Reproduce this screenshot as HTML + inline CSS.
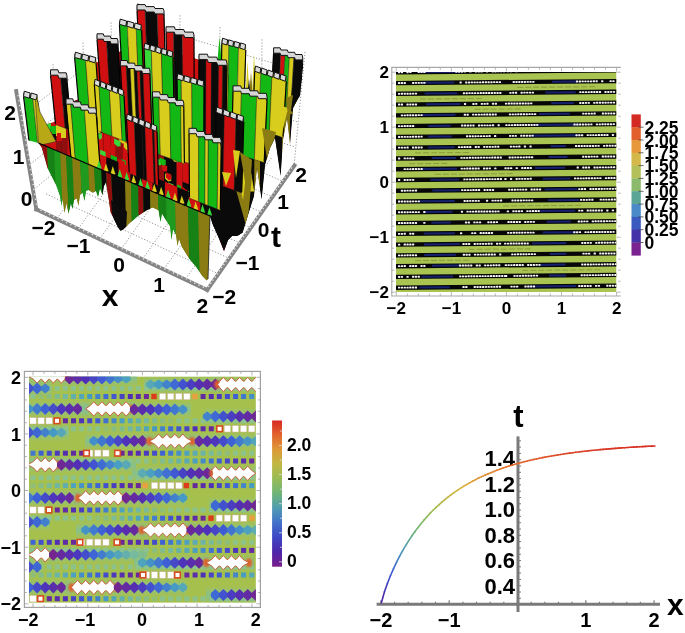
<!DOCTYPE html><html><head><meta charset="utf-8"><style>
html,body{margin:0;padding:0;background:#fff;width:685px;height:633px;overflow:hidden}
svg{display:block;filter:blur(0.6px)}
text{font-family:"Liberation Sans",sans-serif;font-weight:bold}
</style></head><body>
<svg width="685" height="633" viewBox="0 0 685 633">
<line x1="376.6" y1="604.2" x2="660" y2="604.2" stroke="#7a7a7a" stroke-width="3"/>
<line x1="518" y1="436.4" x2="518" y2="612" stroke="#7a7a7a" stroke-width="3"/>
<line x1="380.9" y1="600.2" x2="380.9" y2="604.2" stroke="#7a7a7a" stroke-width="1.2"/>
<line x1="394.6" y1="601.7" x2="394.6" y2="604.2" stroke="#7a7a7a" stroke-width="1.2"/>
<line x1="408.2" y1="601.7" x2="408.2" y2="604.2" stroke="#7a7a7a" stroke-width="1.2"/>
<line x1="421.9" y1="601.7" x2="421.9" y2="604.2" stroke="#7a7a7a" stroke-width="1.2"/>
<line x1="435.5" y1="601.7" x2="435.5" y2="604.2" stroke="#7a7a7a" stroke-width="1.2"/>
<line x1="449.2" y1="600.2" x2="449.2" y2="604.2" stroke="#7a7a7a" stroke-width="1.2"/>
<line x1="462.9" y1="601.7" x2="462.9" y2="604.2" stroke="#7a7a7a" stroke-width="1.2"/>
<line x1="476.5" y1="601.7" x2="476.5" y2="604.2" stroke="#7a7a7a" stroke-width="1.2"/>
<line x1="490.2" y1="601.7" x2="490.2" y2="604.2" stroke="#7a7a7a" stroke-width="1.2"/>
<line x1="503.8" y1="601.7" x2="503.8" y2="604.2" stroke="#7a7a7a" stroke-width="1.2"/>
<line x1="517.5" y1="600.2" x2="517.5" y2="604.2" stroke="#7a7a7a" stroke-width="1.2"/>
<line x1="531.2" y1="601.7" x2="531.2" y2="604.2" stroke="#7a7a7a" stroke-width="1.2"/>
<line x1="544.8" y1="601.7" x2="544.8" y2="604.2" stroke="#7a7a7a" stroke-width="1.2"/>
<line x1="558.5" y1="601.7" x2="558.5" y2="604.2" stroke="#7a7a7a" stroke-width="1.2"/>
<line x1="572.1" y1="601.7" x2="572.1" y2="604.2" stroke="#7a7a7a" stroke-width="1.2"/>
<line x1="585.8" y1="600.2" x2="585.8" y2="604.2" stroke="#7a7a7a" stroke-width="1.2"/>
<line x1="599.5" y1="601.7" x2="599.5" y2="604.2" stroke="#7a7a7a" stroke-width="1.2"/>
<line x1="613.1" y1="601.7" x2="613.1" y2="604.2" stroke="#7a7a7a" stroke-width="1.2"/>
<line x1="626.8" y1="601.7" x2="626.8" y2="604.2" stroke="#7a7a7a" stroke-width="1.2"/>
<line x1="640.4" y1="601.7" x2="640.4" y2="604.2" stroke="#7a7a7a" stroke-width="1.2"/>
<line x1="654.1" y1="600.2" x2="654.1" y2="604.2" stroke="#7a7a7a" stroke-width="1.2"/>
<line x1="518" y1="598.3" x2="521" y2="598.3" stroke="#7a7a7a" stroke-width="1"/>
<line x1="518" y1="592.0" x2="521" y2="592.0" stroke="#7a7a7a" stroke-width="1"/>
<line x1="518" y1="585.7" x2="521" y2="585.7" stroke="#7a7a7a" stroke-width="1"/>
<line x1="518" y1="579.4" x2="521" y2="579.4" stroke="#7a7a7a" stroke-width="1"/>
<line x1="518" y1="573.1" x2="521" y2="573.1" stroke="#7a7a7a" stroke-width="1"/>
<line x1="518" y1="566.8" x2="521" y2="566.8" stroke="#7a7a7a" stroke-width="1"/>
<line x1="518" y1="560.5" x2="521" y2="560.5" stroke="#7a7a7a" stroke-width="1"/>
<line x1="518" y1="554.2" x2="521" y2="554.2" stroke="#7a7a7a" stroke-width="1"/>
<line x1="518" y1="547.9" x2="521" y2="547.9" stroke="#7a7a7a" stroke-width="1"/>
<line x1="518" y1="541.6" x2="521" y2="541.6" stroke="#7a7a7a" stroke-width="1"/>
<line x1="518" y1="535.3" x2="521" y2="535.3" stroke="#7a7a7a" stroke-width="1"/>
<line x1="518" y1="529.0" x2="521" y2="529.0" stroke="#7a7a7a" stroke-width="1"/>
<line x1="518" y1="522.7" x2="521" y2="522.7" stroke="#7a7a7a" stroke-width="1"/>
<line x1="518" y1="516.4" x2="521" y2="516.4" stroke="#7a7a7a" stroke-width="1"/>
<line x1="518" y1="510.1" x2="521" y2="510.1" stroke="#7a7a7a" stroke-width="1"/>
<line x1="518" y1="503.8" x2="521" y2="503.8" stroke="#7a7a7a" stroke-width="1"/>
<line x1="518" y1="497.5" x2="521" y2="497.5" stroke="#7a7a7a" stroke-width="1"/>
<line x1="518" y1="491.2" x2="521" y2="491.2" stroke="#7a7a7a" stroke-width="1"/>
<line x1="518" y1="484.9" x2="521" y2="484.9" stroke="#7a7a7a" stroke-width="1"/>
<line x1="518" y1="478.6" x2="521" y2="478.6" stroke="#7a7a7a" stroke-width="1"/>
<line x1="518" y1="472.3" x2="521" y2="472.3" stroke="#7a7a7a" stroke-width="1"/>
<line x1="518" y1="466.0" x2="521" y2="466.0" stroke="#7a7a7a" stroke-width="1"/>
<line x1="518" y1="459.7" x2="521" y2="459.7" stroke="#7a7a7a" stroke-width="1"/>
<line x1="518" y1="453.4" x2="521" y2="453.4" stroke="#7a7a7a" stroke-width="1"/>
<line x1="518" y1="447.1" x2="521" y2="447.1" stroke="#7a7a7a" stroke-width="1"/>
<line x1="518" y1="440.8" x2="521" y2="440.8" stroke="#7a7a7a" stroke-width="1"/>
<text x="515" y="466.2" font-family="Liberation Sans" font-weight="bold" font-size="22" text-anchor="end">1.4</text>
<text x="515" y="491.7" font-family="Liberation Sans" font-weight="bold" font-size="22" text-anchor="end">1.2</text>
<text x="515" y="517.1" font-family="Liberation Sans" font-weight="bold" font-size="22" text-anchor="end">1.0</text>
<text x="515" y="542.6" font-family="Liberation Sans" font-weight="bold" font-size="22" text-anchor="end">0.8</text>
<text x="515" y="568.0" font-family="Liberation Sans" font-weight="bold" font-size="22" text-anchor="end">0.6</text>
<text x="515" y="593.5" font-family="Liberation Sans" font-weight="bold" font-size="22" text-anchor="end">0.4</text>
<text x="380.9" y="626.5" font-family="Liberation Sans" font-weight="bold" font-size="20" text-anchor="middle">−2</text>
<text x="449.2" y="626.5" font-family="Liberation Sans" font-weight="bold" font-size="20" text-anchor="middle">−1</text>
<text x="585.8" y="626.5" font-family="Liberation Sans" font-weight="bold" font-size="20" text-anchor="middle">1</text>
<text x="654.1" y="626.5" font-family="Liberation Sans" font-weight="bold" font-size="20" text-anchor="middle">2</text>
<text x="667" y="615" font-family="Liberation Sans" font-weight="bold" font-size="30">x</text>
<text x="518.3" y="426.8" font-family="Liberation Sans" font-weight="bold" font-size="31" text-anchor="middle">t</text>
<line x1="381.40" y1="602.80" x2="384.44" y2="591.84" stroke="#4d26aa" stroke-width="1.6" stroke-linecap="round"/>
<line x1="384.44" y1="591.84" x2="387.48" y2="583.20" stroke="#4239bb" stroke-width="1.6" stroke-linecap="round"/>
<line x1="387.48" y1="583.20" x2="390.52" y2="575.53" stroke="#3e4cc8" stroke-width="1.6" stroke-linecap="round"/>
<line x1="390.52" y1="575.53" x2="393.56" y2="568.57" stroke="#3c5dd0" stroke-width="1.6" stroke-linecap="round"/>
<line x1="393.56" y1="568.57" x2="396.59" y2="562.15" stroke="#416fca" stroke-width="1.6" stroke-linecap="round"/>
<line x1="396.59" y1="562.15" x2="399.63" y2="556.21" stroke="#4580c5" stroke-width="1.6" stroke-linecap="round"/>
<line x1="399.63" y1="556.21" x2="402.67" y2="550.66" stroke="#4990bf" stroke-width="1.6" stroke-linecap="round"/>
<line x1="402.67" y1="550.66" x2="405.71" y2="545.47" stroke="#509ab3" stroke-width="1.6" stroke-linecap="round"/>
<line x1="405.71" y1="545.47" x2="408.75" y2="540.61" stroke="#59a2a1" stroke-width="1.6" stroke-linecap="round"/>
<line x1="408.75" y1="540.61" x2="411.79" y2="536.03" stroke="#61a891" stroke-width="1.6" stroke-linecap="round"/>
<line x1="411.79" y1="536.03" x2="414.83" y2="531.71" stroke="#68af82" stroke-width="1.6" stroke-linecap="round"/>
<line x1="414.83" y1="531.71" x2="417.87" y2="527.63" stroke="#70b475" stroke-width="1.6" stroke-linecap="round"/>
<line x1="417.87" y1="527.63" x2="420.91" y2="523.78" stroke="#7ab66e" stroke-width="1.6" stroke-linecap="round"/>
<line x1="420.91" y1="523.78" x2="423.94" y2="520.14" stroke="#83b866" stroke-width="1.6" stroke-linecap="round"/>
<line x1="423.94" y1="520.14" x2="426.98" y2="516.68" stroke="#8bb960" stroke-width="1.6" stroke-linecap="round"/>
<line x1="426.98" y1="516.68" x2="430.02" y2="513.41" stroke="#94bb59" stroke-width="1.6" stroke-linecap="round"/>
<line x1="430.02" y1="513.41" x2="433.06" y2="510.30" stroke="#9bbd53" stroke-width="1.6" stroke-linecap="round"/>
<line x1="433.06" y1="510.30" x2="436.10" y2="507.34" stroke="#a3bd4e" stroke-width="1.6" stroke-linecap="round"/>
<line x1="436.10" y1="507.34" x2="439.14" y2="504.54" stroke="#aabc4c" stroke-width="1.6" stroke-linecap="round"/>
<line x1="439.14" y1="504.54" x2="442.18" y2="501.87" stroke="#b0ba49" stroke-width="1.6" stroke-linecap="round"/>
<line x1="442.18" y1="501.87" x2="445.22" y2="499.33" stroke="#b7b947" stroke-width="1.6" stroke-linecap="round"/>
<line x1="445.22" y1="499.33" x2="448.26" y2="496.91" stroke="#bdb845" stroke-width="1.6" stroke-linecap="round"/>
<line x1="448.26" y1="496.91" x2="451.29" y2="494.60" stroke="#c3b743" stroke-width="1.6" stroke-linecap="round"/>
<line x1="451.29" y1="494.60" x2="454.33" y2="492.40" stroke="#c8b641" stroke-width="1.6" stroke-linecap="round"/>
<line x1="454.33" y1="492.40" x2="457.37" y2="490.31" stroke="#ceb53f" stroke-width="1.6" stroke-linecap="round"/>
<line x1="457.37" y1="490.31" x2="460.41" y2="488.31" stroke="#d3b43d" stroke-width="1.6" stroke-linecap="round"/>
<line x1="460.41" y1="488.31" x2="463.45" y2="486.40" stroke="#d7b23b" stroke-width="1.6" stroke-linecap="round"/>
<line x1="463.45" y1="486.40" x2="466.49" y2="484.58" stroke="#d8ad3a" stroke-width="1.6" stroke-linecap="round"/>
<line x1="466.49" y1="484.58" x2="469.53" y2="482.84" stroke="#d9a83a" stroke-width="1.6" stroke-linecap="round"/>
<line x1="469.53" y1="482.84" x2="472.57" y2="481.18" stroke="#dba339" stroke-width="1.6" stroke-linecap="round"/>
<line x1="472.57" y1="481.18" x2="475.61" y2="479.60" stroke="#dc9e38" stroke-width="1.6" stroke-linecap="round"/>
<line x1="475.61" y1="479.60" x2="478.64" y2="478.08" stroke="#dd9a37" stroke-width="1.6" stroke-linecap="round"/>
<line x1="478.64" y1="478.08" x2="481.68" y2="476.63" stroke="#de9536" stroke-width="1.6" stroke-linecap="round"/>
<line x1="481.68" y1="476.63" x2="484.72" y2="475.24" stroke="#df9136" stroke-width="1.6" stroke-linecap="round"/>
<line x1="484.72" y1="475.24" x2="487.76" y2="473.92" stroke="#e08d35" stroke-width="1.6" stroke-linecap="round"/>
<line x1="487.76" y1="473.92" x2="490.80" y2="472.65" stroke="#e18a35" stroke-width="1.6" stroke-linecap="round"/>
<line x1="490.80" y1="472.65" x2="493.84" y2="471.43" stroke="#e28634" stroke-width="1.6" stroke-linecap="round"/>
<line x1="493.84" y1="471.43" x2="496.88" y2="470.27" stroke="#e38333" stroke-width="1.6" stroke-linecap="round"/>
<line x1="496.88" y1="470.27" x2="499.92" y2="469.16" stroke="#e47f33" stroke-width="1.6" stroke-linecap="round"/>
<line x1="499.92" y1="469.16" x2="502.96" y2="468.09" stroke="#e47c32" stroke-width="1.6" stroke-linecap="round"/>
<line x1="502.96" y1="468.09" x2="505.99" y2="467.07" stroke="#e57932" stroke-width="1.6" stroke-linecap="round"/>
<line x1="505.99" y1="467.07" x2="509.03" y2="466.09" stroke="#e57631" stroke-width="1.6" stroke-linecap="round"/>
<line x1="509.03" y1="466.09" x2="512.07" y2="465.15" stroke="#e57331" stroke-width="1.6" stroke-linecap="round"/>
<line x1="512.07" y1="465.15" x2="515.11" y2="464.25" stroke="#e46f30" stroke-width="1.6" stroke-linecap="round"/>
<line x1="515.11" y1="464.25" x2="518.15" y2="463.39" stroke="#e36c2f" stroke-width="1.6" stroke-linecap="round"/>
<line x1="518.15" y1="463.39" x2="521.19" y2="462.57" stroke="#e3692f" stroke-width="1.6" stroke-linecap="round"/>
<line x1="521.19" y1="462.57" x2="524.23" y2="461.77" stroke="#e2662e" stroke-width="1.6" stroke-linecap="round"/>
<line x1="524.23" y1="461.77" x2="527.27" y2="461.02" stroke="#e2632e" stroke-width="1.6" stroke-linecap="round"/>
<line x1="527.27" y1="461.02" x2="530.31" y2="460.29" stroke="#e1612d" stroke-width="1.6" stroke-linecap="round"/>
<line x1="530.31" y1="460.29" x2="533.34" y2="459.59" stroke="#e15e2d" stroke-width="1.6" stroke-linecap="round"/>
<line x1="533.34" y1="459.59" x2="536.38" y2="458.92" stroke="#e05c2c" stroke-width="1.6" stroke-linecap="round"/>
<line x1="536.38" y1="458.92" x2="539.42" y2="458.28" stroke="#e05a2c" stroke-width="1.6" stroke-linecap="round"/>
<line x1="539.42" y1="458.28" x2="542.46" y2="457.66" stroke="#df572b" stroke-width="1.6" stroke-linecap="round"/>
<line x1="542.46" y1="457.66" x2="545.50" y2="457.07" stroke="#df552b" stroke-width="1.6" stroke-linecap="round"/>
<line x1="545.50" y1="457.07" x2="548.54" y2="456.50" stroke="#df532b" stroke-width="1.6" stroke-linecap="round"/>
<line x1="548.54" y1="456.50" x2="551.58" y2="455.95" stroke="#de512a" stroke-width="1.6" stroke-linecap="round"/>
<line x1="551.58" y1="455.95" x2="554.62" y2="455.43" stroke="#de4f2a" stroke-width="1.6" stroke-linecap="round"/>
<line x1="554.62" y1="455.43" x2="557.66" y2="454.93" stroke="#de4d2a" stroke-width="1.6" stroke-linecap="round"/>
<line x1="557.66" y1="454.93" x2="560.69" y2="454.44" stroke="#dd4c29" stroke-width="1.6" stroke-linecap="round"/>
<line x1="560.69" y1="454.44" x2="563.73" y2="453.98" stroke="#dd4a29" stroke-width="1.6" stroke-linecap="round"/>
<line x1="563.73" y1="453.98" x2="566.77" y2="453.53" stroke="#dd4829" stroke-width="1.6" stroke-linecap="round"/>
<line x1="566.77" y1="453.53" x2="569.81" y2="453.10" stroke="#dc4728" stroke-width="1.6" stroke-linecap="round"/>
<line x1="569.81" y1="453.10" x2="572.85" y2="452.69" stroke="#dc4528" stroke-width="1.6" stroke-linecap="round"/>
<line x1="572.85" y1="452.69" x2="575.89" y2="452.30" stroke="#dc4428" stroke-width="1.6" stroke-linecap="round"/>
<line x1="575.89" y1="452.30" x2="578.93" y2="451.92" stroke="#dc4228" stroke-width="1.6" stroke-linecap="round"/>
<line x1="578.93" y1="451.92" x2="581.97" y2="451.55" stroke="#db4127" stroke-width="1.6" stroke-linecap="round"/>
<line x1="581.97" y1="451.55" x2="585.01" y2="451.20" stroke="#db4027" stroke-width="1.6" stroke-linecap="round"/>
<line x1="585.01" y1="451.20" x2="588.04" y2="450.86" stroke="#db3f27" stroke-width="1.6" stroke-linecap="round"/>
<line x1="588.04" y1="450.86" x2="591.08" y2="450.54" stroke="#db3d27" stroke-width="1.6" stroke-linecap="round"/>
<line x1="591.08" y1="450.54" x2="594.12" y2="450.23" stroke="#da3c26" stroke-width="1.6" stroke-linecap="round"/>
<line x1="594.12" y1="450.23" x2="597.16" y2="449.93" stroke="#da3b26" stroke-width="1.6" stroke-linecap="round"/>
<line x1="597.16" y1="449.93" x2="600.20" y2="449.64" stroke="#da3a26" stroke-width="1.6" stroke-linecap="round"/>
<line x1="600.20" y1="449.64" x2="603.24" y2="449.36" stroke="#da3926" stroke-width="1.6" stroke-linecap="round"/>
<line x1="603.24" y1="449.36" x2="606.28" y2="449.09" stroke="#da3826" stroke-width="1.6" stroke-linecap="round"/>
<line x1="606.28" y1="449.09" x2="609.32" y2="448.84" stroke="#d93725" stroke-width="1.6" stroke-linecap="round"/>
<line x1="609.32" y1="448.84" x2="612.36" y2="448.59" stroke="#d93625" stroke-width="1.6" stroke-linecap="round"/>
<line x1="612.36" y1="448.59" x2="615.39" y2="448.35" stroke="#d93525" stroke-width="1.6" stroke-linecap="round"/>
<line x1="615.39" y1="448.35" x2="618.43" y2="448.12" stroke="#d93525" stroke-width="1.6" stroke-linecap="round"/>
<line x1="618.43" y1="448.12" x2="621.47" y2="447.90" stroke="#d93425" stroke-width="1.6" stroke-linecap="round"/>
<line x1="621.47" y1="447.90" x2="624.51" y2="447.69" stroke="#d93325" stroke-width="1.6" stroke-linecap="round"/>
<line x1="624.51" y1="447.69" x2="627.55" y2="447.49" stroke="#d93225" stroke-width="1.6" stroke-linecap="round"/>
<line x1="627.55" y1="447.49" x2="630.59" y2="447.29" stroke="#d83224" stroke-width="1.6" stroke-linecap="round"/>
<line x1="630.59" y1="447.29" x2="633.63" y2="447.10" stroke="#d83124" stroke-width="1.6" stroke-linecap="round"/>
<line x1="633.63" y1="447.10" x2="636.67" y2="446.92" stroke="#d83024" stroke-width="1.6" stroke-linecap="round"/>
<line x1="636.67" y1="446.92" x2="639.71" y2="446.75" stroke="#d83024" stroke-width="1.6" stroke-linecap="round"/>
<line x1="639.71" y1="446.75" x2="642.74" y2="446.58" stroke="#d82f24" stroke-width="1.6" stroke-linecap="round"/>
<line x1="642.74" y1="446.58" x2="645.78" y2="446.42" stroke="#d82e24" stroke-width="1.6" stroke-linecap="round"/>
<line x1="645.78" y1="446.42" x2="648.82" y2="446.26" stroke="#d82e24" stroke-width="1.6" stroke-linecap="round"/>
<line x1="648.82" y1="446.26" x2="651.86" y2="446.11" stroke="#d82d24" stroke-width="1.6" stroke-linecap="round"/>
<line x1="651.86" y1="446.11" x2="654.90" y2="445.97" stroke="#d82d24" stroke-width="1.6" stroke-linecap="round"/>
<clipPath id="p2clip"><rect x="396.0" y="72.0" width="220.5" height="220.0"/></clipPath>
<g clip-path="url(#p2clip)">
<rect x="396.0" y="72.0" width="220.5" height="220.0" fill="#aac452"/>
<polygon points="396.0,59.3 616.5,57.3 616.5,61.7 396.0,63.7" fill="#060608"/>
<polygon points="427.0,60.2 457.9,60.0 457.9,62.0 427.0,62.2" fill="#16226e"/>
<polygon points="547.1,59.2 579.1,58.9 579.1,60.9 547.1,61.2" fill="#16226e"/>
<rect x="400.8" y="60.5" width="2.3" height="1.9" rx="0.6" fill="#f4f4f4"/>
<rect x="403.6" y="60.5" width="2.3" height="1.9" rx="0.6" fill="#f4f4f4"/>
<rect x="406.4" y="60.5" width="2.3" height="1.9" rx="0.6" fill="#f4f4f4"/>
<rect x="409.2" y="60.5" width="2.3" height="1.9" rx="0.6" fill="#f4f4f4"/>
<rect x="412.0" y="60.4" width="2.3" height="1.9" rx="0.6" fill="#f4f4f4"/>
<rect x="414.8" y="60.4" width="2.3" height="1.9" rx="0.6" fill="#f4f4f4"/>
<rect x="417.6" y="60.4" width="2.3" height="1.9" rx="0.6" fill="#f4f4f4"/>
<rect x="420.4" y="60.4" width="2.3" height="1.9" rx="0.6" fill="#f4f4f4"/>
<rect x="467.0" y="59.9" width="2.3" height="1.9" rx="0.6" fill="#f4f4f4"/>
<rect x="469.8" y="59.9" width="2.3" height="1.9" rx="0.6" fill="#f4f4f4"/>
<rect x="472.6" y="59.9" width="2.3" height="1.9" rx="0.6" fill="#f4f4f4"/>
<rect x="475.4" y="59.9" width="2.3" height="1.9" rx="0.6" fill="#f4f4f4"/>
<rect x="478.2" y="59.8" width="2.3" height="1.9" rx="0.6" fill="#f4f4f4"/>
<rect x="481.0" y="59.8" width="2.3" height="1.9" rx="0.6" fill="#f4f4f4"/>
<rect x="483.8" y="59.8" width="2.3" height="1.9" rx="0.6" fill="#f4f4f4"/>
<rect x="489.4" y="59.7" width="2.3" height="1.9" rx="0.6" fill="#f4f4f4"/>
<rect x="492.2" y="59.7" width="2.3" height="1.9" rx="0.6" fill="#f4f4f4"/>
<rect x="510.5" y="59.5" width="2.3" height="1.9" rx="0.6" fill="#f4f4f4"/>
<rect x="516.1" y="59.5" width="2.3" height="1.9" rx="0.6" fill="#f4f4f4"/>
<rect x="518.9" y="59.5" width="2.3" height="1.9" rx="0.6" fill="#f4f4f4"/>
<rect x="521.7" y="59.4" width="2.3" height="1.9" rx="0.6" fill="#f4f4f4"/>
<rect x="527.3" y="59.4" width="2.3" height="1.9" rx="0.6" fill="#f4f4f4"/>
<rect x="535.7" y="59.3" width="2.3" height="1.9" rx="0.6" fill="#f4f4f4"/>
<rect x="538.5" y="59.3" width="2.3" height="1.9" rx="0.6" fill="#f4f4f4"/>
<rect x="579.5" y="58.9" width="2.3" height="1.9" rx="0.6" fill="#f4f4f4"/>
<rect x="582.3" y="58.9" width="2.3" height="1.9" rx="0.6" fill="#f4f4f4"/>
<rect x="585.1" y="58.9" width="2.3" height="1.9" rx="0.6" fill="#f4f4f4"/>
<rect x="587.9" y="58.8" width="2.3" height="1.9" rx="0.6" fill="#f4f4f4"/>
<rect x="590.7" y="58.8" width="2.3" height="1.9" rx="0.6" fill="#f4f4f4"/>
<rect x="593.5" y="58.8" width="2.3" height="1.9" rx="0.6" fill="#f4f4f4"/>
<rect x="596.3" y="58.8" width="2.3" height="1.9" rx="0.6" fill="#f4f4f4"/>
<rect x="599.1" y="58.7" width="2.3" height="1.9" rx="0.6" fill="#f4f4f4"/>
<rect x="601.9" y="58.7" width="2.3" height="1.9" rx="0.6" fill="#f4f4f4"/>
<rect x="604.7" y="58.7" width="2.3" height="1.9" rx="0.6" fill="#f4f4f4"/>
<rect x="607.5" y="58.7" width="2.3" height="1.9" rx="0.6" fill="#f4f4f4"/>
<rect x="610.3" y="58.6" width="2.3" height="1.9" rx="0.6" fill="#f4f4f4"/>
<rect x="613.1" y="58.6" width="2.3" height="1.9" rx="0.6" fill="#f4f4f4"/>
<polygon points="396.0,70.1 616.5,68.1 616.5,72.5 396.0,74.5" fill="#060608"/>
<polygon points="417.9,71.1 460.7,70.7 460.7,72.7 417.9,73.1" fill="#16226e"/>
<polygon points="528.5,70.1 576.0,69.7 576.0,71.7 528.5,72.1" fill="#16226e"/>
<rect x="398.0" y="71.3" width="2.3" height="1.9" rx="0.6" fill="#f4f4f4"/>
<rect x="400.8" y="71.3" width="2.3" height="1.9" rx="0.6" fill="#f4f4f4"/>
<rect x="406.4" y="71.3" width="2.3" height="1.9" rx="0.6" fill="#f4f4f4"/>
<rect x="409.2" y="71.2" width="2.3" height="1.9" rx="0.6" fill="#f4f4f4"/>
<rect x="417.6" y="71.2" width="2.3" height="1.9" rx="0.6" fill="#f4f4f4"/>
<rect x="420.4" y="71.1" width="2.3" height="1.9" rx="0.6" fill="#f4f4f4"/>
<rect x="423.2" y="71.1" width="2.3" height="1.9" rx="0.6" fill="#f4f4f4"/>
<rect x="455.2" y="70.8" width="2.3" height="1.9" rx="0.6" fill="#f4f4f4"/>
<rect x="458.0" y="70.8" width="2.3" height="1.9" rx="0.6" fill="#f4f4f4"/>
<rect x="460.8" y="70.8" width="2.3" height="1.9" rx="0.6" fill="#f4f4f4"/>
<rect x="463.6" y="70.7" width="2.3" height="1.9" rx="0.6" fill="#f4f4f4"/>
<rect x="469.2" y="70.7" width="2.3" height="1.9" rx="0.6" fill="#f4f4f4"/>
<rect x="474.8" y="70.6" width="2.3" height="1.9" rx="0.6" fill="#f4f4f4"/>
<rect x="477.6" y="70.6" width="2.3" height="1.9" rx="0.6" fill="#f4f4f4"/>
<rect x="480.4" y="70.6" width="2.3" height="1.9" rx="0.6" fill="#f4f4f4"/>
<rect x="486.0" y="70.5" width="2.3" height="1.9" rx="0.6" fill="#f4f4f4"/>
<rect x="491.6" y="70.5" width="2.3" height="1.9" rx="0.6" fill="#f4f4f4"/>
<rect x="494.4" y="70.5" width="2.3" height="1.9" rx="0.6" fill="#f4f4f4"/>
<rect x="497.2" y="70.4" width="2.3" height="1.9" rx="0.6" fill="#f4f4f4"/>
<rect x="500.0" y="70.4" width="2.3" height="1.9" rx="0.6" fill="#f4f4f4"/>
<rect x="502.8" y="70.4" width="2.3" height="1.9" rx="0.6" fill="#f4f4f4"/>
<rect x="506.9" y="70.3" width="2.3" height="1.9" rx="0.6" fill="#f4f4f4"/>
<rect x="509.7" y="70.3" width="2.3" height="1.9" rx="0.6" fill="#f4f4f4"/>
<rect x="515.3" y="70.3" width="2.3" height="1.9" rx="0.6" fill="#f4f4f4"/>
<rect x="518.1" y="70.2" width="2.3" height="1.9" rx="0.6" fill="#f4f4f4"/>
<rect x="523.7" y="70.2" width="2.3" height="1.9" rx="0.6" fill="#f4f4f4"/>
<rect x="526.5" y="70.2" width="2.3" height="1.9" rx="0.6" fill="#f4f4f4"/>
<rect x="529.3" y="70.1" width="2.3" height="1.9" rx="0.6" fill="#f4f4f4"/>
<rect x="532.1" y="70.1" width="2.3" height="1.9" rx="0.6" fill="#f4f4f4"/>
<rect x="534.9" y="70.1" width="2.3" height="1.9" rx="0.6" fill="#f4f4f4"/>
<rect x="573.1" y="69.7" width="2.3" height="1.9" rx="0.6" fill="#f4f4f4"/>
<rect x="575.9" y="69.7" width="2.3" height="1.9" rx="0.6" fill="#f4f4f4"/>
<rect x="578.7" y="69.7" width="2.3" height="1.9" rx="0.6" fill="#f4f4f4"/>
<rect x="584.3" y="69.6" width="2.3" height="1.9" rx="0.6" fill="#f4f4f4"/>
<rect x="587.1" y="69.6" width="2.3" height="1.9" rx="0.6" fill="#f4f4f4"/>
<rect x="589.9" y="69.6" width="2.3" height="1.9" rx="0.6" fill="#f4f4f4"/>
<rect x="592.7" y="69.6" width="2.3" height="1.9" rx="0.6" fill="#f4f4f4"/>
<rect x="595.5" y="69.5" width="2.3" height="1.9" rx="0.6" fill="#f4f4f4"/>
<rect x="601.1" y="69.5" width="2.3" height="1.9" rx="0.6" fill="#f4f4f4"/>
<rect x="603.9" y="69.5" width="2.3" height="1.9" rx="0.6" fill="#f4f4f4"/>
<rect x="606.7" y="69.4" width="2.3" height="1.9" rx="0.6" fill="#f4f4f4"/>
<rect x="609.5" y="69.4" width="2.3" height="1.9" rx="0.6" fill="#f4f4f4"/>
<rect x="612.3" y="69.4" width="2.3" height="1.9" rx="0.6" fill="#f4f4f4"/>
<polygon points="396.0,80.9 616.5,78.9 616.5,83.3 396.0,85.3" fill="#060608"/>
<polygon points="421.7,81.8 454.4,81.5 454.4,83.5 421.7,83.8" fill="#16226e"/>
<polygon points="552.0,80.7 577.6,80.4 577.6,82.4 552.0,82.7" fill="#16226e"/>
<rect x="398.0" y="82.1" width="2.3" height="1.9" rx="0.6" fill="#f4f4f4"/>
<rect x="400.8" y="82.1" width="2.3" height="1.9" rx="0.6" fill="#f4f4f4"/>
<rect x="403.6" y="82.1" width="2.3" height="1.9" rx="0.6" fill="#f4f4f4"/>
<rect x="412.0" y="82.0" width="2.3" height="1.9" rx="0.6" fill="#f4f4f4"/>
<rect x="414.8" y="81.9" width="2.3" height="1.9" rx="0.6" fill="#f4f4f4"/>
<rect x="417.6" y="81.9" width="2.3" height="1.9" rx="0.6" fill="#f4f4f4"/>
<rect x="420.4" y="81.9" width="2.3" height="1.9" rx="0.6" fill="#f4f4f4"/>
<rect x="423.2" y="81.9" width="2.3" height="1.9" rx="0.6" fill="#f4f4f4"/>
<rect x="459.5" y="81.5" width="2.3" height="1.9" rx="0.6" fill="#f4f4f4"/>
<rect x="465.1" y="81.5" width="2.3" height="1.9" rx="0.6" fill="#f4f4f4"/>
<rect x="467.9" y="81.5" width="2.3" height="1.9" rx="0.6" fill="#f4f4f4"/>
<rect x="470.7" y="81.4" width="2.3" height="1.9" rx="0.6" fill="#f4f4f4"/>
<rect x="473.5" y="81.4" width="2.3" height="1.9" rx="0.6" fill="#f4f4f4"/>
<rect x="476.3" y="81.4" width="2.3" height="1.9" rx="0.6" fill="#f4f4f4"/>
<rect x="479.1" y="81.4" width="2.3" height="1.9" rx="0.6" fill="#f4f4f4"/>
<rect x="481.9" y="81.3" width="2.3" height="1.9" rx="0.6" fill="#f4f4f4"/>
<rect x="484.7" y="81.3" width="2.3" height="1.9" rx="0.6" fill="#f4f4f4"/>
<rect x="487.5" y="81.3" width="2.3" height="1.9" rx="0.6" fill="#f4f4f4"/>
<rect x="490.3" y="81.3" width="2.3" height="1.9" rx="0.6" fill="#f4f4f4"/>
<rect x="493.1" y="81.2" width="2.3" height="1.9" rx="0.6" fill="#f4f4f4"/>
<rect x="495.9" y="81.2" width="2.3" height="1.9" rx="0.6" fill="#f4f4f4"/>
<rect x="498.7" y="81.2" width="2.3" height="1.9" rx="0.6" fill="#f4f4f4"/>
<rect x="512.6" y="81.1" width="2.3" height="1.9" rx="0.6" fill="#f4f4f4"/>
<rect x="515.4" y="81.0" width="2.3" height="1.9" rx="0.6" fill="#f4f4f4"/>
<rect x="518.2" y="81.0" width="2.3" height="1.9" rx="0.6" fill="#f4f4f4"/>
<rect x="521.0" y="81.0" width="2.3" height="1.9" rx="0.6" fill="#f4f4f4"/>
<rect x="523.8" y="81.0" width="2.3" height="1.9" rx="0.6" fill="#f4f4f4"/>
<rect x="526.6" y="80.9" width="2.3" height="1.9" rx="0.6" fill="#f4f4f4"/>
<rect x="529.4" y="80.9" width="2.3" height="1.9" rx="0.6" fill="#f4f4f4"/>
<rect x="532.2" y="80.9" width="2.3" height="1.9" rx="0.6" fill="#f4f4f4"/>
<rect x="575.9" y="80.5" width="2.3" height="1.9" rx="0.6" fill="#f4f4f4"/>
<rect x="578.7" y="80.5" width="2.3" height="1.9" rx="0.6" fill="#f4f4f4"/>
<rect x="581.5" y="80.4" width="2.3" height="1.9" rx="0.6" fill="#f4f4f4"/>
<rect x="584.3" y="80.4" width="2.3" height="1.9" rx="0.6" fill="#f4f4f4"/>
<rect x="587.1" y="80.4" width="2.3" height="1.9" rx="0.6" fill="#f4f4f4"/>
<rect x="589.9" y="80.4" width="2.3" height="1.9" rx="0.6" fill="#f4f4f4"/>
<rect x="592.7" y="80.3" width="2.3" height="1.9" rx="0.6" fill="#f4f4f4"/>
<rect x="595.5" y="80.3" width="2.3" height="1.9" rx="0.6" fill="#f4f4f4"/>
<rect x="601.1" y="80.3" width="2.3" height="1.9" rx="0.6" fill="#f4f4f4"/>
<rect x="609.5" y="80.2" width="2.3" height="1.9" rx="0.6" fill="#f4f4f4"/>
<rect x="612.3" y="80.2" width="2.3" height="1.9" rx="0.6" fill="#f4f4f4"/>
<rect x="517.1" y="86.9" width="6.0" height="1" fill="#8c9a3a"/>
<rect x="525.1" y="86.8" width="6.0" height="1" fill="#8c9a3a"/>
<rect x="533.1" y="86.7" width="6.0" height="1" fill="#8c9a3a"/>
<rect x="541.1" y="86.7" width="6.0" height="1" fill="#8c9a3a"/>
<rect x="549.1" y="86.6" width="6.0" height="1" fill="#8c9a3a"/>
<rect x="557.1" y="86.5" width="6.0" height="1" fill="#8c9a3a"/>
<rect x="565.1" y="86.4" width="6.0" height="1" fill="#8c9a3a"/>
<rect x="573.1" y="86.4" width="6.0" height="1" fill="#8c9a3a"/>
<rect x="581.1" y="86.3" width="6.0" height="1" fill="#8c9a3a"/>
<rect x="589.1" y="86.2" width="6.0" height="1" fill="#8c9a3a"/>
<polygon points="396.0,91.6 616.5,89.6 616.5,94.0 396.0,96.0" fill="#060608"/>
<polygon points="424.6,92.6 457.3,92.3 457.3,94.3 424.6,94.6" fill="#16226e"/>
<polygon points="545.3,91.5 575.7,91.2 575.7,93.2 545.3,93.5" fill="#16226e"/>
<rect x="398.0" y="92.9" width="2.3" height="1.9" rx="0.6" fill="#f4f4f4"/>
<rect x="400.8" y="92.8" width="2.3" height="1.9" rx="0.6" fill="#f4f4f4"/>
<rect x="403.6" y="92.8" width="2.3" height="1.9" rx="0.6" fill="#f4f4f4"/>
<rect x="406.4" y="92.8" width="2.3" height="1.9" rx="0.6" fill="#f4f4f4"/>
<rect x="409.2" y="92.8" width="2.3" height="1.9" rx="0.6" fill="#f4f4f4"/>
<rect x="412.0" y="92.7" width="2.3" height="1.9" rx="0.6" fill="#f4f4f4"/>
<rect x="414.8" y="92.7" width="2.3" height="1.9" rx="0.6" fill="#f4f4f4"/>
<rect x="462.8" y="92.3" width="2.3" height="1.9" rx="0.6" fill="#f4f4f4"/>
<rect x="465.6" y="92.3" width="2.3" height="1.9" rx="0.6" fill="#f4f4f4"/>
<rect x="468.4" y="92.2" width="2.3" height="1.9" rx="0.6" fill="#f4f4f4"/>
<rect x="471.2" y="92.2" width="2.3" height="1.9" rx="0.6" fill="#f4f4f4"/>
<rect x="474.0" y="92.2" width="2.3" height="1.9" rx="0.6" fill="#f4f4f4"/>
<rect x="476.8" y="92.2" width="2.3" height="1.9" rx="0.6" fill="#f4f4f4"/>
<rect x="479.6" y="92.1" width="2.3" height="1.9" rx="0.6" fill="#f4f4f4"/>
<rect x="482.4" y="92.1" width="2.3" height="1.9" rx="0.6" fill="#f4f4f4"/>
<rect x="485.2" y="92.1" width="2.3" height="1.9" rx="0.6" fill="#f4f4f4"/>
<rect x="488.0" y="92.1" width="2.3" height="1.9" rx="0.6" fill="#f4f4f4"/>
<rect x="490.8" y="92.0" width="2.3" height="1.9" rx="0.6" fill="#f4f4f4"/>
<rect x="493.6" y="92.0" width="2.3" height="1.9" rx="0.6" fill="#f4f4f4"/>
<rect x="496.4" y="92.0" width="2.3" height="1.9" rx="0.6" fill="#f4f4f4"/>
<rect x="499.2" y="92.0" width="2.3" height="1.9" rx="0.6" fill="#f4f4f4"/>
<rect x="509.3" y="91.9" width="2.3" height="1.9" rx="0.6" fill="#f4f4f4"/>
<rect x="512.1" y="91.8" width="2.3" height="1.9" rx="0.6" fill="#f4f4f4"/>
<rect x="514.9" y="91.8" width="2.3" height="1.9" rx="0.6" fill="#f4f4f4"/>
<rect x="520.5" y="91.8" width="2.3" height="1.9" rx="0.6" fill="#f4f4f4"/>
<rect x="523.3" y="91.7" width="2.3" height="1.9" rx="0.6" fill="#f4f4f4"/>
<rect x="526.1" y="91.7" width="2.3" height="1.9" rx="0.6" fill="#f4f4f4"/>
<rect x="528.9" y="91.7" width="2.3" height="1.9" rx="0.6" fill="#f4f4f4"/>
<rect x="531.7" y="91.7" width="2.3" height="1.9" rx="0.6" fill="#f4f4f4"/>
<rect x="579.2" y="91.2" width="2.3" height="1.9" rx="0.6" fill="#f4f4f4"/>
<rect x="582.0" y="91.2" width="2.3" height="1.9" rx="0.6" fill="#f4f4f4"/>
<rect x="584.8" y="91.2" width="2.3" height="1.9" rx="0.6" fill="#f4f4f4"/>
<rect x="587.6" y="91.2" width="2.3" height="1.9" rx="0.6" fill="#f4f4f4"/>
<rect x="590.4" y="91.1" width="2.3" height="1.9" rx="0.6" fill="#f4f4f4"/>
<rect x="593.2" y="91.1" width="2.3" height="1.9" rx="0.6" fill="#f4f4f4"/>
<rect x="596.0" y="91.1" width="2.3" height="1.9" rx="0.6" fill="#f4f4f4"/>
<rect x="598.8" y="91.1" width="2.3" height="1.9" rx="0.6" fill="#f4f4f4"/>
<rect x="604.4" y="91.0" width="2.3" height="1.9" rx="0.6" fill="#f4f4f4"/>
<rect x="607.2" y="91.0" width="2.3" height="1.9" rx="0.6" fill="#f4f4f4"/>
<rect x="610.0" y="90.9" width="2.3" height="1.9" rx="0.6" fill="#f4f4f4"/>
<rect x="612.8" y="90.9" width="2.3" height="1.9" rx="0.6" fill="#f4f4f4"/>
<rect x="419.9" y="98.5" width="6.0" height="1" fill="#8c9a3a"/>
<rect x="427.9" y="98.5" width="6.0" height="1" fill="#8c9a3a"/>
<rect x="435.9" y="98.4" width="6.0" height="1" fill="#8c9a3a"/>
<rect x="443.9" y="98.3" width="6.0" height="1" fill="#8c9a3a"/>
<rect x="451.9" y="98.2" width="6.0" height="1" fill="#8c9a3a"/>
<rect x="459.9" y="98.2" width="6.0" height="1" fill="#8c9a3a"/>
<rect x="467.9" y="98.1" width="6.0" height="1" fill="#8c9a3a"/>
<rect x="475.9" y="98.0" width="6.0" height="1" fill="#8c9a3a"/>
<polygon points="396.0,102.4 616.5,100.4 616.5,104.8 396.0,106.8" fill="#060608"/>
<polygon points="426.0,103.3 460.5,103.0 460.5,105.0 426.0,105.3" fill="#16226e"/>
<polygon points="551.2,102.2 573.7,102.0 573.7,104.0 551.2,104.2" fill="#16226e"/>
<rect x="398.0" y="103.6" width="2.3" height="1.9" rx="0.6" fill="#f4f4f4"/>
<rect x="400.8" y="103.6" width="2.3" height="1.9" rx="0.6" fill="#f4f4f4"/>
<rect x="406.4" y="103.6" width="2.3" height="1.9" rx="0.6" fill="#f4f4f4"/>
<rect x="409.2" y="103.5" width="2.3" height="1.9" rx="0.6" fill="#f4f4f4"/>
<rect x="412.0" y="103.5" width="2.3" height="1.9" rx="0.6" fill="#f4f4f4"/>
<rect x="414.8" y="103.5" width="2.3" height="1.9" rx="0.6" fill="#f4f4f4"/>
<rect x="463.9" y="103.0" width="2.3" height="1.9" rx="0.6" fill="#f4f4f4"/>
<rect x="472.3" y="103.0" width="2.3" height="1.9" rx="0.6" fill="#f4f4f4"/>
<rect x="475.1" y="102.9" width="2.3" height="1.9" rx="0.6" fill="#f4f4f4"/>
<rect x="480.7" y="102.9" width="2.3" height="1.9" rx="0.6" fill="#f4f4f4"/>
<rect x="483.5" y="102.9" width="2.3" height="1.9" rx="0.6" fill="#f4f4f4"/>
<rect x="486.3" y="102.8" width="2.3" height="1.9" rx="0.6" fill="#f4f4f4"/>
<rect x="491.9" y="102.8" width="2.3" height="1.9" rx="0.6" fill="#f4f4f4"/>
<rect x="494.7" y="102.8" width="2.3" height="1.9" rx="0.6" fill="#f4f4f4"/>
<rect x="504.9" y="102.7" width="2.3" height="1.9" rx="0.6" fill="#f4f4f4"/>
<rect x="507.7" y="102.6" width="2.3" height="1.9" rx="0.6" fill="#f4f4f4"/>
<rect x="510.5" y="102.6" width="2.3" height="1.9" rx="0.6" fill="#f4f4f4"/>
<rect x="513.3" y="102.6" width="2.3" height="1.9" rx="0.6" fill="#f4f4f4"/>
<rect x="516.1" y="102.6" width="2.3" height="1.9" rx="0.6" fill="#f4f4f4"/>
<rect x="518.9" y="102.5" width="2.3" height="1.9" rx="0.6" fill="#f4f4f4"/>
<rect x="521.7" y="102.5" width="2.3" height="1.9" rx="0.6" fill="#f4f4f4"/>
<rect x="524.5" y="102.5" width="2.3" height="1.9" rx="0.6" fill="#f4f4f4"/>
<rect x="527.3" y="102.5" width="2.3" height="1.9" rx="0.6" fill="#f4f4f4"/>
<rect x="530.1" y="102.4" width="2.3" height="1.9" rx="0.6" fill="#f4f4f4"/>
<rect x="579.2" y="102.0" width="2.3" height="1.9" rx="0.6" fill="#f4f4f4"/>
<rect x="582.0" y="102.0" width="2.3" height="1.9" rx="0.6" fill="#f4f4f4"/>
<rect x="584.8" y="101.9" width="2.3" height="1.9" rx="0.6" fill="#f4f4f4"/>
<rect x="587.6" y="101.9" width="2.3" height="1.9" rx="0.6" fill="#f4f4f4"/>
<rect x="593.2" y="101.9" width="2.3" height="1.9" rx="0.6" fill="#f4f4f4"/>
<rect x="596.0" y="101.8" width="2.3" height="1.9" rx="0.6" fill="#f4f4f4"/>
<rect x="598.8" y="101.8" width="2.3" height="1.9" rx="0.6" fill="#f4f4f4"/>
<rect x="601.6" y="101.8" width="2.3" height="1.9" rx="0.6" fill="#f4f4f4"/>
<rect x="604.4" y="101.8" width="2.3" height="1.9" rx="0.6" fill="#f4f4f4"/>
<rect x="607.2" y="101.7" width="2.3" height="1.9" rx="0.6" fill="#f4f4f4"/>
<rect x="610.0" y="101.7" width="2.3" height="1.9" rx="0.6" fill="#f4f4f4"/>
<rect x="612.8" y="101.7" width="2.3" height="1.9" rx="0.6" fill="#f4f4f4"/>
<rect x="474.7" y="108.8" width="6.0" height="1" fill="#8c9a3a"/>
<rect x="482.7" y="108.7" width="6.0" height="1" fill="#8c9a3a"/>
<rect x="490.7" y="108.7" width="6.0" height="1" fill="#8c9a3a"/>
<rect x="498.7" y="108.6" width="6.0" height="1" fill="#8c9a3a"/>
<rect x="506.7" y="108.5" width="6.0" height="1" fill="#8c9a3a"/>
<rect x="514.7" y="108.4" width="6.0" height="1" fill="#8c9a3a"/>
<polygon points="396.0,113.2 616.5,111.2 616.5,115.6 396.0,117.6" fill="#060608"/>
<polygon points="421.7,114.1 455.4,113.8 455.4,115.8 421.7,116.1" fill="#16226e"/>
<polygon points="539.1,113.1 569.8,112.8 569.8,114.8 539.1,115.1" fill="#16226e"/>
<rect x="400.8" y="114.4" width="2.3" height="1.9" rx="0.6" fill="#f4f4f4"/>
<rect x="403.6" y="114.4" width="2.3" height="1.9" rx="0.6" fill="#f4f4f4"/>
<rect x="406.4" y="114.3" width="2.3" height="1.9" rx="0.6" fill="#f4f4f4"/>
<rect x="409.2" y="114.3" width="2.3" height="1.9" rx="0.6" fill="#f4f4f4"/>
<rect x="412.0" y="114.3" width="2.3" height="1.9" rx="0.6" fill="#f4f4f4"/>
<rect x="414.8" y="114.3" width="2.3" height="1.9" rx="0.6" fill="#f4f4f4"/>
<rect x="417.6" y="114.2" width="2.3" height="1.9" rx="0.6" fill="#f4f4f4"/>
<rect x="420.4" y="114.2" width="2.3" height="1.9" rx="0.6" fill="#f4f4f4"/>
<rect x="463.7" y="113.8" width="2.3" height="1.9" rx="0.6" fill="#f4f4f4"/>
<rect x="466.5" y="113.8" width="2.3" height="1.9" rx="0.6" fill="#f4f4f4"/>
<rect x="472.1" y="113.7" width="2.3" height="1.9" rx="0.6" fill="#f4f4f4"/>
<rect x="474.9" y="113.7" width="2.3" height="1.9" rx="0.6" fill="#f4f4f4"/>
<rect x="477.7" y="113.7" width="2.3" height="1.9" rx="0.6" fill="#f4f4f4"/>
<rect x="480.5" y="113.7" width="2.3" height="1.9" rx="0.6" fill="#f4f4f4"/>
<rect x="483.3" y="113.6" width="2.3" height="1.9" rx="0.6" fill="#f4f4f4"/>
<rect x="486.1" y="113.6" width="2.3" height="1.9" rx="0.6" fill="#f4f4f4"/>
<rect x="488.9" y="113.6" width="2.3" height="1.9" rx="0.6" fill="#f4f4f4"/>
<rect x="491.7" y="113.6" width="2.3" height="1.9" rx="0.6" fill="#f4f4f4"/>
<rect x="494.5" y="113.5" width="2.3" height="1.9" rx="0.6" fill="#f4f4f4"/>
<rect x="508.8" y="113.4" width="2.3" height="1.9" rx="0.6" fill="#f4f4f4"/>
<rect x="511.6" y="113.4" width="2.3" height="1.9" rx="0.6" fill="#f4f4f4"/>
<rect x="514.4" y="113.4" width="2.3" height="1.9" rx="0.6" fill="#f4f4f4"/>
<rect x="517.2" y="113.3" width="2.3" height="1.9" rx="0.6" fill="#f4f4f4"/>
<rect x="520.0" y="113.3" width="2.3" height="1.9" rx="0.6" fill="#f4f4f4"/>
<rect x="522.8" y="113.3" width="2.3" height="1.9" rx="0.6" fill="#f4f4f4"/>
<rect x="525.6" y="113.3" width="2.3" height="1.9" rx="0.6" fill="#f4f4f4"/>
<rect x="528.4" y="113.2" width="2.3" height="1.9" rx="0.6" fill="#f4f4f4"/>
<rect x="531.2" y="113.2" width="2.3" height="1.9" rx="0.6" fill="#f4f4f4"/>
<rect x="534.0" y="113.2" width="2.3" height="1.9" rx="0.6" fill="#f4f4f4"/>
<rect x="582.2" y="112.7" width="2.3" height="1.9" rx="0.6" fill="#f4f4f4"/>
<rect x="585.0" y="112.7" width="2.3" height="1.9" rx="0.6" fill="#f4f4f4"/>
<rect x="587.8" y="112.7" width="2.3" height="1.9" rx="0.6" fill="#f4f4f4"/>
<rect x="590.6" y="112.7" width="2.3" height="1.9" rx="0.6" fill="#f4f4f4"/>
<rect x="593.4" y="112.6" width="2.3" height="1.9" rx="0.6" fill="#f4f4f4"/>
<rect x="601.8" y="112.6" width="2.3" height="1.9" rx="0.6" fill="#f4f4f4"/>
<rect x="604.6" y="112.5" width="2.3" height="1.9" rx="0.6" fill="#f4f4f4"/>
<rect x="607.4" y="112.5" width="2.3" height="1.9" rx="0.6" fill="#f4f4f4"/>
<rect x="610.2" y="112.5" width="2.3" height="1.9" rx="0.6" fill="#f4f4f4"/>
<rect x="613.0" y="112.5" width="2.3" height="1.9" rx="0.6" fill="#f4f4f4"/>
<polygon points="396.0,123.9 616.5,121.9 616.5,126.3 396.0,128.3" fill="#060608"/>
<polygon points="428.4,124.9 450.6,124.7 450.6,126.7 428.4,126.9" fill="#16226e"/>
<polygon points="535.0,123.9 578.7,123.5 578.7,125.5 535.0,125.9" fill="#16226e"/>
<rect x="398.0" y="125.2" width="2.3" height="1.9" rx="0.6" fill="#f4f4f4"/>
<rect x="400.8" y="125.2" width="2.3" height="1.9" rx="0.6" fill="#f4f4f4"/>
<rect x="403.6" y="125.1" width="2.3" height="1.9" rx="0.6" fill="#f4f4f4"/>
<rect x="406.4" y="125.1" width="2.3" height="1.9" rx="0.6" fill="#f4f4f4"/>
<rect x="409.2" y="125.1" width="2.3" height="1.9" rx="0.6" fill="#f4f4f4"/>
<rect x="412.0" y="125.1" width="2.3" height="1.9" rx="0.6" fill="#f4f4f4"/>
<rect x="461.1" y="124.6" width="2.3" height="1.9" rx="0.6" fill="#f4f4f4"/>
<rect x="463.9" y="124.6" width="2.3" height="1.9" rx="0.6" fill="#f4f4f4"/>
<rect x="466.7" y="124.6" width="2.3" height="1.9" rx="0.6" fill="#f4f4f4"/>
<rect x="469.5" y="124.5" width="2.3" height="1.9" rx="0.6" fill="#f4f4f4"/>
<rect x="472.3" y="124.5" width="2.3" height="1.9" rx="0.6" fill="#f4f4f4"/>
<rect x="477.9" y="124.5" width="2.3" height="1.9" rx="0.6" fill="#f4f4f4"/>
<rect x="480.7" y="124.4" width="2.3" height="1.9" rx="0.6" fill="#f4f4f4"/>
<rect x="483.5" y="124.4" width="2.3" height="1.9" rx="0.6" fill="#f4f4f4"/>
<rect x="486.3" y="124.4" width="2.3" height="1.9" rx="0.6" fill="#f4f4f4"/>
<rect x="489.1" y="124.4" width="2.3" height="1.9" rx="0.6" fill="#f4f4f4"/>
<rect x="491.9" y="124.3" width="2.3" height="1.9" rx="0.6" fill="#f4f4f4"/>
<rect x="497.5" y="124.3" width="2.3" height="1.9" rx="0.6" fill="#f4f4f4"/>
<rect x="505.3" y="124.2" width="2.3" height="1.9" rx="0.6" fill="#f4f4f4"/>
<rect x="508.1" y="124.2" width="2.3" height="1.9" rx="0.6" fill="#f4f4f4"/>
<rect x="510.9" y="124.2" width="2.3" height="1.9" rx="0.6" fill="#f4f4f4"/>
<rect x="513.7" y="124.1" width="2.3" height="1.9" rx="0.6" fill="#f4f4f4"/>
<rect x="516.5" y="124.1" width="2.3" height="1.9" rx="0.6" fill="#f4f4f4"/>
<rect x="519.3" y="124.1" width="2.3" height="1.9" rx="0.6" fill="#f4f4f4"/>
<rect x="522.1" y="124.1" width="2.3" height="1.9" rx="0.6" fill="#f4f4f4"/>
<rect x="524.9" y="124.0" width="2.3" height="1.9" rx="0.6" fill="#f4f4f4"/>
<rect x="527.7" y="124.0" width="2.3" height="1.9" rx="0.6" fill="#f4f4f4"/>
<rect x="530.5" y="124.0" width="2.3" height="1.9" rx="0.6" fill="#f4f4f4"/>
<rect x="533.3" y="124.0" width="2.3" height="1.9" rx="0.6" fill="#f4f4f4"/>
<rect x="536.1" y="123.9" width="2.3" height="1.9" rx="0.6" fill="#f4f4f4"/>
<rect x="573.4" y="123.6" width="2.3" height="1.9" rx="0.6" fill="#f4f4f4"/>
<rect x="576.2" y="123.6" width="2.3" height="1.9" rx="0.6" fill="#f4f4f4"/>
<rect x="579.0" y="123.5" width="2.3" height="1.9" rx="0.6" fill="#f4f4f4"/>
<rect x="581.8" y="123.5" width="2.3" height="1.9" rx="0.6" fill="#f4f4f4"/>
<rect x="584.6" y="123.5" width="2.3" height="1.9" rx="0.6" fill="#f4f4f4"/>
<rect x="587.4" y="123.5" width="2.3" height="1.9" rx="0.6" fill="#f4f4f4"/>
<rect x="590.2" y="123.4" width="2.3" height="1.9" rx="0.6" fill="#f4f4f4"/>
<rect x="595.8" y="123.4" width="2.3" height="1.9" rx="0.6" fill="#f4f4f4"/>
<rect x="598.6" y="123.4" width="2.3" height="1.9" rx="0.6" fill="#f4f4f4"/>
<rect x="601.4" y="123.3" width="2.3" height="1.9" rx="0.6" fill="#f4f4f4"/>
<rect x="604.2" y="123.3" width="2.3" height="1.9" rx="0.6" fill="#f4f4f4"/>
<rect x="607.0" y="123.3" width="2.3" height="1.9" rx="0.6" fill="#f4f4f4"/>
<rect x="609.8" y="123.3" width="2.3" height="1.9" rx="0.6" fill="#f4f4f4"/>
<rect x="612.6" y="123.2" width="2.3" height="1.9" rx="0.6" fill="#f4f4f4"/>
<polygon points="396.0,134.7 616.5,132.7 616.5,137.1 396.0,139.1" fill="#060608"/>
<polygon points="427.9,135.6 451.7,135.4 451.7,137.4 427.9,137.6" fill="#16226e"/>
<polygon points="530.8,134.7 579.6,134.3 579.6,136.3 530.8,136.7" fill="#16226e"/>
<rect x="398.0" y="136.0" width="2.3" height="1.9" rx="0.6" fill="#f4f4f4"/>
<rect x="400.8" y="135.9" width="2.3" height="1.9" rx="0.6" fill="#f4f4f4"/>
<rect x="403.6" y="135.9" width="2.3" height="1.9" rx="0.6" fill="#f4f4f4"/>
<rect x="406.4" y="135.9" width="2.3" height="1.9" rx="0.6" fill="#f4f4f4"/>
<rect x="409.2" y="135.9" width="2.3" height="1.9" rx="0.6" fill="#f4f4f4"/>
<rect x="412.0" y="135.8" width="2.3" height="1.9" rx="0.6" fill="#f4f4f4"/>
<rect x="414.8" y="135.8" width="2.3" height="1.9" rx="0.6" fill="#f4f4f4"/>
<rect x="417.6" y="135.8" width="2.3" height="1.9" rx="0.6" fill="#f4f4f4"/>
<rect x="420.4" y="135.7" width="2.3" height="1.9" rx="0.6" fill="#f4f4f4"/>
<rect x="466.0" y="135.3" width="2.3" height="1.9" rx="0.6" fill="#f4f4f4"/>
<rect x="468.8" y="135.3" width="2.3" height="1.9" rx="0.6" fill="#f4f4f4"/>
<rect x="471.6" y="135.3" width="2.3" height="1.9" rx="0.6" fill="#f4f4f4"/>
<rect x="474.4" y="135.3" width="2.3" height="1.9" rx="0.6" fill="#f4f4f4"/>
<rect x="477.2" y="135.2" width="2.3" height="1.9" rx="0.6" fill="#f4f4f4"/>
<rect x="480.0" y="135.2" width="2.3" height="1.9" rx="0.6" fill="#f4f4f4"/>
<rect x="482.8" y="135.2" width="2.3" height="1.9" rx="0.6" fill="#f4f4f4"/>
<rect x="485.6" y="135.2" width="2.3" height="1.9" rx="0.6" fill="#f4f4f4"/>
<rect x="488.4" y="135.1" width="2.3" height="1.9" rx="0.6" fill="#f4f4f4"/>
<rect x="494.0" y="135.1" width="2.3" height="1.9" rx="0.6" fill="#f4f4f4"/>
<rect x="509.0" y="134.9" width="2.3" height="1.9" rx="0.6" fill="#f4f4f4"/>
<rect x="511.8" y="134.9" width="2.3" height="1.9" rx="0.6" fill="#f4f4f4"/>
<rect x="514.6" y="134.9" width="2.3" height="1.9" rx="0.6" fill="#f4f4f4"/>
<rect x="520.2" y="134.8" width="2.3" height="1.9" rx="0.6" fill="#f4f4f4"/>
<rect x="523.0" y="134.8" width="2.3" height="1.9" rx="0.6" fill="#f4f4f4"/>
<rect x="525.8" y="134.8" width="2.3" height="1.9" rx="0.6" fill="#f4f4f4"/>
<rect x="528.6" y="134.8" width="2.3" height="1.9" rx="0.6" fill="#f4f4f4"/>
<rect x="531.4" y="134.7" width="2.3" height="1.9" rx="0.6" fill="#f4f4f4"/>
<rect x="575.4" y="134.3" width="2.3" height="1.9" rx="0.6" fill="#f4f4f4"/>
<rect x="578.2" y="134.3" width="2.3" height="1.9" rx="0.6" fill="#f4f4f4"/>
<rect x="581.0" y="134.3" width="2.3" height="1.9" rx="0.6" fill="#f4f4f4"/>
<rect x="586.6" y="134.2" width="2.3" height="1.9" rx="0.6" fill="#f4f4f4"/>
<rect x="589.4" y="134.2" width="2.3" height="1.9" rx="0.6" fill="#f4f4f4"/>
<rect x="592.2" y="134.2" width="2.3" height="1.9" rx="0.6" fill="#f4f4f4"/>
<rect x="595.0" y="134.2" width="2.3" height="1.9" rx="0.6" fill="#f4f4f4"/>
<rect x="597.8" y="134.1" width="2.3" height="1.9" rx="0.6" fill="#f4f4f4"/>
<rect x="600.6" y="134.1" width="2.3" height="1.9" rx="0.6" fill="#f4f4f4"/>
<rect x="603.4" y="134.1" width="2.3" height="1.9" rx="0.6" fill="#f4f4f4"/>
<rect x="606.2" y="134.1" width="2.3" height="1.9" rx="0.6" fill="#f4f4f4"/>
<rect x="611.8" y="134.0" width="2.3" height="1.9" rx="0.6" fill="#f4f4f4"/>
<polygon points="396.0,145.5 616.5,143.5 616.5,147.9 396.0,149.9" fill="#060608"/>
<polygon points="427.8,146.4 454.7,146.2 454.7,148.2 427.8,148.4" fill="#16226e"/>
<polygon points="550.7,145.3 565.9,145.1 565.9,147.1 550.7,147.3" fill="#16226e"/>
<rect x="398.0" y="146.7" width="2.3" height="1.9" rx="0.6" fill="#f4f4f4"/>
<rect x="400.8" y="146.7" width="2.3" height="1.9" rx="0.6" fill="#f4f4f4"/>
<rect x="403.6" y="146.7" width="2.3" height="1.9" rx="0.6" fill="#f4f4f4"/>
<rect x="406.4" y="146.6" width="2.3" height="1.9" rx="0.6" fill="#f4f4f4"/>
<rect x="412.0" y="146.6" width="2.3" height="1.9" rx="0.6" fill="#f4f4f4"/>
<rect x="414.8" y="146.6" width="2.3" height="1.9" rx="0.6" fill="#f4f4f4"/>
<rect x="417.6" y="146.5" width="2.3" height="1.9" rx="0.6" fill="#f4f4f4"/>
<rect x="420.4" y="146.5" width="2.3" height="1.9" rx="0.6" fill="#f4f4f4"/>
<rect x="457.9" y="146.2" width="2.3" height="1.9" rx="0.6" fill="#f4f4f4"/>
<rect x="460.7" y="146.2" width="2.3" height="1.9" rx="0.6" fill="#f4f4f4"/>
<rect x="463.5" y="146.1" width="2.3" height="1.9" rx="0.6" fill="#f4f4f4"/>
<rect x="466.3" y="146.1" width="2.3" height="1.9" rx="0.6" fill="#f4f4f4"/>
<rect x="469.1" y="146.1" width="2.3" height="1.9" rx="0.6" fill="#f4f4f4"/>
<rect x="474.7" y="146.0" width="2.3" height="1.9" rx="0.6" fill="#f4f4f4"/>
<rect x="477.5" y="146.0" width="2.3" height="1.9" rx="0.6" fill="#f4f4f4"/>
<rect x="483.1" y="145.9" width="2.3" height="1.9" rx="0.6" fill="#f4f4f4"/>
<rect x="485.9" y="145.9" width="2.3" height="1.9" rx="0.6" fill="#f4f4f4"/>
<rect x="488.7" y="145.9" width="2.3" height="1.9" rx="0.6" fill="#f4f4f4"/>
<rect x="491.5" y="145.9" width="2.3" height="1.9" rx="0.6" fill="#f4f4f4"/>
<rect x="494.3" y="145.8" width="2.3" height="1.9" rx="0.6" fill="#f4f4f4"/>
<rect x="497.1" y="145.8" width="2.3" height="1.9" rx="0.6" fill="#f4f4f4"/>
<rect x="509.8" y="145.7" width="2.3" height="1.9" rx="0.6" fill="#f4f4f4"/>
<rect x="512.6" y="145.7" width="2.3" height="1.9" rx="0.6" fill="#f4f4f4"/>
<rect x="515.4" y="145.7" width="2.3" height="1.9" rx="0.6" fill="#f4f4f4"/>
<rect x="518.2" y="145.6" width="2.3" height="1.9" rx="0.6" fill="#f4f4f4"/>
<rect x="523.8" y="145.6" width="2.3" height="1.9" rx="0.6" fill="#f4f4f4"/>
<rect x="529.4" y="145.5" width="2.3" height="1.9" rx="0.6" fill="#f4f4f4"/>
<rect x="575.0" y="145.1" width="2.3" height="1.9" rx="0.6" fill="#f4f4f4"/>
<rect x="577.8" y="145.1" width="2.3" height="1.9" rx="0.6" fill="#f4f4f4"/>
<rect x="580.6" y="145.1" width="2.3" height="1.9" rx="0.6" fill="#f4f4f4"/>
<rect x="583.4" y="145.0" width="2.3" height="1.9" rx="0.6" fill="#f4f4f4"/>
<rect x="586.2" y="145.0" width="2.3" height="1.9" rx="0.6" fill="#f4f4f4"/>
<rect x="589.0" y="145.0" width="2.3" height="1.9" rx="0.6" fill="#f4f4f4"/>
<rect x="591.8" y="145.0" width="2.3" height="1.9" rx="0.6" fill="#f4f4f4"/>
<rect x="594.6" y="144.9" width="2.3" height="1.9" rx="0.6" fill="#f4f4f4"/>
<rect x="597.4" y="144.9" width="2.3" height="1.9" rx="0.6" fill="#f4f4f4"/>
<rect x="603.0" y="144.9" width="2.3" height="1.9" rx="0.6" fill="#f4f4f4"/>
<rect x="605.8" y="144.8" width="2.3" height="1.9" rx="0.6" fill="#f4f4f4"/>
<rect x="608.6" y="144.8" width="2.3" height="1.9" rx="0.6" fill="#f4f4f4"/>
<rect x="611.4" y="144.8" width="2.3" height="1.9" rx="0.6" fill="#f4f4f4"/>
<rect x="614.2" y="144.8" width="2.3" height="1.9" rx="0.6" fill="#f4f4f4"/>
<rect x="415.1" y="152.4" width="6.0" height="1" fill="#8c9a3a"/>
<rect x="423.1" y="152.3" width="6.0" height="1" fill="#8c9a3a"/>
<rect x="431.1" y="152.3" width="6.0" height="1" fill="#8c9a3a"/>
<rect x="439.1" y="152.2" width="6.0" height="1" fill="#8c9a3a"/>
<rect x="447.1" y="152.1" width="6.0" height="1" fill="#8c9a3a"/>
<rect x="455.1" y="152.1" width="6.0" height="1" fill="#8c9a3a"/>
<rect x="463.1" y="152.0" width="6.0" height="1" fill="#8c9a3a"/>
<polygon points="396.0,156.3 616.5,154.3 616.5,158.7 396.0,160.7" fill="#060608"/>
<polygon points="431.7,157.1 456.2,156.9 456.2,158.9 431.7,159.1" fill="#16226e"/>
<polygon points="548.6,156.1 567.4,155.9 567.4,157.9 548.6,158.1" fill="#16226e"/>
<rect x="398.0" y="157.5" width="2.3" height="1.9" rx="0.6" fill="#f4f4f4"/>
<rect x="403.6" y="157.4" width="2.3" height="1.9" rx="0.6" fill="#f4f4f4"/>
<rect x="406.4" y="157.4" width="2.3" height="1.9" rx="0.6" fill="#f4f4f4"/>
<rect x="409.2" y="157.4" width="2.3" height="1.9" rx="0.6" fill="#f4f4f4"/>
<rect x="412.0" y="157.4" width="2.3" height="1.9" rx="0.6" fill="#f4f4f4"/>
<rect x="460.4" y="156.9" width="2.3" height="1.9" rx="0.6" fill="#f4f4f4"/>
<rect x="463.2" y="156.9" width="2.3" height="1.9" rx="0.6" fill="#f4f4f4"/>
<rect x="466.0" y="156.9" width="2.3" height="1.9" rx="0.6" fill="#f4f4f4"/>
<rect x="468.8" y="156.8" width="2.3" height="1.9" rx="0.6" fill="#f4f4f4"/>
<rect x="471.6" y="156.8" width="2.3" height="1.9" rx="0.6" fill="#f4f4f4"/>
<rect x="474.4" y="156.8" width="2.3" height="1.9" rx="0.6" fill="#f4f4f4"/>
<rect x="477.2" y="156.8" width="2.3" height="1.9" rx="0.6" fill="#f4f4f4"/>
<rect x="480.0" y="156.7" width="2.3" height="1.9" rx="0.6" fill="#f4f4f4"/>
<rect x="482.8" y="156.7" width="2.3" height="1.9" rx="0.6" fill="#f4f4f4"/>
<rect x="485.6" y="156.7" width="2.3" height="1.9" rx="0.6" fill="#f4f4f4"/>
<rect x="488.4" y="156.7" width="2.3" height="1.9" rx="0.6" fill="#f4f4f4"/>
<rect x="491.2" y="156.6" width="2.3" height="1.9" rx="0.6" fill="#f4f4f4"/>
<rect x="494.0" y="156.6" width="2.3" height="1.9" rx="0.6" fill="#f4f4f4"/>
<rect x="496.8" y="156.6" width="2.3" height="1.9" rx="0.6" fill="#f4f4f4"/>
<rect x="499.6" y="156.6" width="2.3" height="1.9" rx="0.6" fill="#f4f4f4"/>
<rect x="508.6" y="156.5" width="2.3" height="1.9" rx="0.6" fill="#f4f4f4"/>
<rect x="511.4" y="156.5" width="2.3" height="1.9" rx="0.6" fill="#f4f4f4"/>
<rect x="514.2" y="156.4" width="2.3" height="1.9" rx="0.6" fill="#f4f4f4"/>
<rect x="517.0" y="156.4" width="2.3" height="1.9" rx="0.6" fill="#f4f4f4"/>
<rect x="519.8" y="156.4" width="2.3" height="1.9" rx="0.6" fill="#f4f4f4"/>
<rect x="522.6" y="156.4" width="2.3" height="1.9" rx="0.6" fill="#f4f4f4"/>
<rect x="525.4" y="156.3" width="2.3" height="1.9" rx="0.6" fill="#f4f4f4"/>
<rect x="528.2" y="156.3" width="2.3" height="1.9" rx="0.6" fill="#f4f4f4"/>
<rect x="531.0" y="156.3" width="2.3" height="1.9" rx="0.6" fill="#f4f4f4"/>
<rect x="582.1" y="155.8" width="2.3" height="1.9" rx="0.6" fill="#f4f4f4"/>
<rect x="584.9" y="155.8" width="2.3" height="1.9" rx="0.6" fill="#f4f4f4"/>
<rect x="587.7" y="155.8" width="2.3" height="1.9" rx="0.6" fill="#f4f4f4"/>
<rect x="590.5" y="155.7" width="2.3" height="1.9" rx="0.6" fill="#f4f4f4"/>
<rect x="593.3" y="155.7" width="2.3" height="1.9" rx="0.6" fill="#f4f4f4"/>
<rect x="596.1" y="155.7" width="2.3" height="1.9" rx="0.6" fill="#f4f4f4"/>
<rect x="601.7" y="155.6" width="2.3" height="1.9" rx="0.6" fill="#f4f4f4"/>
<rect x="604.5" y="155.6" width="2.3" height="1.9" rx="0.6" fill="#f4f4f4"/>
<rect x="607.3" y="155.6" width="2.3" height="1.9" rx="0.6" fill="#f4f4f4"/>
<rect x="610.1" y="155.6" width="2.3" height="1.9" rx="0.6" fill="#f4f4f4"/>
<rect x="612.9" y="155.5" width="2.3" height="1.9" rx="0.6" fill="#f4f4f4"/>
<rect x="409.2" y="163.2" width="6.0" height="1" fill="#8c9a3a"/>
<rect x="417.2" y="163.2" width="6.0" height="1" fill="#8c9a3a"/>
<rect x="425.2" y="163.1" width="6.0" height="1" fill="#8c9a3a"/>
<rect x="433.2" y="163.0" width="6.0" height="1" fill="#8c9a3a"/>
<rect x="441.2" y="162.9" width="6.0" height="1" fill="#8c9a3a"/>
<polygon points="396.0,167.0 616.5,165.0 616.5,169.4 396.0,171.4" fill="#060608"/>
<polygon points="421.2,168.0 457.1,167.7 457.1,169.7 421.2,170.0" fill="#16226e"/>
<polygon points="534.9,167.0 565.0,166.7 565.0,168.7 534.9,169.0" fill="#16226e"/>
<rect x="403.6" y="168.2" width="2.3" height="1.9" rx="0.6" fill="#f4f4f4"/>
<rect x="406.4" y="168.2" width="2.3" height="1.9" rx="0.6" fill="#f4f4f4"/>
<rect x="409.2" y="168.2" width="2.3" height="1.9" rx="0.6" fill="#f4f4f4"/>
<rect x="412.0" y="168.1" width="2.3" height="1.9" rx="0.6" fill="#f4f4f4"/>
<rect x="414.8" y="168.1" width="2.3" height="1.9" rx="0.6" fill="#f4f4f4"/>
<rect x="417.6" y="168.1" width="2.3" height="1.9" rx="0.6" fill="#f4f4f4"/>
<rect x="420.4" y="168.1" width="2.3" height="1.9" rx="0.6" fill="#f4f4f4"/>
<rect x="460.6" y="167.7" width="2.3" height="1.9" rx="0.6" fill="#f4f4f4"/>
<rect x="463.4" y="167.7" width="2.3" height="1.9" rx="0.6" fill="#f4f4f4"/>
<rect x="466.2" y="167.6" width="2.3" height="1.9" rx="0.6" fill="#f4f4f4"/>
<rect x="469.0" y="167.6" width="2.3" height="1.9" rx="0.6" fill="#f4f4f4"/>
<rect x="471.8" y="167.6" width="2.3" height="1.9" rx="0.6" fill="#f4f4f4"/>
<rect x="474.6" y="167.6" width="2.3" height="1.9" rx="0.6" fill="#f4f4f4"/>
<rect x="477.4" y="167.5" width="2.3" height="1.9" rx="0.6" fill="#f4f4f4"/>
<rect x="483.0" y="167.5" width="2.3" height="1.9" rx="0.6" fill="#f4f4f4"/>
<rect x="485.8" y="167.5" width="2.3" height="1.9" rx="0.6" fill="#f4f4f4"/>
<rect x="488.6" y="167.4" width="2.3" height="1.9" rx="0.6" fill="#f4f4f4"/>
<rect x="494.2" y="167.4" width="2.3" height="1.9" rx="0.6" fill="#f4f4f4"/>
<rect x="504.4" y="167.3" width="2.3" height="1.9" rx="0.6" fill="#f4f4f4"/>
<rect x="507.2" y="167.3" width="2.3" height="1.9" rx="0.6" fill="#f4f4f4"/>
<rect x="510.0" y="167.2" width="2.3" height="1.9" rx="0.6" fill="#f4f4f4"/>
<rect x="515.6" y="167.2" width="2.3" height="1.9" rx="0.6" fill="#f4f4f4"/>
<rect x="521.2" y="167.1" width="2.3" height="1.9" rx="0.6" fill="#f4f4f4"/>
<rect x="524.0" y="167.1" width="2.3" height="1.9" rx="0.6" fill="#f4f4f4"/>
<rect x="526.8" y="167.1" width="2.3" height="1.9" rx="0.6" fill="#f4f4f4"/>
<rect x="529.6" y="167.1" width="2.3" height="1.9" rx="0.6" fill="#f4f4f4"/>
<rect x="576.6" y="166.6" width="2.3" height="1.9" rx="0.6" fill="#f4f4f4"/>
<rect x="582.2" y="166.6" width="2.3" height="1.9" rx="0.6" fill="#f4f4f4"/>
<rect x="585.0" y="166.6" width="2.3" height="1.9" rx="0.6" fill="#f4f4f4"/>
<rect x="587.8" y="166.5" width="2.3" height="1.9" rx="0.6" fill="#f4f4f4"/>
<rect x="593.4" y="166.5" width="2.3" height="1.9" rx="0.6" fill="#f4f4f4"/>
<rect x="596.2" y="166.5" width="2.3" height="1.9" rx="0.6" fill="#f4f4f4"/>
<rect x="599.0" y="166.4" width="2.3" height="1.9" rx="0.6" fill="#f4f4f4"/>
<rect x="601.8" y="166.4" width="2.3" height="1.9" rx="0.6" fill="#f4f4f4"/>
<rect x="604.6" y="166.4" width="2.3" height="1.9" rx="0.6" fill="#f4f4f4"/>
<rect x="607.4" y="166.4" width="2.3" height="1.9" rx="0.6" fill="#f4f4f4"/>
<rect x="610.2" y="166.3" width="2.3" height="1.9" rx="0.6" fill="#f4f4f4"/>
<rect x="613.0" y="166.3" width="2.3" height="1.9" rx="0.6" fill="#f4f4f4"/>
<rect x="434.8" y="173.8" width="6.0" height="1" fill="#8c9a3a"/>
<rect x="442.8" y="173.7" width="6.0" height="1" fill="#8c9a3a"/>
<rect x="450.8" y="173.6" width="6.0" height="1" fill="#8c9a3a"/>
<rect x="458.8" y="173.6" width="6.0" height="1" fill="#8c9a3a"/>
<rect x="466.8" y="173.5" width="6.0" height="1" fill="#8c9a3a"/>
<rect x="474.8" y="173.4" width="6.0" height="1" fill="#8c9a3a"/>
<rect x="482.8" y="173.3" width="6.0" height="1" fill="#8c9a3a"/>
<rect x="490.8" y="173.3" width="6.0" height="1" fill="#8c9a3a"/>
<rect x="498.8" y="173.2" width="6.0" height="1" fill="#8c9a3a"/>
<rect x="506.8" y="173.1" width="6.0" height="1" fill="#8c9a3a"/>
<polygon points="396.0,177.8 616.5,175.8 616.5,180.2 396.0,182.2" fill="#060608"/>
<polygon points="430.4,178.7 459.2,178.4 459.2,180.4 430.4,180.7" fill="#16226e"/>
<polygon points="542.8,177.7 570.4,177.4 570.4,179.4 542.8,179.7" fill="#16226e"/>
<rect x="398.0" y="179.0" width="2.3" height="1.9" rx="0.6" fill="#f4f4f4"/>
<rect x="403.6" y="179.0" width="2.3" height="1.9" rx="0.6" fill="#f4f4f4"/>
<rect x="406.4" y="179.0" width="2.3" height="1.9" rx="0.6" fill="#f4f4f4"/>
<rect x="409.2" y="178.9" width="2.3" height="1.9" rx="0.6" fill="#f4f4f4"/>
<rect x="412.0" y="178.9" width="2.3" height="1.9" rx="0.6" fill="#f4f4f4"/>
<rect x="463.3" y="178.4" width="2.3" height="1.9" rx="0.6" fill="#f4f4f4"/>
<rect x="466.1" y="178.4" width="2.3" height="1.9" rx="0.6" fill="#f4f4f4"/>
<rect x="468.9" y="178.4" width="2.3" height="1.9" rx="0.6" fill="#f4f4f4"/>
<rect x="471.7" y="178.4" width="2.3" height="1.9" rx="0.6" fill="#f4f4f4"/>
<rect x="474.5" y="178.3" width="2.3" height="1.9" rx="0.6" fill="#f4f4f4"/>
<rect x="477.3" y="178.3" width="2.3" height="1.9" rx="0.6" fill="#f4f4f4"/>
<rect x="480.1" y="178.3" width="2.3" height="1.9" rx="0.6" fill="#f4f4f4"/>
<rect x="482.9" y="178.3" width="2.3" height="1.9" rx="0.6" fill="#f4f4f4"/>
<rect x="485.7" y="178.2" width="2.3" height="1.9" rx="0.6" fill="#f4f4f4"/>
<rect x="488.5" y="178.2" width="2.3" height="1.9" rx="0.6" fill="#f4f4f4"/>
<rect x="491.3" y="178.2" width="2.3" height="1.9" rx="0.6" fill="#f4f4f4"/>
<rect x="494.1" y="178.2" width="2.3" height="1.9" rx="0.6" fill="#f4f4f4"/>
<rect x="496.9" y="178.1" width="2.3" height="1.9" rx="0.6" fill="#f4f4f4"/>
<rect x="499.7" y="178.1" width="2.3" height="1.9" rx="0.6" fill="#f4f4f4"/>
<rect x="504.3" y="178.1" width="2.3" height="1.9" rx="0.6" fill="#f4f4f4"/>
<rect x="509.9" y="178.0" width="2.3" height="1.9" rx="0.6" fill="#f4f4f4"/>
<rect x="515.5" y="178.0" width="2.3" height="1.9" rx="0.6" fill="#f4f4f4"/>
<rect x="518.3" y="177.9" width="2.3" height="1.9" rx="0.6" fill="#f4f4f4"/>
<rect x="521.1" y="177.9" width="2.3" height="1.9" rx="0.6" fill="#f4f4f4"/>
<rect x="523.9" y="177.9" width="2.3" height="1.9" rx="0.6" fill="#f4f4f4"/>
<rect x="526.7" y="177.9" width="2.3" height="1.9" rx="0.6" fill="#f4f4f4"/>
<rect x="529.5" y="177.8" width="2.3" height="1.9" rx="0.6" fill="#f4f4f4"/>
<rect x="574.0" y="177.4" width="2.3" height="1.9" rx="0.6" fill="#f4f4f4"/>
<rect x="576.8" y="177.4" width="2.3" height="1.9" rx="0.6" fill="#f4f4f4"/>
<rect x="579.6" y="177.4" width="2.3" height="1.9" rx="0.6" fill="#f4f4f4"/>
<rect x="582.4" y="177.4" width="2.3" height="1.9" rx="0.6" fill="#f4f4f4"/>
<rect x="585.2" y="177.3" width="2.3" height="1.9" rx="0.6" fill="#f4f4f4"/>
<rect x="588.0" y="177.3" width="2.3" height="1.9" rx="0.6" fill="#f4f4f4"/>
<rect x="590.8" y="177.3" width="2.3" height="1.9" rx="0.6" fill="#f4f4f4"/>
<rect x="593.6" y="177.3" width="2.3" height="1.9" rx="0.6" fill="#f4f4f4"/>
<rect x="596.4" y="177.2" width="2.3" height="1.9" rx="0.6" fill="#f4f4f4"/>
<rect x="599.2" y="177.2" width="2.3" height="1.9" rx="0.6" fill="#f4f4f4"/>
<rect x="604.8" y="177.2" width="2.3" height="1.9" rx="0.6" fill="#f4f4f4"/>
<rect x="607.6" y="177.1" width="2.3" height="1.9" rx="0.6" fill="#f4f4f4"/>
<rect x="610.4" y="177.1" width="2.3" height="1.9" rx="0.6" fill="#f4f4f4"/>
<rect x="613.2" y="177.1" width="2.3" height="1.9" rx="0.6" fill="#f4f4f4"/>
<polygon points="396.0,188.6 616.5,186.6 616.5,191.0 396.0,193.0" fill="#060608"/>
<polygon points="432.3,189.4 459.8,189.2 459.8,191.2 432.3,191.4" fill="#16226e"/>
<polygon points="544.5,188.4 577.4,188.1 577.4,190.1 544.5,190.4" fill="#16226e"/>
<rect x="400.8" y="189.8" width="2.3" height="1.9" rx="0.6" fill="#f4f4f4"/>
<rect x="403.6" y="189.8" width="2.3" height="1.9" rx="0.6" fill="#f4f4f4"/>
<rect x="406.4" y="189.7" width="2.3" height="1.9" rx="0.6" fill="#f4f4f4"/>
<rect x="409.2" y="189.7" width="2.3" height="1.9" rx="0.6" fill="#f4f4f4"/>
<rect x="412.0" y="189.7" width="2.3" height="1.9" rx="0.6" fill="#f4f4f4"/>
<rect x="414.8" y="189.6" width="2.3" height="1.9" rx="0.6" fill="#f4f4f4"/>
<rect x="461.1" y="189.2" width="2.3" height="1.9" rx="0.6" fill="#f4f4f4"/>
<rect x="463.9" y="189.2" width="2.3" height="1.9" rx="0.6" fill="#f4f4f4"/>
<rect x="466.7" y="189.2" width="2.3" height="1.9" rx="0.6" fill="#f4f4f4"/>
<rect x="469.5" y="189.2" width="2.3" height="1.9" rx="0.6" fill="#f4f4f4"/>
<rect x="472.3" y="189.1" width="2.3" height="1.9" rx="0.6" fill="#f4f4f4"/>
<rect x="475.1" y="189.1" width="2.3" height="1.9" rx="0.6" fill="#f4f4f4"/>
<rect x="477.9" y="189.1" width="2.3" height="1.9" rx="0.6" fill="#f4f4f4"/>
<rect x="483.5" y="189.0" width="2.3" height="1.9" rx="0.6" fill="#f4f4f4"/>
<rect x="486.3" y="189.0" width="2.3" height="1.9" rx="0.6" fill="#f4f4f4"/>
<rect x="489.1" y="189.0" width="2.3" height="1.9" rx="0.6" fill="#f4f4f4"/>
<rect x="491.9" y="189.0" width="2.3" height="1.9" rx="0.6" fill="#f4f4f4"/>
<rect x="508.1" y="188.8" width="2.3" height="1.9" rx="0.6" fill="#f4f4f4"/>
<rect x="510.9" y="188.8" width="2.3" height="1.9" rx="0.6" fill="#f4f4f4"/>
<rect x="513.7" y="188.8" width="2.3" height="1.9" rx="0.6" fill="#f4f4f4"/>
<rect x="516.5" y="188.7" width="2.3" height="1.9" rx="0.6" fill="#f4f4f4"/>
<rect x="519.3" y="188.7" width="2.3" height="1.9" rx="0.6" fill="#f4f4f4"/>
<rect x="522.1" y="188.7" width="2.3" height="1.9" rx="0.6" fill="#f4f4f4"/>
<rect x="524.9" y="188.7" width="2.3" height="1.9" rx="0.6" fill="#f4f4f4"/>
<rect x="530.5" y="188.6" width="2.3" height="1.9" rx="0.6" fill="#f4f4f4"/>
<rect x="533.3" y="188.6" width="2.3" height="1.9" rx="0.6" fill="#f4f4f4"/>
<rect x="536.1" y="188.5" width="2.3" height="1.9" rx="0.6" fill="#f4f4f4"/>
<rect x="538.9" y="188.5" width="2.3" height="1.9" rx="0.6" fill="#f4f4f4"/>
<rect x="578.2" y="188.2" width="2.3" height="1.9" rx="0.6" fill="#f4f4f4"/>
<rect x="581.0" y="188.1" width="2.3" height="1.9" rx="0.6" fill="#f4f4f4"/>
<rect x="583.8" y="188.1" width="2.3" height="1.9" rx="0.6" fill="#f4f4f4"/>
<rect x="589.4" y="188.1" width="2.3" height="1.9" rx="0.6" fill="#f4f4f4"/>
<rect x="592.2" y="188.0" width="2.3" height="1.9" rx="0.6" fill="#f4f4f4"/>
<rect x="595.0" y="188.0" width="2.3" height="1.9" rx="0.6" fill="#f4f4f4"/>
<rect x="597.8" y="188.0" width="2.3" height="1.9" rx="0.6" fill="#f4f4f4"/>
<rect x="600.6" y="188.0" width="2.3" height="1.9" rx="0.6" fill="#f4f4f4"/>
<rect x="603.4" y="187.9" width="2.3" height="1.9" rx="0.6" fill="#f4f4f4"/>
<rect x="606.2" y="187.9" width="2.3" height="1.9" rx="0.6" fill="#f4f4f4"/>
<rect x="609.0" y="187.9" width="2.3" height="1.9" rx="0.6" fill="#f4f4f4"/>
<rect x="611.8" y="187.9" width="2.3" height="1.9" rx="0.6" fill="#f4f4f4"/>
<rect x="614.6" y="187.8" width="2.3" height="1.9" rx="0.6" fill="#f4f4f4"/>
<polygon points="396.0,199.3 616.5,197.3 616.5,201.7 396.0,203.7" fill="#060608"/>
<polygon points="418.0,200.3 454.8,200.0 454.8,202.0 418.0,202.3" fill="#16226e"/>
<polygon points="548.0,199.2 579.3,198.9 579.3,200.9 548.0,201.2" fill="#16226e"/>
<rect x="398.0" y="200.6" width="2.3" height="1.9" rx="0.6" fill="#f4f4f4"/>
<rect x="400.8" y="200.5" width="2.3" height="1.9" rx="0.6" fill="#f4f4f4"/>
<rect x="403.6" y="200.5" width="2.3" height="1.9" rx="0.6" fill="#f4f4f4"/>
<rect x="406.4" y="200.5" width="2.3" height="1.9" rx="0.6" fill="#f4f4f4"/>
<rect x="409.2" y="200.5" width="2.3" height="1.9" rx="0.6" fill="#f4f4f4"/>
<rect x="412.0" y="200.4" width="2.3" height="1.9" rx="0.6" fill="#f4f4f4"/>
<rect x="414.8" y="200.4" width="2.3" height="1.9" rx="0.6" fill="#f4f4f4"/>
<rect x="417.6" y="200.4" width="2.3" height="1.9" rx="0.6" fill="#f4f4f4"/>
<rect x="463.5" y="200.0" width="2.3" height="1.9" rx="0.6" fill="#f4f4f4"/>
<rect x="466.3" y="200.0" width="2.3" height="1.9" rx="0.6" fill="#f4f4f4"/>
<rect x="469.1" y="199.9" width="2.3" height="1.9" rx="0.6" fill="#f4f4f4"/>
<rect x="471.9" y="199.9" width="2.3" height="1.9" rx="0.6" fill="#f4f4f4"/>
<rect x="474.7" y="199.9" width="2.3" height="1.9" rx="0.6" fill="#f4f4f4"/>
<rect x="477.5" y="199.9" width="2.3" height="1.9" rx="0.6" fill="#f4f4f4"/>
<rect x="485.9" y="199.8" width="2.3" height="1.9" rx="0.6" fill="#f4f4f4"/>
<rect x="491.5" y="199.7" width="2.3" height="1.9" rx="0.6" fill="#f4f4f4"/>
<rect x="494.3" y="199.7" width="2.3" height="1.9" rx="0.6" fill="#f4f4f4"/>
<rect x="497.1" y="199.7" width="2.3" height="1.9" rx="0.6" fill="#f4f4f4"/>
<rect x="499.9" y="199.6" width="2.3" height="1.9" rx="0.6" fill="#f4f4f4"/>
<rect x="511.4" y="199.5" width="2.3" height="1.9" rx="0.6" fill="#f4f4f4"/>
<rect x="514.2" y="199.5" width="2.3" height="1.9" rx="0.6" fill="#f4f4f4"/>
<rect x="517.0" y="199.5" width="2.3" height="1.9" rx="0.6" fill="#f4f4f4"/>
<rect x="519.8" y="199.5" width="2.3" height="1.9" rx="0.6" fill="#f4f4f4"/>
<rect x="522.6" y="199.4" width="2.3" height="1.9" rx="0.6" fill="#f4f4f4"/>
<rect x="525.4" y="199.4" width="2.3" height="1.9" rx="0.6" fill="#f4f4f4"/>
<rect x="528.2" y="199.4" width="2.3" height="1.9" rx="0.6" fill="#f4f4f4"/>
<rect x="531.0" y="199.4" width="2.3" height="1.9" rx="0.6" fill="#f4f4f4"/>
<rect x="580.0" y="198.9" width="2.3" height="1.9" rx="0.6" fill="#f4f4f4"/>
<rect x="582.8" y="198.9" width="2.3" height="1.9" rx="0.6" fill="#f4f4f4"/>
<rect x="585.6" y="198.9" width="2.3" height="1.9" rx="0.6" fill="#f4f4f4"/>
<rect x="588.4" y="198.8" width="2.3" height="1.9" rx="0.6" fill="#f4f4f4"/>
<rect x="591.2" y="198.8" width="2.3" height="1.9" rx="0.6" fill="#f4f4f4"/>
<rect x="599.6" y="198.7" width="2.3" height="1.9" rx="0.6" fill="#f4f4f4"/>
<rect x="602.4" y="198.7" width="2.3" height="1.9" rx="0.6" fill="#f4f4f4"/>
<rect x="605.2" y="198.7" width="2.3" height="1.9" rx="0.6" fill="#f4f4f4"/>
<rect x="608.0" y="198.7" width="2.3" height="1.9" rx="0.6" fill="#f4f4f4"/>
<rect x="610.8" y="198.6" width="2.3" height="1.9" rx="0.6" fill="#f4f4f4"/>
<rect x="613.6" y="198.6" width="2.3" height="1.9" rx="0.6" fill="#f4f4f4"/>
<rect x="503.2" y="205.5" width="6.0" height="1" fill="#8c9a3a"/>
<rect x="511.2" y="205.4" width="6.0" height="1" fill="#8c9a3a"/>
<rect x="519.2" y="205.3" width="6.0" height="1" fill="#8c9a3a"/>
<rect x="527.2" y="205.2" width="6.0" height="1" fill="#8c9a3a"/>
<rect x="535.2" y="205.2" width="6.0" height="1" fill="#8c9a3a"/>
<rect x="543.2" y="205.1" width="6.0" height="1" fill="#8c9a3a"/>
<rect x="551.2" y="205.0" width="6.0" height="1" fill="#8c9a3a"/>
<rect x="559.2" y="205.0" width="6.0" height="1" fill="#8c9a3a"/>
<rect x="567.2" y="204.9" width="6.0" height="1" fill="#8c9a3a"/>
<rect x="575.2" y="204.8" width="6.0" height="1" fill="#8c9a3a"/>
<polygon points="396.0,210.1 616.5,208.1 616.5,212.5 396.0,214.5" fill="#060608"/>
<polygon points="423.1,211.1 452.5,210.8 452.5,212.8 423.1,213.1" fill="#16226e"/>
<polygon points="540.0,210.0 575.1,209.7 575.1,211.7 540.0,212.0" fill="#16226e"/>
<rect x="398.0" y="211.3" width="2.3" height="1.9" rx="0.6" fill="#f4f4f4"/>
<rect x="400.8" y="211.3" width="2.3" height="1.9" rx="0.6" fill="#f4f4f4"/>
<rect x="403.6" y="211.3" width="2.3" height="1.9" rx="0.6" fill="#f4f4f4"/>
<rect x="406.4" y="211.3" width="2.3" height="1.9" rx="0.6" fill="#f4f4f4"/>
<rect x="409.2" y="211.2" width="2.3" height="1.9" rx="0.6" fill="#f4f4f4"/>
<rect x="412.0" y="211.2" width="2.3" height="1.9" rx="0.6" fill="#f4f4f4"/>
<rect x="414.8" y="211.2" width="2.3" height="1.9" rx="0.6" fill="#f4f4f4"/>
<rect x="417.6" y="211.2" width="2.3" height="1.9" rx="0.6" fill="#f4f4f4"/>
<rect x="423.2" y="211.1" width="2.3" height="1.9" rx="0.6" fill="#f4f4f4"/>
<rect x="460.8" y="210.8" width="2.3" height="1.9" rx="0.6" fill="#f4f4f4"/>
<rect x="466.4" y="210.7" width="2.3" height="1.9" rx="0.6" fill="#f4f4f4"/>
<rect x="469.2" y="210.7" width="2.3" height="1.9" rx="0.6" fill="#f4f4f4"/>
<rect x="472.0" y="210.7" width="2.3" height="1.9" rx="0.6" fill="#f4f4f4"/>
<rect x="474.8" y="210.6" width="2.3" height="1.9" rx="0.6" fill="#f4f4f4"/>
<rect x="477.6" y="210.6" width="2.3" height="1.9" rx="0.6" fill="#f4f4f4"/>
<rect x="480.4" y="210.6" width="2.3" height="1.9" rx="0.6" fill="#f4f4f4"/>
<rect x="483.2" y="210.6" width="2.3" height="1.9" rx="0.6" fill="#f4f4f4"/>
<rect x="486.0" y="210.5" width="2.3" height="1.9" rx="0.6" fill="#f4f4f4"/>
<rect x="488.8" y="210.5" width="2.3" height="1.9" rx="0.6" fill="#f4f4f4"/>
<rect x="491.6" y="210.5" width="2.3" height="1.9" rx="0.6" fill="#f4f4f4"/>
<rect x="494.4" y="210.5" width="2.3" height="1.9" rx="0.6" fill="#f4f4f4"/>
<rect x="497.2" y="210.4" width="2.3" height="1.9" rx="0.6" fill="#f4f4f4"/>
<rect x="506.7" y="210.4" width="2.3" height="1.9" rx="0.6" fill="#f4f4f4"/>
<rect x="512.3" y="210.3" width="2.3" height="1.9" rx="0.6" fill="#f4f4f4"/>
<rect x="515.1" y="210.3" width="2.3" height="1.9" rx="0.6" fill="#f4f4f4"/>
<rect x="517.9" y="210.3" width="2.3" height="1.9" rx="0.6" fill="#f4f4f4"/>
<rect x="520.7" y="210.2" width="2.3" height="1.9" rx="0.6" fill="#f4f4f4"/>
<rect x="526.3" y="210.2" width="2.3" height="1.9" rx="0.6" fill="#f4f4f4"/>
<rect x="529.1" y="210.2" width="2.3" height="1.9" rx="0.6" fill="#f4f4f4"/>
<rect x="531.9" y="210.1" width="2.3" height="1.9" rx="0.6" fill="#f4f4f4"/>
<rect x="534.7" y="210.1" width="2.3" height="1.9" rx="0.6" fill="#f4f4f4"/>
<rect x="537.5" y="210.1" width="2.3" height="1.9" rx="0.6" fill="#f4f4f4"/>
<rect x="578.2" y="209.7" width="2.3" height="1.9" rx="0.6" fill="#f4f4f4"/>
<rect x="581.0" y="209.7" width="2.3" height="1.9" rx="0.6" fill="#f4f4f4"/>
<rect x="586.6" y="209.6" width="2.3" height="1.9" rx="0.6" fill="#f4f4f4"/>
<rect x="589.4" y="209.6" width="2.3" height="1.9" rx="0.6" fill="#f4f4f4"/>
<rect x="592.2" y="209.6" width="2.3" height="1.9" rx="0.6" fill="#f4f4f4"/>
<rect x="595.0" y="209.6" width="2.3" height="1.9" rx="0.6" fill="#f4f4f4"/>
<rect x="597.8" y="209.5" width="2.3" height="1.9" rx="0.6" fill="#f4f4f4"/>
<rect x="600.6" y="209.5" width="2.3" height="1.9" rx="0.6" fill="#f4f4f4"/>
<rect x="606.2" y="209.5" width="2.3" height="1.9" rx="0.6" fill="#f4f4f4"/>
<rect x="611.8" y="209.4" width="2.3" height="1.9" rx="0.6" fill="#f4f4f4"/>
<polygon points="396.0,220.9 616.5,218.9 616.5,223.3 396.0,225.3" fill="#060608"/>
<polygon points="431.3,221.8 450.8,221.6 450.8,223.6 431.3,223.8" fill="#16226e"/>
<polygon points="546.7,220.7 570.8,220.5 570.8,222.5 546.7,222.7" fill="#16226e"/>
<rect x="398.0" y="222.1" width="2.3" height="1.9" rx="0.6" fill="#f4f4f4"/>
<rect x="400.8" y="222.1" width="2.3" height="1.9" rx="0.6" fill="#f4f4f4"/>
<rect x="403.6" y="222.1" width="2.3" height="1.9" rx="0.6" fill="#f4f4f4"/>
<rect x="406.4" y="222.0" width="2.3" height="1.9" rx="0.6" fill="#f4f4f4"/>
<rect x="409.2" y="222.0" width="2.3" height="1.9" rx="0.6" fill="#f4f4f4"/>
<rect x="412.0" y="222.0" width="2.3" height="1.9" rx="0.6" fill="#f4f4f4"/>
<rect x="414.8" y="222.0" width="2.3" height="1.9" rx="0.6" fill="#f4f4f4"/>
<rect x="423.2" y="221.9" width="2.3" height="1.9" rx="0.6" fill="#f4f4f4"/>
<rect x="464.9" y="221.5" width="2.3" height="1.9" rx="0.6" fill="#f4f4f4"/>
<rect x="467.7" y="221.5" width="2.3" height="1.9" rx="0.6" fill="#f4f4f4"/>
<rect x="473.3" y="221.4" width="2.3" height="1.9" rx="0.6" fill="#f4f4f4"/>
<rect x="476.1" y="221.4" width="2.3" height="1.9" rx="0.6" fill="#f4f4f4"/>
<rect x="478.9" y="221.4" width="2.3" height="1.9" rx="0.6" fill="#f4f4f4"/>
<rect x="487.3" y="221.3" width="2.3" height="1.9" rx="0.6" fill="#f4f4f4"/>
<rect x="490.1" y="221.3" width="2.3" height="1.9" rx="0.6" fill="#f4f4f4"/>
<rect x="492.9" y="221.3" width="2.3" height="1.9" rx="0.6" fill="#f4f4f4"/>
<rect x="495.7" y="221.2" width="2.3" height="1.9" rx="0.6" fill="#f4f4f4"/>
<rect x="507.4" y="221.1" width="2.3" height="1.9" rx="0.6" fill="#f4f4f4"/>
<rect x="510.2" y="221.1" width="2.3" height="1.9" rx="0.6" fill="#f4f4f4"/>
<rect x="513.0" y="221.1" width="2.3" height="1.9" rx="0.6" fill="#f4f4f4"/>
<rect x="515.8" y="221.0" width="2.3" height="1.9" rx="0.6" fill="#f4f4f4"/>
<rect x="518.6" y="221.0" width="2.3" height="1.9" rx="0.6" fill="#f4f4f4"/>
<rect x="524.2" y="221.0" width="2.3" height="1.9" rx="0.6" fill="#f4f4f4"/>
<rect x="527.0" y="220.9" width="2.3" height="1.9" rx="0.6" fill="#f4f4f4"/>
<rect x="529.8" y="220.9" width="2.3" height="1.9" rx="0.6" fill="#f4f4f4"/>
<rect x="532.6" y="220.9" width="2.3" height="1.9" rx="0.6" fill="#f4f4f4"/>
<rect x="577.7" y="220.5" width="2.3" height="1.9" rx="0.6" fill="#f4f4f4"/>
<rect x="580.5" y="220.5" width="2.3" height="1.9" rx="0.6" fill="#f4f4f4"/>
<rect x="583.3" y="220.4" width="2.3" height="1.9" rx="0.6" fill="#f4f4f4"/>
<rect x="586.1" y="220.4" width="2.3" height="1.9" rx="0.6" fill="#f4f4f4"/>
<rect x="591.7" y="220.4" width="2.3" height="1.9" rx="0.6" fill="#f4f4f4"/>
<rect x="594.5" y="220.3" width="2.3" height="1.9" rx="0.6" fill="#f4f4f4"/>
<rect x="597.3" y="220.3" width="2.3" height="1.9" rx="0.6" fill="#f4f4f4"/>
<rect x="600.1" y="220.3" width="2.3" height="1.9" rx="0.6" fill="#f4f4f4"/>
<rect x="602.9" y="220.3" width="2.3" height="1.9" rx="0.6" fill="#f4f4f4"/>
<rect x="605.7" y="220.2" width="2.3" height="1.9" rx="0.6" fill="#f4f4f4"/>
<rect x="608.5" y="220.2" width="2.3" height="1.9" rx="0.6" fill="#f4f4f4"/>
<rect x="611.3" y="220.2" width="2.3" height="1.9" rx="0.6" fill="#f4f4f4"/>
<rect x="614.1" y="220.2" width="2.3" height="1.9" rx="0.6" fill="#f4f4f4"/>
<polygon points="396.0,231.6 616.5,229.6 616.5,234.0 396.0,236.0" fill="#060608"/>
<polygon points="423.7,232.6 455.0,232.3 455.0,234.3 423.7,234.6" fill="#16226e"/>
<polygon points="542.7,231.5 576.7,231.2 576.7,233.2 542.7,233.5" fill="#16226e"/>
<rect x="398.0" y="232.9" width="2.3" height="1.9" rx="0.6" fill="#f4f4f4"/>
<rect x="400.8" y="232.9" width="2.3" height="1.9" rx="0.6" fill="#f4f4f4"/>
<rect x="403.6" y="232.8" width="2.3" height="1.9" rx="0.6" fill="#f4f4f4"/>
<rect x="409.2" y="232.8" width="2.3" height="1.9" rx="0.6" fill="#f4f4f4"/>
<rect x="412.0" y="232.8" width="2.3" height="1.9" rx="0.6" fill="#f4f4f4"/>
<rect x="460.0" y="232.3" width="2.3" height="1.9" rx="0.6" fill="#f4f4f4"/>
<rect x="471.2" y="232.2" width="2.3" height="1.9" rx="0.6" fill="#f4f4f4"/>
<rect x="474.0" y="232.2" width="2.3" height="1.9" rx="0.6" fill="#f4f4f4"/>
<rect x="479.6" y="232.1" width="2.3" height="1.9" rx="0.6" fill="#f4f4f4"/>
<rect x="482.4" y="232.1" width="2.3" height="1.9" rx="0.6" fill="#f4f4f4"/>
<rect x="485.2" y="232.1" width="2.3" height="1.9" rx="0.6" fill="#f4f4f4"/>
<rect x="488.0" y="232.1" width="2.3" height="1.9" rx="0.6" fill="#f4f4f4"/>
<rect x="490.8" y="232.0" width="2.3" height="1.9" rx="0.6" fill="#f4f4f4"/>
<rect x="507.1" y="231.9" width="2.3" height="1.9" rx="0.6" fill="#f4f4f4"/>
<rect x="509.9" y="231.9" width="2.3" height="1.9" rx="0.6" fill="#f4f4f4"/>
<rect x="512.7" y="231.8" width="2.3" height="1.9" rx="0.6" fill="#f4f4f4"/>
<rect x="515.5" y="231.8" width="2.3" height="1.9" rx="0.6" fill="#f4f4f4"/>
<rect x="518.3" y="231.8" width="2.3" height="1.9" rx="0.6" fill="#f4f4f4"/>
<rect x="521.1" y="231.8" width="2.3" height="1.9" rx="0.6" fill="#f4f4f4"/>
<rect x="523.9" y="231.7" width="2.3" height="1.9" rx="0.6" fill="#f4f4f4"/>
<rect x="526.7" y="231.7" width="2.3" height="1.9" rx="0.6" fill="#f4f4f4"/>
<rect x="529.5" y="231.7" width="2.3" height="1.9" rx="0.6" fill="#f4f4f4"/>
<rect x="532.3" y="231.7" width="2.3" height="1.9" rx="0.6" fill="#f4f4f4"/>
<rect x="573.2" y="231.3" width="2.3" height="1.9" rx="0.6" fill="#f4f4f4"/>
<rect x="576.0" y="231.3" width="2.3" height="1.9" rx="0.6" fill="#f4f4f4"/>
<rect x="578.8" y="231.2" width="2.3" height="1.9" rx="0.6" fill="#f4f4f4"/>
<rect x="584.4" y="231.2" width="2.3" height="1.9" rx="0.6" fill="#f4f4f4"/>
<rect x="587.2" y="231.2" width="2.3" height="1.9" rx="0.6" fill="#f4f4f4"/>
<rect x="590.0" y="231.1" width="2.3" height="1.9" rx="0.6" fill="#f4f4f4"/>
<rect x="592.8" y="231.1" width="2.3" height="1.9" rx="0.6" fill="#f4f4f4"/>
<rect x="595.6" y="231.1" width="2.3" height="1.9" rx="0.6" fill="#f4f4f4"/>
<rect x="598.4" y="231.1" width="2.3" height="1.9" rx="0.6" fill="#f4f4f4"/>
<rect x="601.2" y="231.0" width="2.3" height="1.9" rx="0.6" fill="#f4f4f4"/>
<rect x="604.0" y="231.0" width="2.3" height="1.9" rx="0.6" fill="#f4f4f4"/>
<rect x="606.8" y="231.0" width="2.3" height="1.9" rx="0.6" fill="#f4f4f4"/>
<rect x="609.6" y="231.0" width="2.3" height="1.9" rx="0.6" fill="#f4f4f4"/>
<rect x="612.4" y="230.9" width="2.3" height="1.9" rx="0.6" fill="#f4f4f4"/>
<polygon points="396.0,242.4 616.5,240.4 616.5,244.8 396.0,246.8" fill="#060608"/>
<polygon points="424.0,243.4 459.8,243.0 459.8,245.0 424.0,245.4" fill="#16226e"/>
<polygon points="532.2,242.4 566.2,242.1 566.2,244.1 532.2,244.4" fill="#16226e"/>
<rect x="398.0" y="243.7" width="2.3" height="1.9" rx="0.6" fill="#f4f4f4"/>
<rect x="403.6" y="243.6" width="2.3" height="1.9" rx="0.6" fill="#f4f4f4"/>
<rect x="406.4" y="243.6" width="2.3" height="1.9" rx="0.6" fill="#f4f4f4"/>
<rect x="409.2" y="243.6" width="2.3" height="1.9" rx="0.6" fill="#f4f4f4"/>
<rect x="412.0" y="243.5" width="2.3" height="1.9" rx="0.6" fill="#f4f4f4"/>
<rect x="462.4" y="243.1" width="2.3" height="1.9" rx="0.6" fill="#f4f4f4"/>
<rect x="465.2" y="243.0" width="2.3" height="1.9" rx="0.6" fill="#f4f4f4"/>
<rect x="468.0" y="243.0" width="2.3" height="1.9" rx="0.6" fill="#f4f4f4"/>
<rect x="473.6" y="243.0" width="2.3" height="1.9" rx="0.6" fill="#f4f4f4"/>
<rect x="476.4" y="242.9" width="2.3" height="1.9" rx="0.6" fill="#f4f4f4"/>
<rect x="479.2" y="242.9" width="2.3" height="1.9" rx="0.6" fill="#f4f4f4"/>
<rect x="482.0" y="242.9" width="2.3" height="1.9" rx="0.6" fill="#f4f4f4"/>
<rect x="484.8" y="242.9" width="2.3" height="1.9" rx="0.6" fill="#f4f4f4"/>
<rect x="487.6" y="242.8" width="2.3" height="1.9" rx="0.6" fill="#f4f4f4"/>
<rect x="490.4" y="242.8" width="2.3" height="1.9" rx="0.6" fill="#f4f4f4"/>
<rect x="496.0" y="242.8" width="2.3" height="1.9" rx="0.6" fill="#f4f4f4"/>
<rect x="498.8" y="242.7" width="2.3" height="1.9" rx="0.6" fill="#f4f4f4"/>
<rect x="504.1" y="242.7" width="2.3" height="1.9" rx="0.6" fill="#f4f4f4"/>
<rect x="506.9" y="242.7" width="2.3" height="1.9" rx="0.6" fill="#f4f4f4"/>
<rect x="509.7" y="242.6" width="2.3" height="1.9" rx="0.6" fill="#f4f4f4"/>
<rect x="512.5" y="242.6" width="2.3" height="1.9" rx="0.6" fill="#f4f4f4"/>
<rect x="515.3" y="242.6" width="2.3" height="1.9" rx="0.6" fill="#f4f4f4"/>
<rect x="518.1" y="242.6" width="2.3" height="1.9" rx="0.6" fill="#f4f4f4"/>
<rect x="520.9" y="242.5" width="2.3" height="1.9" rx="0.6" fill="#f4f4f4"/>
<rect x="523.7" y="242.5" width="2.3" height="1.9" rx="0.6" fill="#f4f4f4"/>
<rect x="526.5" y="242.5" width="2.3" height="1.9" rx="0.6" fill="#f4f4f4"/>
<rect x="581.2" y="242.0" width="2.3" height="1.9" rx="0.6" fill="#f4f4f4"/>
<rect x="584.0" y="242.0" width="2.3" height="1.9" rx="0.6" fill="#f4f4f4"/>
<rect x="586.8" y="241.9" width="2.3" height="1.9" rx="0.6" fill="#f4f4f4"/>
<rect x="589.6" y="241.9" width="2.3" height="1.9" rx="0.6" fill="#f4f4f4"/>
<rect x="595.2" y="241.9" width="2.3" height="1.9" rx="0.6" fill="#f4f4f4"/>
<rect x="598.0" y="241.8" width="2.3" height="1.9" rx="0.6" fill="#f4f4f4"/>
<rect x="600.8" y="241.8" width="2.3" height="1.9" rx="0.6" fill="#f4f4f4"/>
<rect x="603.6" y="241.8" width="2.3" height="1.9" rx="0.6" fill="#f4f4f4"/>
<rect x="606.4" y="241.8" width="2.3" height="1.9" rx="0.6" fill="#f4f4f4"/>
<rect x="609.2" y="241.7" width="2.3" height="1.9" rx="0.6" fill="#f4f4f4"/>
<rect x="612.0" y="241.7" width="2.3" height="1.9" rx="0.6" fill="#f4f4f4"/>
<rect x="614.8" y="241.7" width="2.3" height="1.9" rx="0.6" fill="#f4f4f4"/>
<rect x="468.8" y="248.9" width="6.0" height="1" fill="#8c9a3a"/>
<rect x="476.8" y="248.8" width="6.0" height="1" fill="#8c9a3a"/>
<rect x="484.8" y="248.7" width="6.0" height="1" fill="#8c9a3a"/>
<rect x="492.8" y="248.6" width="6.0" height="1" fill="#8c9a3a"/>
<rect x="500.8" y="248.6" width="6.0" height="1" fill="#8c9a3a"/>
<rect x="508.8" y="248.5" width="6.0" height="1" fill="#8c9a3a"/>
<rect x="516.8" y="248.4" width="6.0" height="1" fill="#8c9a3a"/>
<rect x="524.8" y="248.4" width="6.0" height="1" fill="#8c9a3a"/>
<polygon points="396.0,253.2 616.5,251.2 616.5,255.6 396.0,257.6" fill="#060608"/>
<polygon points="424.2,254.1 455.9,253.8 455.9,255.8 424.2,256.1" fill="#16226e"/>
<polygon points="549.9,253.0 566.3,252.8 566.3,254.8 549.9,255.0" fill="#16226e"/>
<rect x="398.0" y="254.4" width="2.3" height="1.9" rx="0.6" fill="#f4f4f4"/>
<rect x="400.8" y="254.4" width="2.3" height="1.9" rx="0.6" fill="#f4f4f4"/>
<rect x="403.6" y="254.4" width="2.3" height="1.9" rx="0.6" fill="#f4f4f4"/>
<rect x="406.4" y="254.3" width="2.3" height="1.9" rx="0.6" fill="#f4f4f4"/>
<rect x="409.2" y="254.3" width="2.3" height="1.9" rx="0.6" fill="#f4f4f4"/>
<rect x="412.0" y="254.3" width="2.3" height="1.9" rx="0.6" fill="#f4f4f4"/>
<rect x="414.8" y="254.3" width="2.3" height="1.9" rx="0.6" fill="#f4f4f4"/>
<rect x="462.7" y="253.8" width="2.3" height="1.9" rx="0.6" fill="#f4f4f4"/>
<rect x="465.5" y="253.8" width="2.3" height="1.9" rx="0.6" fill="#f4f4f4"/>
<rect x="468.3" y="253.8" width="2.3" height="1.9" rx="0.6" fill="#f4f4f4"/>
<rect x="473.9" y="253.7" width="2.3" height="1.9" rx="0.6" fill="#f4f4f4"/>
<rect x="476.7" y="253.7" width="2.3" height="1.9" rx="0.6" fill="#f4f4f4"/>
<rect x="479.5" y="253.7" width="2.3" height="1.9" rx="0.6" fill="#f4f4f4"/>
<rect x="482.3" y="253.7" width="2.3" height="1.9" rx="0.6" fill="#f4f4f4"/>
<rect x="485.1" y="253.6" width="2.3" height="1.9" rx="0.6" fill="#f4f4f4"/>
<rect x="487.9" y="253.6" width="2.3" height="1.9" rx="0.6" fill="#f4f4f4"/>
<rect x="490.7" y="253.6" width="2.3" height="1.9" rx="0.6" fill="#f4f4f4"/>
<rect x="493.5" y="253.6" width="2.3" height="1.9" rx="0.6" fill="#f4f4f4"/>
<rect x="499.1" y="253.5" width="2.3" height="1.9" rx="0.6" fill="#f4f4f4"/>
<rect x="511.2" y="253.4" width="2.3" height="1.9" rx="0.6" fill="#f4f4f4"/>
<rect x="514.0" y="253.4" width="2.3" height="1.9" rx="0.6" fill="#f4f4f4"/>
<rect x="516.8" y="253.3" width="2.3" height="1.9" rx="0.6" fill="#f4f4f4"/>
<rect x="519.6" y="253.3" width="2.3" height="1.9" rx="0.6" fill="#f4f4f4"/>
<rect x="522.4" y="253.3" width="2.3" height="1.9" rx="0.6" fill="#f4f4f4"/>
<rect x="525.2" y="253.3" width="2.3" height="1.9" rx="0.6" fill="#f4f4f4"/>
<rect x="528.0" y="253.2" width="2.3" height="1.9" rx="0.6" fill="#f4f4f4"/>
<rect x="530.8" y="253.2" width="2.3" height="1.9" rx="0.6" fill="#f4f4f4"/>
<rect x="533.6" y="253.2" width="2.3" height="1.9" rx="0.6" fill="#f4f4f4"/>
<rect x="582.4" y="252.7" width="2.3" height="1.9" rx="0.6" fill="#f4f4f4"/>
<rect x="585.2" y="252.7" width="2.3" height="1.9" rx="0.6" fill="#f4f4f4"/>
<rect x="588.0" y="252.7" width="2.3" height="1.9" rx="0.6" fill="#f4f4f4"/>
<rect x="593.6" y="252.6" width="2.3" height="1.9" rx="0.6" fill="#f4f4f4"/>
<rect x="599.2" y="252.6" width="2.3" height="1.9" rx="0.6" fill="#f4f4f4"/>
<rect x="602.0" y="252.6" width="2.3" height="1.9" rx="0.6" fill="#f4f4f4"/>
<rect x="604.8" y="252.5" width="2.3" height="1.9" rx="0.6" fill="#f4f4f4"/>
<rect x="607.6" y="252.5" width="2.3" height="1.9" rx="0.6" fill="#f4f4f4"/>
<rect x="610.4" y="252.5" width="2.3" height="1.9" rx="0.6" fill="#f4f4f4"/>
<rect x="613.2" y="252.5" width="2.3" height="1.9" rx="0.6" fill="#f4f4f4"/>
<rect x="415.1" y="260.1" width="6.0" height="1" fill="#8c9a3a"/>
<rect x="423.1" y="260.0" width="6.0" height="1" fill="#8c9a3a"/>
<rect x="431.1" y="260.0" width="6.0" height="1" fill="#8c9a3a"/>
<rect x="439.1" y="259.9" width="6.0" height="1" fill="#8c9a3a"/>
<rect x="447.1" y="259.8" width="6.0" height="1" fill="#8c9a3a"/>
<rect x="455.1" y="259.8" width="6.0" height="1" fill="#8c9a3a"/>
<rect x="463.1" y="259.7" width="6.0" height="1" fill="#8c9a3a"/>
<polygon points="396.0,264.0 616.5,262.0 616.5,266.4 396.0,268.4" fill="#060608"/>
<polygon points="431.9,264.8 460.4,264.6 460.4,266.6 431.9,266.8" fill="#16226e"/>
<polygon points="539.2,263.9 565.6,263.6 565.6,265.6 539.2,265.9" fill="#16226e"/>
<rect x="398.0" y="265.2" width="2.3" height="1.9" rx="0.6" fill="#f4f4f4"/>
<rect x="400.8" y="265.2" width="2.3" height="1.9" rx="0.6" fill="#f4f4f4"/>
<rect x="403.6" y="265.1" width="2.3" height="1.9" rx="0.6" fill="#f4f4f4"/>
<rect x="409.2" y="265.1" width="2.3" height="1.9" rx="0.6" fill="#f4f4f4"/>
<rect x="412.0" y="265.1" width="2.3" height="1.9" rx="0.6" fill="#f4f4f4"/>
<rect x="414.8" y="265.0" width="2.3" height="1.9" rx="0.6" fill="#f4f4f4"/>
<rect x="420.4" y="265.0" width="2.3" height="1.9" rx="0.6" fill="#f4f4f4"/>
<rect x="423.2" y="265.0" width="2.3" height="1.9" rx="0.6" fill="#f4f4f4"/>
<rect x="458.9" y="264.6" width="2.3" height="1.9" rx="0.6" fill="#f4f4f4"/>
<rect x="461.7" y="264.6" width="2.3" height="1.9" rx="0.6" fill="#f4f4f4"/>
<rect x="464.5" y="264.6" width="2.3" height="1.9" rx="0.6" fill="#f4f4f4"/>
<rect x="467.3" y="264.6" width="2.3" height="1.9" rx="0.6" fill="#f4f4f4"/>
<rect x="470.1" y="264.5" width="2.3" height="1.9" rx="0.6" fill="#f4f4f4"/>
<rect x="475.7" y="264.5" width="2.3" height="1.9" rx="0.6" fill="#f4f4f4"/>
<rect x="478.5" y="264.5" width="2.3" height="1.9" rx="0.6" fill="#f4f4f4"/>
<rect x="484.1" y="264.4" width="2.3" height="1.9" rx="0.6" fill="#f4f4f4"/>
<rect x="486.9" y="264.4" width="2.3" height="1.9" rx="0.6" fill="#f4f4f4"/>
<rect x="489.7" y="264.4" width="2.3" height="1.9" rx="0.6" fill="#f4f4f4"/>
<rect x="492.5" y="264.3" width="2.3" height="1.9" rx="0.6" fill="#f4f4f4"/>
<rect x="495.3" y="264.3" width="2.3" height="1.9" rx="0.6" fill="#f4f4f4"/>
<rect x="498.1" y="264.3" width="2.3" height="1.9" rx="0.6" fill="#f4f4f4"/>
<rect x="504.7" y="264.2" width="2.3" height="1.9" rx="0.6" fill="#f4f4f4"/>
<rect x="507.5" y="264.2" width="2.3" height="1.9" rx="0.6" fill="#f4f4f4"/>
<rect x="510.3" y="264.2" width="2.3" height="1.9" rx="0.6" fill="#f4f4f4"/>
<rect x="513.1" y="264.1" width="2.3" height="1.9" rx="0.6" fill="#f4f4f4"/>
<rect x="515.9" y="264.1" width="2.3" height="1.9" rx="0.6" fill="#f4f4f4"/>
<rect x="518.7" y="264.1" width="2.3" height="1.9" rx="0.6" fill="#f4f4f4"/>
<rect x="521.5" y="264.1" width="2.3" height="1.9" rx="0.6" fill="#f4f4f4"/>
<rect x="527.1" y="264.0" width="2.3" height="1.9" rx="0.6" fill="#f4f4f4"/>
<rect x="529.9" y="264.0" width="2.3" height="1.9" rx="0.6" fill="#f4f4f4"/>
<rect x="532.7" y="264.0" width="2.3" height="1.9" rx="0.6" fill="#f4f4f4"/>
<rect x="535.5" y="263.9" width="2.3" height="1.9" rx="0.6" fill="#f4f4f4"/>
<rect x="538.3" y="263.9" width="2.3" height="1.9" rx="0.6" fill="#f4f4f4"/>
<rect x="581.2" y="263.5" width="2.3" height="1.9" rx="0.6" fill="#f4f4f4"/>
<rect x="584.0" y="263.5" width="2.3" height="1.9" rx="0.6" fill="#f4f4f4"/>
<rect x="586.8" y="263.5" width="2.3" height="1.9" rx="0.6" fill="#f4f4f4"/>
<rect x="589.6" y="263.5" width="2.3" height="1.9" rx="0.6" fill="#f4f4f4"/>
<rect x="592.4" y="263.4" width="2.3" height="1.9" rx="0.6" fill="#f4f4f4"/>
<rect x="595.2" y="263.4" width="2.3" height="1.9" rx="0.6" fill="#f4f4f4"/>
<rect x="598.0" y="263.4" width="2.3" height="1.9" rx="0.6" fill="#f4f4f4"/>
<rect x="600.8" y="263.4" width="2.3" height="1.9" rx="0.6" fill="#f4f4f4"/>
<rect x="603.6" y="263.3" width="2.3" height="1.9" rx="0.6" fill="#f4f4f4"/>
<rect x="606.4" y="263.3" width="2.3" height="1.9" rx="0.6" fill="#f4f4f4"/>
<rect x="609.2" y="263.3" width="2.3" height="1.9" rx="0.6" fill="#f4f4f4"/>
<rect x="612.0" y="263.3" width="2.3" height="1.9" rx="0.6" fill="#f4f4f4"/>
<rect x="614.8" y="263.2" width="2.3" height="1.9" rx="0.6" fill="#f4f4f4"/>
<rect x="522.3" y="269.9" width="6.0" height="1" fill="#8c9a3a"/>
<rect x="530.3" y="269.8" width="6.0" height="1" fill="#8c9a3a"/>
<rect x="538.3" y="269.8" width="6.0" height="1" fill="#8c9a3a"/>
<rect x="546.3" y="269.7" width="6.0" height="1" fill="#8c9a3a"/>
<rect x="554.3" y="269.6" width="6.0" height="1" fill="#8c9a3a"/>
<rect x="562.3" y="269.6" width="6.0" height="1" fill="#8c9a3a"/>
<rect x="570.3" y="269.5" width="6.0" height="1" fill="#8c9a3a"/>
<rect x="578.3" y="269.4" width="6.0" height="1" fill="#8c9a3a"/>
<rect x="586.3" y="269.3" width="6.0" height="1" fill="#8c9a3a"/>
<rect x="594.3" y="269.3" width="6.0" height="1" fill="#8c9a3a"/>
<polygon points="396.0,274.7 616.5,272.7 616.5,277.1 396.0,279.1" fill="#060608"/>
<polygon points="421.5,275.7 453.0,275.4 453.0,277.4 421.5,277.7" fill="#16226e"/>
<polygon points="549.0,274.5 566.1,274.4 566.1,276.4 549.0,276.5" fill="#16226e"/>
<rect x="398.0" y="276.0" width="2.3" height="1.9" rx="0.6" fill="#f4f4f4"/>
<rect x="400.8" y="275.9" width="2.3" height="1.9" rx="0.6" fill="#f4f4f4"/>
<rect x="406.4" y="275.9" width="2.3" height="1.9" rx="0.6" fill="#f4f4f4"/>
<rect x="412.0" y="275.8" width="2.3" height="1.9" rx="0.6" fill="#f4f4f4"/>
<rect x="414.8" y="275.8" width="2.3" height="1.9" rx="0.6" fill="#f4f4f4"/>
<rect x="417.6" y="275.8" width="2.3" height="1.9" rx="0.6" fill="#f4f4f4"/>
<rect x="459.1" y="275.4" width="2.3" height="1.9" rx="0.6" fill="#f4f4f4"/>
<rect x="461.9" y="275.4" width="2.3" height="1.9" rx="0.6" fill="#f4f4f4"/>
<rect x="464.7" y="275.4" width="2.3" height="1.9" rx="0.6" fill="#f4f4f4"/>
<rect x="467.5" y="275.3" width="2.3" height="1.9" rx="0.6" fill="#f4f4f4"/>
<rect x="470.3" y="275.3" width="2.3" height="1.9" rx="0.6" fill="#f4f4f4"/>
<rect x="473.1" y="275.3" width="2.3" height="1.9" rx="0.6" fill="#f4f4f4"/>
<rect x="475.9" y="275.3" width="2.3" height="1.9" rx="0.6" fill="#f4f4f4"/>
<rect x="478.7" y="275.2" width="2.3" height="1.9" rx="0.6" fill="#f4f4f4"/>
<rect x="481.5" y="275.2" width="2.3" height="1.9" rx="0.6" fill="#f4f4f4"/>
<rect x="484.3" y="275.2" width="2.3" height="1.9" rx="0.6" fill="#f4f4f4"/>
<rect x="487.1" y="275.2" width="2.3" height="1.9" rx="0.6" fill="#f4f4f4"/>
<rect x="489.9" y="275.1" width="2.3" height="1.9" rx="0.6" fill="#f4f4f4"/>
<rect x="492.7" y="275.1" width="2.3" height="1.9" rx="0.6" fill="#f4f4f4"/>
<rect x="495.5" y="275.1" width="2.3" height="1.9" rx="0.6" fill="#f4f4f4"/>
<rect x="498.3" y="275.1" width="2.3" height="1.9" rx="0.6" fill="#f4f4f4"/>
<rect x="501.1" y="275.0" width="2.3" height="1.9" rx="0.6" fill="#f4f4f4"/>
<rect x="503.9" y="275.0" width="2.3" height="1.9" rx="0.6" fill="#f4f4f4"/>
<rect x="505.0" y="275.0" width="2.3" height="1.9" rx="0.6" fill="#f4f4f4"/>
<rect x="513.4" y="274.9" width="2.3" height="1.9" rx="0.6" fill="#f4f4f4"/>
<rect x="516.2" y="274.9" width="2.3" height="1.9" rx="0.6" fill="#f4f4f4"/>
<rect x="519.0" y="274.9" width="2.3" height="1.9" rx="0.6" fill="#f4f4f4"/>
<rect x="521.8" y="274.8" width="2.3" height="1.9" rx="0.6" fill="#f4f4f4"/>
<rect x="524.6" y="274.8" width="2.3" height="1.9" rx="0.6" fill="#f4f4f4"/>
<rect x="527.4" y="274.8" width="2.3" height="1.9" rx="0.6" fill="#f4f4f4"/>
<rect x="530.2" y="274.8" width="2.3" height="1.9" rx="0.6" fill="#f4f4f4"/>
<rect x="533.0" y="274.7" width="2.3" height="1.9" rx="0.6" fill="#f4f4f4"/>
<rect x="535.8" y="274.7" width="2.3" height="1.9" rx="0.6" fill="#f4f4f4"/>
<rect x="580.6" y="274.3" width="2.3" height="1.9" rx="0.6" fill="#f4f4f4"/>
<rect x="583.4" y="274.3" width="2.3" height="1.9" rx="0.6" fill="#f4f4f4"/>
<rect x="586.2" y="274.3" width="2.3" height="1.9" rx="0.6" fill="#f4f4f4"/>
<rect x="589.0" y="274.2" width="2.3" height="1.9" rx="0.6" fill="#f4f4f4"/>
<rect x="591.8" y="274.2" width="2.3" height="1.9" rx="0.6" fill="#f4f4f4"/>
<rect x="594.6" y="274.2" width="2.3" height="1.9" rx="0.6" fill="#f4f4f4"/>
<rect x="597.4" y="274.2" width="2.3" height="1.9" rx="0.6" fill="#f4f4f4"/>
<rect x="600.2" y="274.1" width="2.3" height="1.9" rx="0.6" fill="#f4f4f4"/>
<rect x="603.0" y="274.1" width="2.3" height="1.9" rx="0.6" fill="#f4f4f4"/>
<rect x="605.8" y="274.1" width="2.3" height="1.9" rx="0.6" fill="#f4f4f4"/>
<rect x="608.6" y="274.1" width="2.3" height="1.9" rx="0.6" fill="#f4f4f4"/>
<rect x="611.4" y="274.0" width="2.3" height="1.9" rx="0.6" fill="#f4f4f4"/>
<rect x="614.2" y="274.0" width="2.3" height="1.9" rx="0.6" fill="#f4f4f4"/>
<polygon points="396.0,285.5 616.5,283.5 616.5,287.9 396.0,289.9" fill="#060608"/>
<polygon points="419.4,286.5 449.7,286.2 449.7,288.2 419.4,288.5" fill="#16226e"/>
<polygon points="528.3,285.5 576.3,285.1 576.3,287.1 528.3,287.5" fill="#16226e"/>
<rect x="398.0" y="286.7" width="2.3" height="1.9" rx="0.6" fill="#f4f4f4"/>
<rect x="400.8" y="286.7" width="2.3" height="1.9" rx="0.6" fill="#f4f4f4"/>
<rect x="403.6" y="286.7" width="2.3" height="1.9" rx="0.6" fill="#f4f4f4"/>
<rect x="406.4" y="286.7" width="2.3" height="1.9" rx="0.6" fill="#f4f4f4"/>
<rect x="409.2" y="286.6" width="2.3" height="1.9" rx="0.6" fill="#f4f4f4"/>
<rect x="412.0" y="286.6" width="2.3" height="1.9" rx="0.6" fill="#f4f4f4"/>
<rect x="414.8" y="286.6" width="2.3" height="1.9" rx="0.6" fill="#f4f4f4"/>
<rect x="462.4" y="286.1" width="2.3" height="1.9" rx="0.6" fill="#f4f4f4"/>
<rect x="465.2" y="286.1" width="2.3" height="1.9" rx="0.6" fill="#f4f4f4"/>
<rect x="473.6" y="286.0" width="2.3" height="1.9" rx="0.6" fill="#f4f4f4"/>
<rect x="476.4" y="286.0" width="2.3" height="1.9" rx="0.6" fill="#f4f4f4"/>
<rect x="479.2" y="286.0" width="2.3" height="1.9" rx="0.6" fill="#f4f4f4"/>
<rect x="482.0" y="286.0" width="2.3" height="1.9" rx="0.6" fill="#f4f4f4"/>
<rect x="484.8" y="285.9" width="2.3" height="1.9" rx="0.6" fill="#f4f4f4"/>
<rect x="487.6" y="285.9" width="2.3" height="1.9" rx="0.6" fill="#f4f4f4"/>
<rect x="490.4" y="285.9" width="2.3" height="1.9" rx="0.6" fill="#f4f4f4"/>
<rect x="493.2" y="285.9" width="2.3" height="1.9" rx="0.6" fill="#f4f4f4"/>
<rect x="496.0" y="285.8" width="2.3" height="1.9" rx="0.6" fill="#f4f4f4"/>
<rect x="498.8" y="285.8" width="2.3" height="1.9" rx="0.6" fill="#f4f4f4"/>
<rect x="510.4" y="285.7" width="2.3" height="1.9" rx="0.6" fill="#f4f4f4"/>
<rect x="513.2" y="285.7" width="2.3" height="1.9" rx="0.6" fill="#f4f4f4"/>
<rect x="516.0" y="285.7" width="2.3" height="1.9" rx="0.6" fill="#f4f4f4"/>
<rect x="524.4" y="285.6" width="2.3" height="1.9" rx="0.6" fill="#f4f4f4"/>
<rect x="527.2" y="285.6" width="2.3" height="1.9" rx="0.6" fill="#f4f4f4"/>
<rect x="530.0" y="285.5" width="2.3" height="1.9" rx="0.6" fill="#f4f4f4"/>
<rect x="532.8" y="285.5" width="2.3" height="1.9" rx="0.6" fill="#f4f4f4"/>
<rect x="578.2" y="285.1" width="2.3" height="1.9" rx="0.6" fill="#f4f4f4"/>
<rect x="581.0" y="285.1" width="2.3" height="1.9" rx="0.6" fill="#f4f4f4"/>
<rect x="583.8" y="285.0" width="2.3" height="1.9" rx="0.6" fill="#f4f4f4"/>
<rect x="586.6" y="285.0" width="2.3" height="1.9" rx="0.6" fill="#f4f4f4"/>
<rect x="589.4" y="285.0" width="2.3" height="1.9" rx="0.6" fill="#f4f4f4"/>
<rect x="595.0" y="284.9" width="2.3" height="1.9" rx="0.6" fill="#f4f4f4"/>
<rect x="597.8" y="284.9" width="2.3" height="1.9" rx="0.6" fill="#f4f4f4"/>
<rect x="606.2" y="284.8" width="2.3" height="1.9" rx="0.6" fill="#f4f4f4"/>
<rect x="609.0" y="284.8" width="2.3" height="1.9" rx="0.6" fill="#f4f4f4"/>
<rect x="611.8" y="284.8" width="2.3" height="1.9" rx="0.6" fill="#f4f4f4"/>
<rect x="614.6" y="284.8" width="2.3" height="1.9" rx="0.6" fill="#f4f4f4"/>
<polygon points="396.0,296.3 616.5,294.3 616.5,298.7 396.0,300.7" fill="#060608"/>
<polygon points="428.4,297.2 454.3,296.9 454.3,298.9 428.4,299.2" fill="#16226e"/>
<polygon points="532.6,296.2 569.2,295.9 569.2,297.9 532.6,298.2" fill="#16226e"/>
<rect x="398.0" y="297.5" width="2.3" height="1.9" rx="0.6" fill="#f4f4f4"/>
<rect x="400.8" y="297.5" width="2.3" height="1.9" rx="0.6" fill="#f4f4f4"/>
<rect x="403.6" y="297.5" width="2.3" height="1.9" rx="0.6" fill="#f4f4f4"/>
<rect x="406.4" y="297.4" width="2.3" height="1.9" rx="0.6" fill="#f4f4f4"/>
<rect x="409.2" y="297.4" width="2.3" height="1.9" rx="0.6" fill="#f4f4f4"/>
<rect x="412.0" y="297.4" width="2.3" height="1.9" rx="0.6" fill="#f4f4f4"/>
<rect x="414.8" y="297.3" width="2.3" height="1.9" rx="0.6" fill="#f4f4f4"/>
<rect x="461.8" y="296.9" width="2.3" height="1.9" rx="0.6" fill="#f4f4f4"/>
<rect x="464.6" y="296.9" width="2.3" height="1.9" rx="0.6" fill="#f4f4f4"/>
<rect x="467.4" y="296.9" width="2.3" height="1.9" rx="0.6" fill="#f4f4f4"/>
<rect x="470.2" y="296.8" width="2.3" height="1.9" rx="0.6" fill="#f4f4f4"/>
<rect x="473.0" y="296.8" width="2.3" height="1.9" rx="0.6" fill="#f4f4f4"/>
<rect x="478.6" y="296.8" width="2.3" height="1.9" rx="0.6" fill="#f4f4f4"/>
<rect x="481.4" y="296.7" width="2.3" height="1.9" rx="0.6" fill="#f4f4f4"/>
<rect x="487.0" y="296.7" width="2.3" height="1.9" rx="0.6" fill="#f4f4f4"/>
<rect x="489.8" y="296.7" width="2.3" height="1.9" rx="0.6" fill="#f4f4f4"/>
<rect x="492.6" y="296.6" width="2.3" height="1.9" rx="0.6" fill="#f4f4f4"/>
<rect x="495.4" y="296.6" width="2.3" height="1.9" rx="0.6" fill="#f4f4f4"/>
<rect x="498.2" y="296.6" width="2.3" height="1.9" rx="0.6" fill="#f4f4f4"/>
<rect x="501.0" y="296.6" width="2.3" height="1.9" rx="0.6" fill="#f4f4f4"/>
<rect x="505.5" y="296.5" width="2.3" height="1.9" rx="0.6" fill="#f4f4f4"/>
<rect x="508.3" y="296.5" width="2.3" height="1.9" rx="0.6" fill="#f4f4f4"/>
<rect x="511.1" y="296.5" width="2.3" height="1.9" rx="0.6" fill="#f4f4f4"/>
<rect x="516.7" y="296.4" width="2.3" height="1.9" rx="0.6" fill="#f4f4f4"/>
<rect x="519.5" y="296.4" width="2.3" height="1.9" rx="0.6" fill="#f4f4f4"/>
<rect x="522.3" y="296.4" width="2.3" height="1.9" rx="0.6" fill="#f4f4f4"/>
<rect x="525.1" y="296.3" width="2.3" height="1.9" rx="0.6" fill="#f4f4f4"/>
<rect x="527.9" y="296.3" width="2.3" height="1.9" rx="0.6" fill="#f4f4f4"/>
<rect x="530.7" y="296.3" width="2.3" height="1.9" rx="0.6" fill="#f4f4f4"/>
<rect x="533.5" y="296.3" width="2.3" height="1.9" rx="0.6" fill="#f4f4f4"/>
<rect x="581.4" y="295.8" width="2.3" height="1.9" rx="0.6" fill="#f4f4f4"/>
<rect x="584.2" y="295.8" width="2.3" height="1.9" rx="0.6" fill="#f4f4f4"/>
<rect x="587.0" y="295.8" width="2.3" height="1.9" rx="0.6" fill="#f4f4f4"/>
<rect x="589.8" y="295.8" width="2.3" height="1.9" rx="0.6" fill="#f4f4f4"/>
<rect x="592.6" y="295.7" width="2.3" height="1.9" rx="0.6" fill="#f4f4f4"/>
<rect x="595.4" y="295.7" width="2.3" height="1.9" rx="0.6" fill="#f4f4f4"/>
<rect x="598.2" y="295.7" width="2.3" height="1.9" rx="0.6" fill="#f4f4f4"/>
<rect x="601.0" y="295.7" width="2.3" height="1.9" rx="0.6" fill="#f4f4f4"/>
<rect x="603.8" y="295.6" width="2.3" height="1.9" rx="0.6" fill="#f4f4f4"/>
<rect x="606.6" y="295.6" width="2.3" height="1.9" rx="0.6" fill="#f4f4f4"/>
<rect x="609.4" y="295.6" width="2.3" height="1.9" rx="0.6" fill="#f4f4f4"/>
</g>
<polyline points="620.7,67.4 391.8,67.4 391.8,296 620.7,296" fill="none" stroke="#a8a8a8" stroke-width="1.1"/>
<line x1="396.3" y1="67.4" x2="396.3" y2="71.4" stroke="#a8a8a8" stroke-width="0.8"/>
<line x1="396.3" y1="296" x2="396.3" y2="292.0" stroke="#a8a8a8" stroke-width="0.8"/>
<line x1="391.8" y1="72.2" x2="395.8" y2="72.2" stroke="#a8a8a8" stroke-width="0.8"/>
<line x1="620.7" y1="72.2" x2="616.7" y2="72.2" stroke="#a8a8a8" stroke-width="0.8"/>
<line x1="407.3" y1="67.4" x2="407.3" y2="69.9" stroke="#a8a8a8" stroke-width="0.8"/>
<line x1="407.3" y1="296" x2="407.3" y2="293.5" stroke="#a8a8a8" stroke-width="0.8"/>
<line x1="391.8" y1="83.2" x2="394.3" y2="83.2" stroke="#a8a8a8" stroke-width="0.8"/>
<line x1="620.7" y1="83.2" x2="618.2" y2="83.2" stroke="#a8a8a8" stroke-width="0.8"/>
<line x1="418.3" y1="67.4" x2="418.3" y2="69.9" stroke="#a8a8a8" stroke-width="0.8"/>
<line x1="418.3" y1="296" x2="418.3" y2="293.5" stroke="#a8a8a8" stroke-width="0.8"/>
<line x1="391.8" y1="94.2" x2="394.3" y2="94.2" stroke="#a8a8a8" stroke-width="0.8"/>
<line x1="620.7" y1="94.2" x2="618.2" y2="94.2" stroke="#a8a8a8" stroke-width="0.8"/>
<line x1="429.3" y1="67.4" x2="429.3" y2="69.9" stroke="#a8a8a8" stroke-width="0.8"/>
<line x1="429.3" y1="296" x2="429.3" y2="293.5" stroke="#a8a8a8" stroke-width="0.8"/>
<line x1="391.8" y1="105.2" x2="394.3" y2="105.2" stroke="#a8a8a8" stroke-width="0.8"/>
<line x1="620.7" y1="105.2" x2="618.2" y2="105.2" stroke="#a8a8a8" stroke-width="0.8"/>
<line x1="440.3" y1="67.4" x2="440.3" y2="69.9" stroke="#a8a8a8" stroke-width="0.8"/>
<line x1="440.3" y1="296" x2="440.3" y2="293.5" stroke="#a8a8a8" stroke-width="0.8"/>
<line x1="391.8" y1="116.2" x2="394.3" y2="116.2" stroke="#a8a8a8" stroke-width="0.8"/>
<line x1="620.7" y1="116.2" x2="618.2" y2="116.2" stroke="#a8a8a8" stroke-width="0.8"/>
<line x1="451.4" y1="67.4" x2="451.4" y2="71.4" stroke="#a8a8a8" stroke-width="0.8"/>
<line x1="451.4" y1="296" x2="451.4" y2="292.0" stroke="#a8a8a8" stroke-width="0.8"/>
<line x1="391.8" y1="127.2" x2="395.8" y2="127.2" stroke="#a8a8a8" stroke-width="0.8"/>
<line x1="620.7" y1="127.2" x2="616.7" y2="127.2" stroke="#a8a8a8" stroke-width="0.8"/>
<line x1="462.4" y1="67.4" x2="462.4" y2="69.9" stroke="#a8a8a8" stroke-width="0.8"/>
<line x1="462.4" y1="296" x2="462.4" y2="293.5" stroke="#a8a8a8" stroke-width="0.8"/>
<line x1="391.8" y1="138.2" x2="394.3" y2="138.2" stroke="#a8a8a8" stroke-width="0.8"/>
<line x1="620.7" y1="138.2" x2="618.2" y2="138.2" stroke="#a8a8a8" stroke-width="0.8"/>
<line x1="473.4" y1="67.4" x2="473.4" y2="69.9" stroke="#a8a8a8" stroke-width="0.8"/>
<line x1="473.4" y1="296" x2="473.4" y2="293.5" stroke="#a8a8a8" stroke-width="0.8"/>
<line x1="391.8" y1="149.2" x2="394.3" y2="149.2" stroke="#a8a8a8" stroke-width="0.8"/>
<line x1="620.7" y1="149.2" x2="618.2" y2="149.2" stroke="#a8a8a8" stroke-width="0.8"/>
<line x1="484.4" y1="67.4" x2="484.4" y2="69.9" stroke="#a8a8a8" stroke-width="0.8"/>
<line x1="484.4" y1="296" x2="484.4" y2="293.5" stroke="#a8a8a8" stroke-width="0.8"/>
<line x1="391.8" y1="160.2" x2="394.3" y2="160.2" stroke="#a8a8a8" stroke-width="0.8"/>
<line x1="620.7" y1="160.2" x2="618.2" y2="160.2" stroke="#a8a8a8" stroke-width="0.8"/>
<line x1="495.4" y1="67.4" x2="495.4" y2="69.9" stroke="#a8a8a8" stroke-width="0.8"/>
<line x1="495.4" y1="296" x2="495.4" y2="293.5" stroke="#a8a8a8" stroke-width="0.8"/>
<line x1="391.8" y1="171.2" x2="394.3" y2="171.2" stroke="#a8a8a8" stroke-width="0.8"/>
<line x1="620.7" y1="171.2" x2="618.2" y2="171.2" stroke="#a8a8a8" stroke-width="0.8"/>
<line x1="506.4" y1="67.4" x2="506.4" y2="71.4" stroke="#a8a8a8" stroke-width="0.8"/>
<line x1="506.4" y1="296" x2="506.4" y2="292.0" stroke="#a8a8a8" stroke-width="0.8"/>
<line x1="391.8" y1="182.2" x2="395.8" y2="182.2" stroke="#a8a8a8" stroke-width="0.8"/>
<line x1="620.7" y1="182.2" x2="616.7" y2="182.2" stroke="#a8a8a8" stroke-width="0.8"/>
<line x1="517.4" y1="67.4" x2="517.4" y2="69.9" stroke="#a8a8a8" stroke-width="0.8"/>
<line x1="517.4" y1="296" x2="517.4" y2="293.5" stroke="#a8a8a8" stroke-width="0.8"/>
<line x1="391.8" y1="193.2" x2="394.3" y2="193.2" stroke="#a8a8a8" stroke-width="0.8"/>
<line x1="620.7" y1="193.2" x2="618.2" y2="193.2" stroke="#a8a8a8" stroke-width="0.8"/>
<line x1="528.4" y1="67.4" x2="528.4" y2="69.9" stroke="#a8a8a8" stroke-width="0.8"/>
<line x1="528.4" y1="296" x2="528.4" y2="293.5" stroke="#a8a8a8" stroke-width="0.8"/>
<line x1="391.8" y1="204.2" x2="394.3" y2="204.2" stroke="#a8a8a8" stroke-width="0.8"/>
<line x1="620.7" y1="204.2" x2="618.2" y2="204.2" stroke="#a8a8a8" stroke-width="0.8"/>
<line x1="539.4" y1="67.4" x2="539.4" y2="69.9" stroke="#a8a8a8" stroke-width="0.8"/>
<line x1="539.4" y1="296" x2="539.4" y2="293.5" stroke="#a8a8a8" stroke-width="0.8"/>
<line x1="391.8" y1="215.2" x2="394.3" y2="215.2" stroke="#a8a8a8" stroke-width="0.8"/>
<line x1="620.7" y1="215.2" x2="618.2" y2="215.2" stroke="#a8a8a8" stroke-width="0.8"/>
<line x1="550.4" y1="67.4" x2="550.4" y2="69.9" stroke="#a8a8a8" stroke-width="0.8"/>
<line x1="550.4" y1="296" x2="550.4" y2="293.5" stroke="#a8a8a8" stroke-width="0.8"/>
<line x1="391.8" y1="226.2" x2="394.3" y2="226.2" stroke="#a8a8a8" stroke-width="0.8"/>
<line x1="620.7" y1="226.2" x2="618.2" y2="226.2" stroke="#a8a8a8" stroke-width="0.8"/>
<line x1="561.5" y1="67.4" x2="561.5" y2="71.4" stroke="#a8a8a8" stroke-width="0.8"/>
<line x1="561.5" y1="296" x2="561.5" y2="292.0" stroke="#a8a8a8" stroke-width="0.8"/>
<line x1="391.8" y1="237.2" x2="395.8" y2="237.2" stroke="#a8a8a8" stroke-width="0.8"/>
<line x1="620.7" y1="237.2" x2="616.7" y2="237.2" stroke="#a8a8a8" stroke-width="0.8"/>
<line x1="572.5" y1="67.4" x2="572.5" y2="69.9" stroke="#a8a8a8" stroke-width="0.8"/>
<line x1="572.5" y1="296" x2="572.5" y2="293.5" stroke="#a8a8a8" stroke-width="0.8"/>
<line x1="391.8" y1="248.2" x2="394.3" y2="248.2" stroke="#a8a8a8" stroke-width="0.8"/>
<line x1="620.7" y1="248.2" x2="618.2" y2="248.2" stroke="#a8a8a8" stroke-width="0.8"/>
<line x1="583.5" y1="67.4" x2="583.5" y2="69.9" stroke="#a8a8a8" stroke-width="0.8"/>
<line x1="583.5" y1="296" x2="583.5" y2="293.5" stroke="#a8a8a8" stroke-width="0.8"/>
<line x1="391.8" y1="259.2" x2="394.3" y2="259.2" stroke="#a8a8a8" stroke-width="0.8"/>
<line x1="620.7" y1="259.2" x2="618.2" y2="259.2" stroke="#a8a8a8" stroke-width="0.8"/>
<line x1="594.5" y1="67.4" x2="594.5" y2="69.9" stroke="#a8a8a8" stroke-width="0.8"/>
<line x1="594.5" y1="296" x2="594.5" y2="293.5" stroke="#a8a8a8" stroke-width="0.8"/>
<line x1="391.8" y1="270.2" x2="394.3" y2="270.2" stroke="#a8a8a8" stroke-width="0.8"/>
<line x1="620.7" y1="270.2" x2="618.2" y2="270.2" stroke="#a8a8a8" stroke-width="0.8"/>
<line x1="605.5" y1="67.4" x2="605.5" y2="69.9" stroke="#a8a8a8" stroke-width="0.8"/>
<line x1="605.5" y1="296" x2="605.5" y2="293.5" stroke="#a8a8a8" stroke-width="0.8"/>
<line x1="391.8" y1="281.2" x2="394.3" y2="281.2" stroke="#a8a8a8" stroke-width="0.8"/>
<line x1="620.7" y1="281.2" x2="618.2" y2="281.2" stroke="#a8a8a8" stroke-width="0.8"/>
<line x1="616.5" y1="67.4" x2="616.5" y2="71.4" stroke="#a8a8a8" stroke-width="0.8"/>
<line x1="616.5" y1="296" x2="616.5" y2="292.0" stroke="#a8a8a8" stroke-width="0.8"/>
<line x1="391.8" y1="292.2" x2="395.8" y2="292.2" stroke="#a8a8a8" stroke-width="0.8"/>
<line x1="620.7" y1="292.2" x2="616.7" y2="292.2" stroke="#a8a8a8" stroke-width="0.8"/>
<rect x="631.5" y="114.40" width="9.3" height="13.11" fill="#d42a24"/>
<rect x="631.5" y="127.21" width="9.3" height="13.11" fill="#e2602c"/>
<rect x="631.5" y="140.02" width="9.3" height="13.11" fill="#e8983c"/>
<rect x="631.5" y="152.83" width="9.3" height="13.11" fill="#d4b84a"/>
<rect x="631.5" y="165.64" width="9.3" height="13.11" fill="#b4c15a"/>
<rect x="631.5" y="178.45" width="9.3" height="13.11" fill="#8cba6c"/>
<rect x="631.5" y="191.25" width="9.3" height="13.11" fill="#5aa596"/>
<rect x="631.5" y="204.06" width="9.3" height="13.11" fill="#4a8ac8"/>
<rect x="631.5" y="216.87" width="9.3" height="13.11" fill="#3a5ac0"/>
<rect x="631.5" y="229.68" width="9.3" height="13.11" fill="#4432a8"/>
<rect x="631.5" y="242.49" width="9.3" height="13.11" fill="#7a2290"/>
<line x1="638.5" y1="127.2" x2="643.5" y2="127.2" stroke="#444" stroke-width="0.8"/>
<line x1="638.5" y1="140.0" x2="643.5" y2="140.0" stroke="#444" stroke-width="0.8"/>
<line x1="638.5" y1="152.8" x2="643.5" y2="152.8" stroke="#444" stroke-width="0.8"/>
<line x1="638.5" y1="165.6" x2="643.5" y2="165.6" stroke="#444" stroke-width="0.8"/>
<line x1="638.5" y1="178.4" x2="643.5" y2="178.4" stroke="#444" stroke-width="0.8"/>
<line x1="638.5" y1="191.3" x2="643.5" y2="191.3" stroke="#444" stroke-width="0.8"/>
<line x1="638.5" y1="204.1" x2="643.5" y2="204.1" stroke="#444" stroke-width="0.8"/>
<line x1="638.5" y1="216.9" x2="643.5" y2="216.9" stroke="#444" stroke-width="0.8"/>
<line x1="638.5" y1="229.7" x2="643.5" y2="229.7" stroke="#444" stroke-width="0.8"/>
<line x1="638.5" y1="242.5" x2="643.5" y2="242.5" stroke="#444" stroke-width="0.8"/>
<text x="644.5" y="133.7" font-family="Liberation Sans" font-weight="bold" font-size="17.5">2.25</text>
<text x="644.5" y="146.5" font-family="Liberation Sans" font-weight="bold" font-size="17.5">2.00</text>
<text x="644.5" y="159.3" font-family="Liberation Sans" font-weight="bold" font-size="17.5">1.75</text>
<text x="644.5" y="172.1" font-family="Liberation Sans" font-weight="bold" font-size="17.5">1.50</text>
<text x="644.5" y="184.9" font-family="Liberation Sans" font-weight="bold" font-size="17.5">1.25</text>
<text x="644.5" y="197.8" font-family="Liberation Sans" font-weight="bold" font-size="17.5">1.00</text>
<text x="644.5" y="210.6" font-family="Liberation Sans" font-weight="bold" font-size="17.5">0.75</text>
<text x="644.5" y="223.4" font-family="Liberation Sans" font-weight="bold" font-size="17.5">0.50</text>
<text x="644.5" y="236.2" font-family="Liberation Sans" font-weight="bold" font-size="17.5">0.25</text>
<text x="644.5" y="249.0" font-family="Liberation Sans" font-weight="bold" font-size="17.5">0</text>
<text x="389" y="78.2" font-family="Liberation Sans" font-weight="bold" font-size="17" text-anchor="end">2</text>
<text x="389" y="133.2" font-family="Liberation Sans" font-weight="bold" font-size="17" text-anchor="end">1</text>
<text x="389" y="188.2" font-family="Liberation Sans" font-weight="bold" font-size="17" text-anchor="end">0</text>
<text x="389" y="243.2" font-family="Liberation Sans" font-weight="bold" font-size="17" text-anchor="end">−1</text>
<text x="389" y="298.2" font-family="Liberation Sans" font-weight="bold" font-size="17" text-anchor="end">−2</text>
<text x="396.3" y="314.3" font-family="Liberation Sans" font-weight="bold" font-size="17" text-anchor="middle">−2</text>
<text x="451.4" y="314.3" font-family="Liberation Sans" font-weight="bold" font-size="17" text-anchor="middle">−1</text>
<text x="506.5" y="314.3" font-family="Liberation Sans" font-weight="bold" font-size="17" text-anchor="middle">0</text>
<text x="561.6" y="314.3" font-family="Liberation Sans" font-weight="bold" font-size="17" text-anchor="middle">1</text>
<text x="616.7" y="314.3" font-family="Liberation Sans" font-weight="bold" font-size="17" text-anchor="middle">2</text>
<clipPath id="p3clip"><rect x="29.0" y="376.4" width="226.9" height="226.4"/></clipPath>
<defs><linearGradient id="halo" x1="0" y1="0" x2="0" y2="1"><stop offset="0" stop-color="#8ec38a" stop-opacity="0"/><stop offset="0.5" stop-color="#80c098" stop-opacity="0.85"/><stop offset="1" stop-color="#8ec38a" stop-opacity="0"/></linearGradient>
<filter id="bl1" x="-20%" y="-50%" width="140%" height="200%"><feGaussianBlur stdDeviation="1.0"/></filter></defs>
<g clip-path="url(#p3clip)">
<rect x="29.0" y="376.4" width="226.9" height="226.4" fill="#a6c04e"/>
<rect x="22.6" y="367.0" width="48.2" height="18" fill="url(#halo)"/>
<rect x="62.0" y="369.5" width="75.0" height="18" fill="url(#halo)"/>
<rect x="144.0" y="375.5" width="76.0" height="18" fill="url(#halo)"/>
<rect x="212.7" y="375.5" width="51.3" height="18" fill="url(#halo)"/>
<rect x="22.6" y="399.9" width="65.4" height="18" fill="url(#halo)"/>
<rect x="80.6" y="399.9" width="55.6" height="18" fill="url(#halo)"/>
<rect x="125.0" y="400.5" width="66.0" height="18" fill="url(#halo)"/>
<rect x="204.0" y="407.4" width="56.5" height="18" fill="url(#halo)"/>
<rect x="22.6" y="423.6" width="46.4" height="18" fill="url(#halo)"/>
<rect x="85.0" y="432.0" width="66.0" height="18" fill="url(#halo)"/>
<rect x="144.4" y="432.2" width="52.8" height="18" fill="url(#halo)"/>
<rect x="189.0" y="432.2" width="71.5" height="18" fill="url(#halo)"/>
<rect x="22.6" y="455.7" width="41.0" height="18" fill="url(#halo)"/>
<rect x="56.0" y="455.7" width="80.0" height="18" fill="url(#halo)"/>
<rect x="132.0" y="464.3" width="82.0" height="18" fill="url(#halo)"/>
<rect x="207.7" y="464.3" width="53.1" height="18" fill="url(#halo)"/>
<rect x="22.6" y="488.9" width="56.7" height="18" fill="url(#halo)"/>
<rect x="73.0" y="488.9" width="56.6" height="18" fill="url(#halo)"/>
<rect x="122.0" y="488.9" width="64.0" height="18" fill="url(#halo)"/>
<rect x="209.0" y="496.5" width="51.5" height="18" fill="url(#halo)"/>
<rect x="22.6" y="513.0" width="27.4" height="18" fill="url(#halo)"/>
<rect x="76.0" y="521.0" width="68.7" height="18" fill="url(#halo)"/>
<rect x="136.8" y="521.1" width="55.6" height="18" fill="url(#halo)"/>
<rect x="183.0" y="521.1" width="77.5" height="18" fill="url(#halo)"/>
<rect x="22.6" y="545.8" width="34.9" height="18" fill="url(#halo)"/>
<rect x="50.3" y="545.8" width="95.7" height="18" fill="url(#halo)"/>
<rect x="134.0" y="553.7" width="74.6" height="18" fill="url(#halo)"/>
<rect x="201.3" y="553.7" width="52.7" height="18" fill="url(#halo)"/>
<rect x="22.6" y="379.4" width="28.4" height="18" fill="url(#halo)"/>
<rect x="22.6" y="557.9" width="19.4" height="18" fill="url(#halo)"/>
<rect x="22.6" y="578.4" width="48.2" height="18" fill="url(#halo)"/>
<rect x="66.4" y="578.4" width="54.6" height="18" fill="url(#halo)"/>
<rect x="113.8" y="578.4" width="72.2" height="18" fill="url(#halo)"/>
<rect x="206.0" y="586.0" width="54.5" height="18" fill="url(#halo)"/>
<rect x="30.5" y="385.9" width="5" height="5" fill="#8cc28c"/>
<rect x="38.6" y="385.9" width="5" height="5" fill="#8cc28c"/>
<rect x="46.8" y="385.9" width="5" height="5" fill="#8cc28c"/>
<rect x="54.8" y="385.9" width="5" height="5" fill="#8cc28c"/>
<rect x="62.9" y="385.9" width="5" height="5" fill="#8cc28c"/>
<rect x="71.0" y="385.9" width="5" height="5" fill="#8cc28c"/>
<rect x="79.1" y="385.9" width="5" height="5" fill="#8cc28c"/>
<rect x="87.2" y="385.9" width="5" height="5" fill="#8cc28c"/>
<rect x="95.3" y="385.9" width="5" height="5" fill="#8cc28c"/>
<rect x="103.4" y="385.9" width="5" height="5" fill="#8cc28c"/>
<rect x="111.5" y="385.9" width="5" height="5" fill="#8cc28c"/>
<rect x="119.6" y="385.9" width="5" height="5" fill="#8cc28c"/>
<rect x="127.8" y="385.9" width="5" height="5" fill="#8cc28c"/>
<rect x="135.8" y="385.9" width="5" height="5" fill="#8cc28c"/>
<rect x="143.9" y="385.9" width="5" height="5" fill="#8cc28c"/>
<rect x="152.1" y="385.9" width="5" height="5" fill="#8cc28c"/>
<rect x="160.1" y="385.9" width="5" height="5" fill="#8cc28c"/>
<rect x="168.2" y="385.9" width="5" height="5" fill="#8cc28c"/>
<rect x="176.3" y="385.9" width="5" height="5" fill="#8cc28c"/>
<rect x="184.4" y="385.9" width="5" height="5" fill="#8cc28c"/>
<rect x="192.6" y="385.9" width="5" height="5" fill="#8cc28c"/>
<rect x="200.6" y="385.9" width="5" height="5" fill="#8cc28c"/>
<rect x="208.8" y="385.9" width="5" height="5" fill="#8cc28c"/>
<rect x="216.8" y="385.9" width="5" height="5" fill="#8cc28c"/>
<rect x="224.9" y="385.9" width="5" height="5" fill="#8cc28c"/>
<rect x="233.1" y="385.9" width="5" height="5" fill="#8cc28c"/>
<rect x="241.1" y="385.9" width="5" height="5" fill="#8cc28c"/>
<rect x="249.2" y="385.9" width="5" height="5" fill="#8cc28c"/>
<rect x="30.5" y="394.0" width="5" height="5" fill="#8cc28c"/>
<rect x="38.6" y="394.0" width="5" height="5" fill="#93bf72"/>
<rect x="46.8" y="394.0" width="5" height="5" fill="#88bd83"/>
<rect x="54.8" y="394.0" width="5" height="5" fill="#7dbb93"/>
<rect x="62.9" y="394.0" width="5" height="5" fill="#72b7a3"/>
<rect x="71.0" y="394.0" width="5" height="5" fill="#62aeaf"/>
<rect x="79.1" y="394.0" width="5" height="5" fill="#53a5ba"/>
<rect x="87.2" y="394.0" width="5" height="5" fill="#4798c5"/>
<rect x="95.3" y="394.0" width="5" height="5" fill="#4381cc"/>
<rect x="103.4" y="394.0" width="5" height="5" fill="#3f6bd3"/>
<rect x="111.5" y="394.0" width="5" height="5" fill="#4156d0"/>
<rect x="119.6" y="394.0" width="5" height="5" fill="#4842c4"/>
<rect x="127.8" y="394.0" width="5" height="5" fill="#502fb8"/>
<rect x="135.8" y="394.0" width="5" height="5" fill="#5c2caa"/>
<rect x="143.9" y="394.0" width="5" height="5" fill="#68299c"/>
<rect x="200.6" y="394.0" width="5" height="5" fill="#612ba4"/>
<rect x="208.8" y="394.0" width="5" height="5" fill="#552eb2"/>
<rect x="216.8" y="394.0" width="5" height="5" fill="#4c3abf"/>
<rect x="224.9" y="394.0" width="5" height="5" fill="#444dcb"/>
<rect x="233.1" y="394.0" width="5" height="5" fill="#3e61d6"/>
<rect x="241.1" y="394.0" width="5" height="5" fill="#4178cf"/>
<rect x="249.2" y="394.0" width="5" height="5" fill="#458ec8"/>
<rect x="159.4" y="393.3" width="6.4" height="6.4" fill="#fff" stroke="#d0b0a0" stroke-width="0.5"/>
<rect x="167.5" y="393.3" width="6.4" height="6.4" fill="#fff" stroke="#d0b0a0" stroke-width="0.5"/>
<rect x="175.6" y="393.3" width="6.4" height="6.4" fill="#fff" stroke="#d0b0a0" stroke-width="0.5"/>
<rect x="183.7" y="393.3" width="6.4" height="6.4" fill="#fff" stroke="#d0b0a0" stroke-width="0.5"/>
<rect x="151.3" y="393.8" width="5.4" height="5.4" fill="#dc3c1c"/>
<rect x="192.3" y="393.8" width="5.4" height="5.4" fill="#e8a040"/>
<rect x="62.9" y="418.3" width="5" height="5" fill="#652a9f"/>
<rect x="71.0" y="418.3" width="5" height="5" fill="#592dad"/>
<rect x="79.1" y="418.3" width="5" height="5" fill="#4e33bb"/>
<rect x="87.2" y="418.3" width="5" height="5" fill="#4747c7"/>
<rect x="95.3" y="418.3" width="5" height="5" fill="#3f5ad3"/>
<rect x="103.4" y="418.3" width="5" height="5" fill="#4070d1"/>
<rect x="111.5" y="418.3" width="5" height="5" fill="#4487ca"/>
<rect x="119.6" y="418.3" width="5" height="5" fill="#479dc4"/>
<rect x="127.8" y="418.3" width="5" height="5" fill="#57a7b8"/>
<rect x="135.8" y="418.3" width="5" height="5" fill="#66b0ac"/>
<rect x="143.9" y="418.3" width="5" height="5" fill="#75b9a0"/>
<rect x="152.1" y="418.3" width="5" height="5" fill="#80bb8f"/>
<rect x="160.1" y="418.3" width="5" height="5" fill="#8abd7f"/>
<rect x="168.2" y="418.3" width="5" height="5" fill="#95bf6e"/>
<rect x="176.3" y="418.3" width="5" height="5" fill="#8cc28c"/>
<rect x="184.4" y="418.3" width="5" height="5" fill="#8cc28c"/>
<rect x="192.6" y="418.3" width="5" height="5" fill="#8cc28c"/>
<rect x="200.6" y="418.3" width="5" height="5" fill="#8cc28c"/>
<rect x="208.8" y="418.3" width="5" height="5" fill="#8cc28c"/>
<rect x="216.8" y="418.3" width="5" height="5" fill="#8cc28c"/>
<rect x="224.9" y="418.3" width="5" height="5" fill="#8cc28c"/>
<rect x="233.1" y="418.3" width="5" height="5" fill="#8cc28c"/>
<rect x="241.1" y="418.3" width="5" height="5" fill="#8cc28c"/>
<rect x="249.2" y="418.3" width="5" height="5" fill="#8cc28c"/>
<rect x="29.8" y="417.6" width="6.4" height="6.4" fill="#fff" stroke="#d0b0a0" stroke-width="0.5"/>
<rect x="37.9" y="417.6" width="6.4" height="6.4" fill="#fff" stroke="#d0b0a0" stroke-width="0.5"/>
<rect x="46.0" y="417.6" width="6.4" height="6.4" fill="#fff" stroke="#d0b0a0" stroke-width="0.5"/>
<rect x="54.2" y="418.0" width="5.6" height="5.6" fill="#fff" stroke="#d84a20" stroke-width="1.6"/>
<rect x="30.5" y="426.3" width="5" height="5" fill="#8cc28c"/>
<rect x="38.6" y="426.3" width="5" height="5" fill="#8cc28c"/>
<rect x="46.8" y="426.3" width="5" height="5" fill="#8cc28c"/>
<rect x="54.8" y="426.3" width="5" height="5" fill="#8cc28c"/>
<rect x="62.9" y="426.3" width="5" height="5" fill="#8cc28c"/>
<rect x="71.0" y="426.3" width="5" height="5" fill="#8cc28c"/>
<rect x="79.1" y="426.3" width="5" height="5" fill="#8cc28c"/>
<rect x="87.2" y="426.3" width="5" height="5" fill="#8cc28c"/>
<rect x="95.3" y="426.3" width="5" height="5" fill="#8cc28c"/>
<rect x="103.4" y="426.3" width="5" height="5" fill="#93bf72"/>
<rect x="111.5" y="426.3" width="5" height="5" fill="#88bd82"/>
<rect x="119.6" y="426.3" width="5" height="5" fill="#7ebb93"/>
<rect x="127.8" y="426.3" width="5" height="5" fill="#72b7a2"/>
<rect x="135.8" y="426.3" width="5" height="5" fill="#63aeae"/>
<rect x="143.9" y="426.3" width="5" height="5" fill="#53a5ba"/>
<rect x="152.1" y="426.3" width="5" height="5" fill="#4799c5"/>
<rect x="160.1" y="426.3" width="5" height="5" fill="#4382cc"/>
<rect x="168.2" y="426.3" width="5" height="5" fill="#3f6bd3"/>
<rect x="176.3" y="426.3" width="5" height="5" fill="#4156d1"/>
<rect x="184.4" y="426.3" width="5" height="5" fill="#4843c5"/>
<rect x="192.6" y="426.3" width="5" height="5" fill="#502fb8"/>
<rect x="200.6" y="426.3" width="5" height="5" fill="#5c2caa"/>
<rect x="208.8" y="426.3" width="5" height="5" fill="#68299c"/>
<rect x="224.2" y="425.6" width="6.4" height="6.4" fill="#fff" stroke="#d0b0a0" stroke-width="0.5"/>
<rect x="232.3" y="425.6" width="6.4" height="6.4" fill="#fff" stroke="#d0b0a0" stroke-width="0.5"/>
<rect x="240.4" y="425.6" width="6.4" height="6.4" fill="#fff" stroke="#d0b0a0" stroke-width="0.5"/>
<rect x="248.5" y="425.6" width="6.4" height="6.4" fill="#fff" stroke="#d0b0a0" stroke-width="0.5"/>
<rect x="216.8" y="426.0" width="5.6" height="5.6" fill="#fff" stroke="#d84a20" stroke-width="1.6"/>
<rect x="30.5" y="450.7" width="5" height="5" fill="#4278cf"/>
<rect x="38.6" y="450.7" width="5" height="5" fill="#3e62d6"/>
<rect x="46.8" y="450.7" width="5" height="5" fill="#444ecc"/>
<rect x="54.8" y="450.7" width="5" height="5" fill="#4b3bbf"/>
<rect x="62.9" y="450.7" width="5" height="5" fill="#552eb2"/>
<rect x="71.0" y="450.7" width="5" height="5" fill="#612ba4"/>
<rect x="79.1" y="450.7" width="5" height="5" fill="#6d2896"/>
<rect x="119.6" y="450.7" width="5" height="5" fill="#6d2896"/>
<rect x="127.8" y="450.7" width="5" height="5" fill="#612ba4"/>
<rect x="135.8" y="450.7" width="5" height="5" fill="#552eb2"/>
<rect x="143.9" y="450.7" width="5" height="5" fill="#4b3abf"/>
<rect x="152.1" y="450.7" width="5" height="5" fill="#444ecb"/>
<rect x="160.1" y="450.7" width="5" height="5" fill="#3e61d6"/>
<rect x="168.2" y="450.7" width="5" height="5" fill="#4178cf"/>
<rect x="176.3" y="450.7" width="5" height="5" fill="#458fc8"/>
<rect x="184.4" y="450.7" width="5" height="5" fill="#4da1bf"/>
<rect x="192.6" y="450.7" width="5" height="5" fill="#5caab4"/>
<rect x="200.6" y="450.7" width="5" height="5" fill="#6bb3a8"/>
<rect x="208.8" y="450.7" width="5" height="5" fill="#79ba9a"/>
<rect x="216.8" y="450.7" width="5" height="5" fill="#83bc8a"/>
<rect x="224.9" y="450.7" width="5" height="5" fill="#8ebe79"/>
<rect x="233.1" y="450.7" width="5" height="5" fill="#8cc28c"/>
<rect x="241.1" y="450.7" width="5" height="5" fill="#8cc28c"/>
<rect x="249.2" y="450.7" width="5" height="5" fill="#8cc28c"/>
<rect x="86.5" y="450.0" width="6.4" height="6.4" fill="#fff" stroke="#d0b0a0" stroke-width="0.5"/>
<rect x="94.6" y="450.0" width="6.4" height="6.4" fill="#fff" stroke="#d0b0a0" stroke-width="0.5"/>
<rect x="102.7" y="450.0" width="6.4" height="6.4" fill="#fff" stroke="#d0b0a0" stroke-width="0.5"/>
<rect x="83.7" y="450.4" width="5.6" height="5.6" fill="#fff" stroke="#d84a20" stroke-width="1.6"/>
<rect x="114.7" y="450.4" width="5.6" height="5.6" fill="#fff" stroke="#d84a20" stroke-width="1.6"/>
<rect x="30.5" y="458.5" width="5" height="5" fill="#8cc28c"/>
<rect x="38.6" y="458.5" width="5" height="5" fill="#8cc28c"/>
<rect x="46.8" y="458.5" width="5" height="5" fill="#8cc28c"/>
<rect x="54.8" y="458.5" width="5" height="5" fill="#8cc28c"/>
<rect x="62.9" y="458.5" width="5" height="5" fill="#8cc28c"/>
<rect x="71.0" y="458.5" width="5" height="5" fill="#8cc28c"/>
<rect x="79.1" y="458.5" width="5" height="5" fill="#8cc28c"/>
<rect x="87.2" y="458.5" width="5" height="5" fill="#8cc28c"/>
<rect x="95.3" y="458.5" width="5" height="5" fill="#8cc28c"/>
<rect x="103.4" y="458.5" width="5" height="5" fill="#8cc28c"/>
<rect x="111.5" y="458.5" width="5" height="5" fill="#8cc28c"/>
<rect x="119.6" y="458.5" width="5" height="5" fill="#8cc28c"/>
<rect x="127.8" y="458.5" width="5" height="5" fill="#8cc28c"/>
<rect x="135.8" y="458.5" width="5" height="5" fill="#8cc28c"/>
<rect x="143.9" y="458.5" width="5" height="5" fill="#8cc28c"/>
<rect x="152.1" y="458.5" width="5" height="5" fill="#8bbe7d"/>
<rect x="160.1" y="458.5" width="5" height="5" fill="#81bc8e"/>
<rect x="168.2" y="458.5" width="5" height="5" fill="#76ba9e"/>
<rect x="176.3" y="458.5" width="5" height="5" fill="#67b1ab"/>
<rect x="184.4" y="458.5" width="5" height="5" fill="#58a8b6"/>
<rect x="192.6" y="458.5" width="5" height="5" fill="#499ec2"/>
<rect x="200.6" y="458.5" width="5" height="5" fill="#4489ca"/>
<rect x="208.8" y="458.5" width="5" height="5" fill="#4172d1"/>
<rect x="216.8" y="458.5" width="5" height="5" fill="#3f5cd4"/>
<rect x="224.9" y="458.5" width="5" height="5" fill="#4649c8"/>
<rect x="233.1" y="458.5" width="5" height="5" fill="#4d35bc"/>
<rect x="241.1" y="458.5" width="5" height="5" fill="#582daf"/>
<rect x="249.2" y="458.5" width="5" height="5" fill="#642aa0"/>
<rect x="30.5" y="475.2" width="5" height="5" fill="#8cc28c"/>
<rect x="38.6" y="475.2" width="5" height="5" fill="#8cc28c"/>
<rect x="46.8" y="475.2" width="5" height="5" fill="#8cc28c"/>
<rect x="54.8" y="475.2" width="5" height="5" fill="#8cc28c"/>
<rect x="62.9" y="475.2" width="5" height="5" fill="#8cc28c"/>
<rect x="71.0" y="475.2" width="5" height="5" fill="#8cc28c"/>
<rect x="79.1" y="475.2" width="5" height="5" fill="#8cc28c"/>
<rect x="87.2" y="475.2" width="5" height="5" fill="#8cc28c"/>
<rect x="95.3" y="475.2" width="5" height="5" fill="#8cc28c"/>
<rect x="103.4" y="475.2" width="5" height="5" fill="#8cc28c"/>
<rect x="111.5" y="475.2" width="5" height="5" fill="#8cc28c"/>
<rect x="119.6" y="475.2" width="5" height="5" fill="#8cc28c"/>
<rect x="127.8" y="475.2" width="5" height="5" fill="#8cc28c"/>
<rect x="135.8" y="475.2" width="5" height="5" fill="#8cc28c"/>
<rect x="143.9" y="475.2" width="5" height="5" fill="#8cc28c"/>
<rect x="152.1" y="475.2" width="5" height="5" fill="#8cc28c"/>
<rect x="160.1" y="475.2" width="5" height="5" fill="#8cc28c"/>
<rect x="168.2" y="475.2" width="5" height="5" fill="#8cc28c"/>
<rect x="176.3" y="475.2" width="5" height="5" fill="#8cc28c"/>
<rect x="184.4" y="475.2" width="5" height="5" fill="#8cc28c"/>
<rect x="192.6" y="475.2" width="5" height="5" fill="#8cc28c"/>
<rect x="200.6" y="475.2" width="5" height="5" fill="#8cc28c"/>
<rect x="208.8" y="475.2" width="5" height="5" fill="#8cc28c"/>
<rect x="216.8" y="475.2" width="5" height="5" fill="#8cc28c"/>
<rect x="224.9" y="475.2" width="5" height="5" fill="#8cc28c"/>
<rect x="233.1" y="475.2" width="5" height="5" fill="#8cc28c"/>
<rect x="241.1" y="475.2" width="5" height="5" fill="#8cc28c"/>
<rect x="249.2" y="475.2" width="5" height="5" fill="#8cc28c"/>
<rect x="30.5" y="483.1" width="5" height="5" fill="#90be76"/>
<rect x="38.6" y="483.1" width="5" height="5" fill="#85bc87"/>
<rect x="46.8" y="483.1" width="5" height="5" fill="#7bbb97"/>
<rect x="54.8" y="483.1" width="5" height="5" fill="#6eb5a5"/>
<rect x="62.9" y="483.1" width="5" height="5" fill="#5facb1"/>
<rect x="71.0" y="483.1" width="5" height="5" fill="#4fa2bd"/>
<rect x="79.1" y="483.1" width="5" height="5" fill="#4693c7"/>
<rect x="87.2" y="483.1" width="5" height="5" fill="#427cce"/>
<rect x="95.3" y="483.1" width="5" height="5" fill="#3e65d5"/>
<rect x="103.4" y="483.1" width="5" height="5" fill="#4351ce"/>
<rect x="111.5" y="483.1" width="5" height="5" fill="#4a3ec1"/>
<rect x="119.6" y="483.1" width="5" height="5" fill="#532fb5"/>
<rect x="127.8" y="483.1" width="5" height="5" fill="#5f2ba7"/>
<rect x="135.8" y="483.1" width="5" height="5" fill="#6b2898"/>
<rect x="192.6" y="483.1" width="5" height="5" fill="#662a9e"/>
<rect x="200.6" y="483.1" width="5" height="5" fill="#5a2dad"/>
<rect x="208.8" y="483.1" width="5" height="5" fill="#4e33ba"/>
<rect x="216.8" y="483.1" width="5" height="5" fill="#4746c7"/>
<rect x="224.9" y="483.1" width="5" height="5" fill="#4059d3"/>
<rect x="233.1" y="483.1" width="5" height="5" fill="#406fd2"/>
<rect x="241.1" y="483.1" width="5" height="5" fill="#4486cb"/>
<rect x="249.2" y="483.1" width="5" height="5" fill="#479cc4"/>
<rect x="151.4" y="482.4" width="6.4" height="6.4" fill="#fff" stroke="#d0b0a0" stroke-width="0.5"/>
<rect x="159.5" y="482.4" width="6.4" height="6.4" fill="#fff" stroke="#d0b0a0" stroke-width="0.5"/>
<rect x="167.6" y="482.4" width="6.4" height="6.4" fill="#fff" stroke="#d0b0a0" stroke-width="0.5"/>
<rect x="175.7" y="482.4" width="6.4" height="6.4" fill="#fff" stroke="#d0b0a0" stroke-width="0.5"/>
<rect x="142.3" y="482.9" width="5.4" height="5.4" fill="#e8a040"/>
<rect x="183.7" y="482.9" width="5.4" height="5.4" fill="#dc3c1c"/>
<rect x="54.8" y="507.5" width="5" height="5" fill="#6a289a"/>
<rect x="62.9" y="507.5" width="5" height="5" fill="#5e2ca8"/>
<rect x="71.0" y="507.5" width="5" height="5" fill="#522fb6"/>
<rect x="79.1" y="507.5" width="5" height="5" fill="#4a3fc2"/>
<rect x="87.2" y="507.5" width="5" height="5" fill="#4253cf"/>
<rect x="95.3" y="507.5" width="5" height="5" fill="#3f67d4"/>
<rect x="103.4" y="507.5" width="5" height="5" fill="#427ecd"/>
<rect x="111.5" y="507.5" width="5" height="5" fill="#4695c6"/>
<rect x="119.6" y="507.5" width="5" height="5" fill="#51a3bc"/>
<rect x="127.8" y="507.5" width="5" height="5" fill="#60acb0"/>
<rect x="135.8" y="507.5" width="5" height="5" fill="#6fb6a4"/>
<rect x="143.9" y="507.5" width="5" height="5" fill="#7cbb96"/>
<rect x="152.1" y="507.5" width="5" height="5" fill="#86bd85"/>
<rect x="160.1" y="507.5" width="5" height="5" fill="#91bf75"/>
<rect x="168.2" y="507.5" width="5" height="5" fill="#8cc28c"/>
<rect x="176.3" y="507.5" width="5" height="5" fill="#8cc28c"/>
<rect x="184.4" y="507.5" width="5" height="5" fill="#8cc28c"/>
<rect x="192.6" y="507.5" width="5" height="5" fill="#8cc28c"/>
<rect x="200.6" y="507.5" width="5" height="5" fill="#8cc28c"/>
<rect x="208.8" y="507.5" width="5" height="5" fill="#8cc28c"/>
<rect x="216.8" y="507.5" width="5" height="5" fill="#8cc28c"/>
<rect x="224.9" y="507.5" width="5" height="5" fill="#8cc28c"/>
<rect x="233.1" y="507.5" width="5" height="5" fill="#8cc28c"/>
<rect x="241.1" y="507.5" width="5" height="5" fill="#8cc28c"/>
<rect x="249.2" y="507.5" width="5" height="5" fill="#8cc28c"/>
<rect x="29.8" y="506.8" width="6.4" height="6.4" fill="#fff" stroke="#d0b0a0" stroke-width="0.5"/>
<rect x="37.9" y="506.8" width="6.4" height="6.4" fill="#fff" stroke="#d0b0a0" stroke-width="0.5"/>
<rect x="46.2" y="507.2" width="5.6" height="5.6" fill="#fff" stroke="#d84a20" stroke-width="1.6"/>
<rect x="30.5" y="515.7" width="5" height="5" fill="#8cc28c"/>
<rect x="38.6" y="515.7" width="5" height="5" fill="#8cc28c"/>
<rect x="46.8" y="515.7" width="5" height="5" fill="#8cc28c"/>
<rect x="54.8" y="515.7" width="5" height="5" fill="#8cc28c"/>
<rect x="62.9" y="515.7" width="5" height="5" fill="#8cc28c"/>
<rect x="71.0" y="515.7" width="5" height="5" fill="#8cc28c"/>
<rect x="79.1" y="515.7" width="5" height="5" fill="#8cc28c"/>
<rect x="87.2" y="515.7" width="5" height="5" fill="#8cc28c"/>
<rect x="95.3" y="515.7" width="5" height="5" fill="#90bf76"/>
<rect x="103.4" y="515.7" width="5" height="5" fill="#86bd86"/>
<rect x="111.5" y="515.7" width="5" height="5" fill="#7bbb97"/>
<rect x="119.6" y="515.7" width="5" height="5" fill="#6eb5a5"/>
<rect x="127.8" y="515.7" width="5" height="5" fill="#5facb1"/>
<rect x="135.8" y="515.7" width="5" height="5" fill="#50a3bd"/>
<rect x="143.9" y="515.7" width="5" height="5" fill="#4693c7"/>
<rect x="152.1" y="515.7" width="5" height="5" fill="#427dce"/>
<rect x="160.1" y="515.7" width="5" height="5" fill="#3f66d4"/>
<rect x="168.2" y="515.7" width="5" height="5" fill="#4352ce"/>
<rect x="176.3" y="515.7" width="5" height="5" fill="#4a3ec2"/>
<rect x="184.4" y="515.7" width="5" height="5" fill="#522fb5"/>
<rect x="192.6" y="515.7" width="5" height="5" fill="#5f2ba7"/>
<rect x="200.6" y="515.7" width="5" height="5" fill="#6b2899"/>
<rect x="216.1" y="515.0" width="6.4" height="6.4" fill="#fff" stroke="#d0b0a0" stroke-width="0.5"/>
<rect x="224.2" y="515.0" width="6.4" height="6.4" fill="#fff" stroke="#d0b0a0" stroke-width="0.5"/>
<rect x="232.3" y="515.0" width="6.4" height="6.4" fill="#fff" stroke="#d0b0a0" stroke-width="0.5"/>
<rect x="240.4" y="515.0" width="6.4" height="6.4" fill="#fff" stroke="#d0b0a0" stroke-width="0.5"/>
<rect x="208.3" y="515.5" width="5.4" height="5.4" fill="#dc3c1c"/>
<rect x="249.3" y="515.5" width="5.4" height="5.4" fill="#e8a040"/>
<rect x="30.5" y="539.8" width="5" height="5" fill="#3e65d5"/>
<rect x="38.6" y="539.8" width="5" height="5" fill="#4351cd"/>
<rect x="46.8" y="539.8" width="5" height="5" fill="#4a3dc1"/>
<rect x="54.8" y="539.8" width="5" height="5" fill="#532fb4"/>
<rect x="62.9" y="539.8" width="5" height="5" fill="#5f2ba6"/>
<rect x="71.0" y="539.8" width="5" height="5" fill="#6b2898"/>
<rect x="119.6" y="539.8" width="5" height="5" fill="#6d2896"/>
<rect x="127.8" y="539.8" width="5" height="5" fill="#612ba4"/>
<rect x="135.8" y="539.8" width="5" height="5" fill="#552eb2"/>
<rect x="143.9" y="539.8" width="5" height="5" fill="#4b3abf"/>
<rect x="152.1" y="539.8" width="5" height="5" fill="#444ecb"/>
<rect x="160.1" y="539.8" width="5" height="5" fill="#3e61d6"/>
<rect x="168.2" y="539.8" width="5" height="5" fill="#4178cf"/>
<rect x="176.3" y="539.8" width="5" height="5" fill="#458fc8"/>
<rect x="184.4" y="539.8" width="5" height="5" fill="#4da1bf"/>
<rect x="192.6" y="539.8" width="5" height="5" fill="#5caab4"/>
<rect x="200.6" y="539.8" width="5" height="5" fill="#6bb3a8"/>
<rect x="208.8" y="539.8" width="5" height="5" fill="#79ba9a"/>
<rect x="216.8" y="539.8" width="5" height="5" fill="#83bc8a"/>
<rect x="224.9" y="539.8" width="5" height="5" fill="#8ebe79"/>
<rect x="233.1" y="539.8" width="5" height="5" fill="#8cc28c"/>
<rect x="241.1" y="539.8" width="5" height="5" fill="#8cc28c"/>
<rect x="249.2" y="539.8" width="5" height="5" fill="#8cc28c"/>
<rect x="78.4" y="539.1" width="6.4" height="6.4" fill="#fff" stroke="#d0b0a0" stroke-width="0.5"/>
<rect x="86.5" y="539.1" width="6.4" height="6.4" fill="#fff" stroke="#d0b0a0" stroke-width="0.5"/>
<rect x="94.6" y="539.1" width="6.4" height="6.4" fill="#fff" stroke="#d0b0a0" stroke-width="0.5"/>
<rect x="102.7" y="539.1" width="6.4" height="6.4" fill="#fff" stroke="#d0b0a0" stroke-width="0.5"/>
<rect x="77.2" y="539.5" width="5.6" height="5.6" fill="#fff" stroke="#d84a20" stroke-width="1.6"/>
<rect x="114.2" y="539.5" width="5.6" height="5.6" fill="#fff" stroke="#d84a20" stroke-width="1.6"/>
<rect x="30.5" y="547.9" width="5" height="5" fill="#8cc28c"/>
<rect x="38.6" y="547.9" width="5" height="5" fill="#8cc28c"/>
<rect x="46.8" y="547.9" width="5" height="5" fill="#8cc28c"/>
<rect x="54.8" y="547.9" width="5" height="5" fill="#8cc28c"/>
<rect x="62.9" y="547.9" width="5" height="5" fill="#8cc28c"/>
<rect x="71.0" y="547.9" width="5" height="5" fill="#8cc28c"/>
<rect x="79.1" y="547.9" width="5" height="5" fill="#8cc28c"/>
<rect x="87.2" y="547.9" width="5" height="5" fill="#8cc28c"/>
<rect x="95.3" y="547.9" width="5" height="5" fill="#8cc28c"/>
<rect x="103.4" y="547.9" width="5" height="5" fill="#8cc28c"/>
<rect x="111.5" y="547.9" width="5" height="5" fill="#8cc28c"/>
<rect x="119.6" y="547.9" width="5" height="5" fill="#8cc28c"/>
<rect x="127.8" y="547.9" width="5" height="5" fill="#8cc28c"/>
<rect x="135.8" y="547.9" width="5" height="5" fill="#8cc28c"/>
<rect x="143.9" y="547.9" width="5" height="5" fill="#8cc28c"/>
<rect x="152.1" y="547.9" width="5" height="5" fill="#8bbe7d"/>
<rect x="160.1" y="547.9" width="5" height="5" fill="#81bc8e"/>
<rect x="168.2" y="547.9" width="5" height="5" fill="#76ba9e"/>
<rect x="176.3" y="547.9" width="5" height="5" fill="#67b1ab"/>
<rect x="184.4" y="547.9" width="5" height="5" fill="#58a8b6"/>
<rect x="192.6" y="547.9" width="5" height="5" fill="#499ec2"/>
<rect x="200.6" y="547.9" width="5" height="5" fill="#4489ca"/>
<rect x="208.8" y="547.9" width="5" height="5" fill="#4172d1"/>
<rect x="216.8" y="547.9" width="5" height="5" fill="#3f5cd4"/>
<rect x="224.9" y="547.9" width="5" height="5" fill="#4649c8"/>
<rect x="233.1" y="547.9" width="5" height="5" fill="#4d35bc"/>
<rect x="241.1" y="547.9" width="5" height="5" fill="#582daf"/>
<rect x="249.2" y="547.9" width="5" height="5" fill="#642aa0"/>
<rect x="30.5" y="564.4" width="5" height="5" fill="#8cc28c"/>
<rect x="38.6" y="564.4" width="5" height="5" fill="#8cc28c"/>
<rect x="46.8" y="564.4" width="5" height="5" fill="#8cc28c"/>
<rect x="54.8" y="564.4" width="5" height="5" fill="#8cc28c"/>
<rect x="62.9" y="564.4" width="5" height="5" fill="#8cc28c"/>
<rect x="71.0" y="564.4" width="5" height="5" fill="#8cc28c"/>
<rect x="79.1" y="564.4" width="5" height="5" fill="#8cc28c"/>
<rect x="87.2" y="564.4" width="5" height="5" fill="#8cc28c"/>
<rect x="95.3" y="564.4" width="5" height="5" fill="#8cc28c"/>
<rect x="103.4" y="564.4" width="5" height="5" fill="#8cc28c"/>
<rect x="111.5" y="564.4" width="5" height="5" fill="#8cc28c"/>
<rect x="119.6" y="564.4" width="5" height="5" fill="#8cc28c"/>
<rect x="127.8" y="564.4" width="5" height="5" fill="#8cc28c"/>
<rect x="135.8" y="564.4" width="5" height="5" fill="#8cc28c"/>
<rect x="143.9" y="564.4" width="5" height="5" fill="#8cc28c"/>
<rect x="152.1" y="564.4" width="5" height="5" fill="#8cc28c"/>
<rect x="160.1" y="564.4" width="5" height="5" fill="#8cc28c"/>
<rect x="168.2" y="564.4" width="5" height="5" fill="#8cc28c"/>
<rect x="176.3" y="564.4" width="5" height="5" fill="#8cc28c"/>
<rect x="184.4" y="564.4" width="5" height="5" fill="#8cc28c"/>
<rect x="192.6" y="564.4" width="5" height="5" fill="#8cc28c"/>
<rect x="200.6" y="564.4" width="5" height="5" fill="#8cc28c"/>
<rect x="208.8" y="564.4" width="5" height="5" fill="#8cc28c"/>
<rect x="216.8" y="564.4" width="5" height="5" fill="#8cc28c"/>
<rect x="224.9" y="564.4" width="5" height="5" fill="#8cc28c"/>
<rect x="233.1" y="564.4" width="5" height="5" fill="#8cc28c"/>
<rect x="241.1" y="564.4" width="5" height="5" fill="#8cc28c"/>
<rect x="249.2" y="564.4" width="5" height="5" fill="#8cc28c"/>
<rect x="30.5" y="572.5" width="5" height="5" fill="#8dbe7a"/>
<rect x="38.6" y="572.5" width="5" height="5" fill="#83bc8b"/>
<rect x="46.8" y="572.5" width="5" height="5" fill="#78ba9b"/>
<rect x="54.8" y="572.5" width="5" height="5" fill="#6ab3a8"/>
<rect x="62.9" y="572.5" width="5" height="5" fill="#5ba9b4"/>
<rect x="71.0" y="572.5" width="5" height="5" fill="#4ca0c0"/>
<rect x="79.1" y="572.5" width="5" height="5" fill="#458dc9"/>
<rect x="87.2" y="572.5" width="5" height="5" fill="#4177cf"/>
<rect x="95.3" y="572.5" width="5" height="5" fill="#3e60d6"/>
<rect x="103.4" y="572.5" width="5" height="5" fill="#454ccb"/>
<rect x="111.5" y="572.5" width="5" height="5" fill="#4c39be"/>
<rect x="119.6" y="572.5" width="5" height="5" fill="#562eb1"/>
<rect x="127.8" y="572.5" width="5" height="5" fill="#622ba3"/>
<rect x="135.8" y="572.5" width="5" height="5" fill="#6d2896"/>
<rect x="184.4" y="572.5" width="5" height="5" fill="#66299e"/>
<rect x="192.6" y="572.5" width="5" height="5" fill="#5a2dac"/>
<rect x="200.6" y="572.5" width="5" height="5" fill="#4e32ba"/>
<rect x="208.8" y="572.5" width="5" height="5" fill="#4746c6"/>
<rect x="216.8" y="572.5" width="5" height="5" fill="#4059d3"/>
<rect x="224.9" y="572.5" width="5" height="5" fill="#406fd2"/>
<rect x="233.1" y="572.5" width="5" height="5" fill="#4485cb"/>
<rect x="241.1" y="572.5" width="5" height="5" fill="#479cc4"/>
<rect x="249.2" y="572.5" width="5" height="5" fill="#56a6b8"/>
<rect x="143.2" y="571.8" width="6.4" height="6.4" fill="#fff" stroke="#d0b0a0" stroke-width="0.5"/>
<rect x="151.3" y="571.8" width="6.4" height="6.4" fill="#fff" stroke="#d0b0a0" stroke-width="0.5"/>
<rect x="159.4" y="571.8" width="6.4" height="6.4" fill="#fff" stroke="#d0b0a0" stroke-width="0.5"/>
<rect x="167.5" y="571.8" width="6.4" height="6.4" fill="#fff" stroke="#d0b0a0" stroke-width="0.5"/>
<rect x="140.2" y="572.2" width="5.6" height="5.6" fill="#fff" stroke="#d84a20" stroke-width="1.6"/>
<rect x="174.7" y="572.2" width="5.6" height="5.6" fill="#fff" stroke="#d84a20" stroke-width="1.6"/>
<rect x="46.8" y="596.2" width="5" height="5" fill="#67299d"/>
<rect x="54.8" y="596.2" width="5" height="5" fill="#5b2cab"/>
<rect x="62.9" y="596.2" width="5" height="5" fill="#4f31b9"/>
<rect x="71.0" y="596.2" width="5" height="5" fill="#4844c5"/>
<rect x="79.1" y="596.2" width="5" height="5" fill="#4157d1"/>
<rect x="87.2" y="596.2" width="5" height="5" fill="#406dd2"/>
<rect x="95.3" y="596.2" width="5" height="5" fill="#4383cc"/>
<rect x="103.4" y="596.2" width="5" height="5" fill="#479ac5"/>
<rect x="111.5" y="596.2" width="5" height="5" fill="#54a5b9"/>
<rect x="119.6" y="596.2" width="5" height="5" fill="#64afae"/>
<rect x="127.8" y="596.2" width="5" height="5" fill="#73b8a2"/>
<rect x="135.8" y="596.2" width="5" height="5" fill="#7ebb92"/>
<rect x="143.9" y="596.2" width="5" height="5" fill="#89bd81"/>
<rect x="152.1" y="596.2" width="5" height="5" fill="#93bf71"/>
<rect x="160.1" y="596.2" width="5" height="5" fill="#8cc28c"/>
<rect x="168.2" y="596.2" width="5" height="5" fill="#8cc28c"/>
<rect x="176.3" y="596.2" width="5" height="5" fill="#8cc28c"/>
<rect x="184.4" y="596.2" width="5" height="5" fill="#8cc28c"/>
<rect x="192.6" y="596.2" width="5" height="5" fill="#8cc28c"/>
<rect x="200.6" y="596.2" width="5" height="5" fill="#8cc28c"/>
<rect x="208.8" y="596.2" width="5" height="5" fill="#8cc28c"/>
<rect x="216.8" y="596.2" width="5" height="5" fill="#8cc28c"/>
<rect x="224.9" y="596.2" width="5" height="5" fill="#8cc28c"/>
<rect x="233.1" y="596.2" width="5" height="5" fill="#8cc28c"/>
<rect x="241.1" y="596.2" width="5" height="5" fill="#8cc28c"/>
<rect x="249.2" y="596.2" width="5" height="5" fill="#8cc28c"/>
<rect x="29.8" y="595.5" width="6.4" height="6.4" fill="#fff" stroke="#d0b0a0" stroke-width="0.5"/>
<rect x="37.7" y="595.9" width="5.6" height="5.6" fill="#fff" stroke="#d84a20" stroke-width="1.6"/>
<ellipse cx="65.8" cy="376.0" rx="3.2" ry="4.2" fill="#e0622a" filter="url(#bl1)"/>
<polygon points="27.6,376.0 33.6,372.7 37.1,368.8 40.5,372.7 41.8,372.7 45.2,368.8 48.6,372.7 49.9,372.7 53.3,368.8 56.7,372.7 57.9,372.7 61.4,368.8 64.8,372.7 65.8,376.0 65.8,376.0 64.8,379.3 61.4,383.2 57.9,379.3 56.7,379.3 53.3,383.2 49.9,379.3 48.6,379.3 45.2,383.2 41.8,379.3 40.5,379.3 37.1,383.2 33.6,379.3 27.6,376.0" fill="#fff" stroke="#c8643c" stroke-width="1.0"/>
<polygon points="65.2,376.8 69.5,372.5 73.8,376.8 73.8,380.2 69.5,384.5 65.2,380.2" fill="#6b2898"/>
<polygon points="73.2,376.8 77.6,372.5 81.9,376.8 81.9,380.2 77.6,384.5 73.2,380.2" fill="#5e2ca8"/>
<polygon points="81.3,376.8 85.7,372.5 90.0,376.8 90.0,380.2 85.7,384.5 81.3,380.2" fill="#502fb8"/>
<polygon points="89.5,376.8 93.8,372.5 98.1,376.8 98.1,380.2 93.8,384.5 89.5,380.2" fill="#4844c6"/>
<polygon points="97.5,376.8 101.9,372.5 106.2,376.8 106.2,380.2 101.9,384.5 97.5,380.2" fill="#405ad3"/>
<polygon points="105.7,376.8 110.0,372.5 114.3,376.8 114.3,380.2 110.0,384.5 105.7,380.2" fill="#4172d1"/>
<polygon points="113.8,376.8 118.1,373.5 122.4,376.8 122.4,380.2 118.1,383.5 113.8,380.2" fill="#458bc9"/>
<polygon points="121.8,376.8 126.2,373.5 130.6,376.8 130.6,380.2 126.2,383.5 121.8,380.2" fill="#4ca0c0"/>
<polygon points="146.1,382.8 150.5,379.5 154.9,382.8 154.9,386.2 150.5,389.5 146.1,386.2" fill="#57a7b7"/>
<polygon points="154.2,382.8 158.6,379.5 163.0,382.8 163.0,386.2 158.6,389.5 154.2,386.2" fill="#479cc4"/>
<polygon points="162.3,382.8 166.7,379.5 171.1,382.8 171.1,386.2 166.7,389.5 162.3,386.2" fill="#4383cc"/>
<polygon points="170.4,382.8 174.8,378.5 179.2,382.8 179.2,386.2 174.8,390.5 170.4,386.2" fill="#3f69d3"/>
<polygon points="178.5,382.8 182.9,378.5 187.2,382.8 187.2,386.2 182.9,390.5 178.5,386.2" fill="#4252ce"/>
<polygon points="186.6,382.8 191.0,378.5 195.4,382.8 195.4,386.2 191.0,390.5 186.6,386.2" fill="#4b3dc1"/>
<polygon points="194.7,382.8 199.1,378.5 203.4,382.8 203.4,386.2 199.1,390.5 194.7,386.2" fill="#552eb2"/>
<polygon points="202.8,382.8 207.2,378.5 211.6,382.8 211.6,386.2 207.2,390.5 202.8,386.2" fill="#622ba3"/>
<polygon points="210.9,382.8 215.3,378.5 219.7,382.8 219.7,386.2 215.3,390.5 210.9,386.2" fill="#702793"/>
<ellipse cx="217.7" cy="384.5" rx="3.2" ry="4.2" fill="#e0622a" filter="url(#bl1)"/>
<polygon points="217.7,384.5 219.9,381.2 223.4,377.3 226.8,381.2 228.0,381.2 231.5,377.3 235.0,381.2 236.1,381.2 239.6,377.3 243.0,381.2 244.2,381.2 247.7,377.3 251.2,381.2 252.3,381.2 255.8,377.3 259.2,381.2 259.0,384.5 259.0,384.5 259.2,387.8 255.8,391.7 252.3,387.8 251.2,387.8 247.7,391.7 244.2,387.8 243.0,387.8 239.6,391.7 236.1,387.8 235.0,387.8 231.5,391.7 228.0,387.8 226.8,387.8 223.4,391.7 219.9,387.8 217.7,384.5" fill="#fff" stroke="#c8643c" stroke-width="1.0"/>
<polygon points="24.6,407.2 29.0,403.9 33.3,407.2 33.3,410.6 29.0,413.9 24.6,410.6" fill="#4694c6"/>
<polygon points="32.8,407.2 37.1,402.9 41.4,407.2 41.4,410.6 37.1,414.9 32.8,410.6" fill="#427bce"/>
<polygon points="40.9,407.2 45.2,402.9 49.5,407.2 49.5,410.6 45.2,414.9 40.9,410.6" fill="#3e62d6"/>
<polygon points="49.0,407.2 53.3,402.9 57.6,407.2 57.6,410.6 53.3,414.9 49.0,410.6" fill="#454cca"/>
<polygon points="57.0,407.2 61.4,402.9 65.7,407.2 65.7,410.6 61.4,414.9 57.0,410.6" fill="#4d36bd"/>
<polygon points="65.2,407.2 69.5,402.9 73.8,407.2 73.8,410.6 69.5,414.9 65.2,410.6" fill="#592dae"/>
<polygon points="73.2,407.2 77.6,402.9 81.9,407.2 81.9,410.6 77.6,414.9 73.2,410.6" fill="#66299e"/>
<ellipse cx="131.2" cy="408.9" rx="3.2" ry="4.2" fill="#e0622a" filter="url(#bl1)"/>
<polygon points="85.6,408.9 90.3,405.6 93.8,401.7 97.2,405.6 98.4,405.6 101.9,401.7 105.3,405.6 106.5,405.6 110.0,401.7 113.5,405.6 114.6,405.6 118.1,401.7 121.5,405.6 122.7,405.6 126.2,401.7 129.7,405.6 131.2,408.9 131.2,408.9 129.7,412.2 126.2,416.1 122.7,412.2 121.5,412.2 118.1,416.1 114.6,412.2 113.5,412.2 110.0,416.1 106.5,412.2 105.3,412.2 101.9,416.1 98.4,412.2 97.2,412.2 93.8,416.1 90.3,412.2 85.6,408.9" fill="#fff" stroke="#c8643c" stroke-width="1.0"/>
<polygon points="129.9,407.8 134.3,403.5 138.7,407.8 138.7,411.2 134.3,415.5 129.9,411.2" fill="#68299c"/>
<polygon points="138.0,407.8 142.4,403.5 146.8,407.8 146.8,411.2 142.4,415.5 138.0,411.2" fill="#5b2dac"/>
<polygon points="146.1,407.8 150.5,403.5 154.9,407.8 154.9,411.2 150.5,415.5 146.1,411.2" fill="#4e34bb"/>
<polygon points="154.2,407.8 158.6,403.5 163.0,407.8 163.0,411.2 158.6,415.5 154.2,411.2" fill="#4649c9"/>
<polygon points="162.3,407.8 166.7,403.5 171.1,407.8 171.1,411.2 166.7,415.5 162.3,411.2" fill="#3e5fd6"/>
<polygon points="170.4,407.8 174.8,403.5 179.2,407.8 179.2,411.2 174.8,415.5 170.4,411.2" fill="#4178cf"/>
<polygon points="178.5,407.8 182.9,404.5 187.2,407.8 187.2,411.2 182.9,414.5 178.5,411.2" fill="#4591c7"/>
<polygon points="202.8,414.7 207.2,411.4 211.6,414.7 211.6,418.1 207.2,421.4 202.8,418.1" fill="#4383cc"/>
<polygon points="210.9,414.7 215.3,410.4 219.7,414.7 219.7,418.1 215.3,422.4 210.9,418.1" fill="#3f69d3"/>
<polygon points="219.0,414.7 223.4,410.4 227.8,414.7 227.8,418.1 223.4,422.4 219.0,418.1" fill="#4252ce"/>
<polygon points="227.1,414.7 231.5,410.4 235.9,414.7 235.9,418.1 231.5,422.4 227.1,418.1" fill="#4b3dc1"/>
<polygon points="235.2,414.7 239.6,410.4 243.9,414.7 243.9,418.1 239.6,422.4 235.2,418.1" fill="#552eb2"/>
<polygon points="243.3,414.7 247.7,410.4 252.1,414.7 252.1,418.1 247.7,422.4 243.3,418.1" fill="#622ba3"/>
<polygon points="251.4,414.7 255.8,410.4 260.2,414.7 260.2,418.1 255.8,422.4 251.4,418.1" fill="#702793"/>
<polygon points="24.6,430.9 29.0,426.6 33.3,430.9 33.3,434.3 29.0,438.6 24.6,434.3" fill="#4351cd"/>
<polygon points="32.8,430.9 37.1,426.6 41.4,430.9 41.4,434.3 37.1,438.6 32.8,434.3" fill="#3f67d4"/>
<polygon points="40.9,430.9 45.2,427.6 49.5,430.9 49.5,434.3 45.2,437.6 40.9,434.3" fill="#4380cc"/>
<polygon points="49.0,430.9 53.3,427.6 57.6,430.9 57.6,434.3 53.3,437.6 49.0,434.3" fill="#4799c5"/>
<polygon points="57.0,430.9 61.4,427.6 65.7,430.9 65.7,434.3 61.4,437.6 57.0,434.3" fill="#56a6b8"/>
<polygon points="89.5,439.3 93.8,436.0 98.1,439.3 98.1,442.7 93.8,446.0 89.5,442.7" fill="#458fc8"/>
<polygon points="97.5,439.3 101.9,435.0 106.2,439.3 106.2,442.7 101.9,447.0 97.5,442.7" fill="#4176d0"/>
<polygon points="105.7,439.3 110.0,435.0 114.3,439.3 114.3,442.7 110.0,447.0 105.7,442.7" fill="#3f5dd5"/>
<polygon points="113.8,439.3 118.1,435.0 122.4,439.3 122.4,442.7 118.1,447.0 113.8,442.7" fill="#4747c7"/>
<polygon points="121.8,439.3 126.2,435.0 130.6,439.3 130.6,442.7 126.2,447.0 121.8,442.7" fill="#4f32ba"/>
<polygon points="129.9,439.3 134.3,435.0 138.7,439.3 138.7,442.7 134.3,447.0 129.9,442.7" fill="#5c2caa"/>
<polygon points="138.0,439.3 142.4,435.0 146.8,439.3 146.8,442.7 142.4,447.0 138.0,442.7" fill="#69299b"/>
<ellipse cx="149.4" cy="441.2" rx="3.2" ry="4.2" fill="#e0622a" filter="url(#bl1)"/>
<ellipse cx="192.2" cy="441.2" rx="3.2" ry="4.2" fill="#e0622a" filter="url(#bl1)"/>
<polygon points="149.4,441.2 155.1,437.9 158.6,434.0 162.1,437.9 163.2,437.9 166.7,434.0 170.2,437.9 171.3,437.9 174.8,434.0 178.3,437.9 179.4,437.9 182.9,434.0 186.3,437.9 192.2,441.2 192.2,441.2 186.3,444.5 182.9,448.4 179.4,444.5 178.3,444.5 174.8,448.4 171.3,444.5 170.2,444.5 166.7,448.4 163.2,444.5 162.1,444.5 158.6,448.4 155.1,444.5 149.4,441.2" fill="#fff" stroke="#c8643c" stroke-width="1.0"/>
<polygon points="194.7,439.5 199.1,435.2 203.4,439.5 203.4,442.9 199.1,447.2 194.7,442.9" fill="#67299d"/>
<polygon points="202.8,439.5 207.2,435.2 211.6,439.5 211.6,442.9 207.2,447.2 202.8,442.9" fill="#592dad"/>
<polygon points="210.9,439.5 215.3,435.2 219.7,439.5 219.7,442.9 215.3,447.2 210.9,442.9" fill="#4d36bc"/>
<polygon points="219.0,439.5 223.4,435.2 227.8,439.5 227.8,442.9 223.4,447.2 219.0,442.9" fill="#454bca"/>
<polygon points="227.1,439.5 231.5,435.2 235.9,439.5 235.9,442.9 231.5,447.2 227.1,442.9" fill="#3e61d6"/>
<polygon points="235.2,439.5 239.6,435.2 243.9,439.5 243.9,442.9 239.6,447.2 235.2,442.9" fill="#427ace"/>
<polygon points="243.3,439.5 247.7,436.2 252.1,439.5 252.1,442.9 247.7,446.2 243.3,442.9" fill="#4693c7"/>
<polygon points="251.4,439.5 255.8,436.2 260.2,439.5 260.2,442.9 255.8,446.2 251.4,442.9" fill="#52a4bc"/>
<ellipse cx="58.6" cy="464.7" rx="3.2" ry="4.2" fill="#e0622a" filter="url(#bl1)"/>
<polygon points="27.6,464.7 33.6,461.4 37.1,457.5 40.5,461.4 41.8,461.4 45.2,457.5 48.6,461.4 49.9,461.4 53.3,457.5 56.7,461.4 58.6,464.7 58.6,464.7 56.7,468.0 53.3,471.9 49.9,468.0 48.6,468.0 45.2,471.9 41.8,468.0 40.5,468.0 37.1,471.9 33.6,468.0 27.6,464.7" fill="#fff" stroke="#c8643c" stroke-width="1.0"/>
<polygon points="57.0,463.0 61.4,458.7 65.7,463.0 65.7,466.4 61.4,470.7 57.0,466.4" fill="#6f2794"/>
<polygon points="65.2,463.0 69.5,458.7 73.8,463.0 73.8,466.4 69.5,470.7 65.2,466.4" fill="#612ba4"/>
<polygon points="73.2,463.0 77.6,458.7 81.9,463.0 81.9,466.4 77.6,470.7 73.2,466.4" fill="#542eb4"/>
<polygon points="81.3,463.0 85.7,458.7 90.0,463.0 90.0,466.4 85.7,470.7 81.3,466.4" fill="#4a3fc2"/>
<polygon points="89.5,463.0 93.8,458.7 98.1,463.0 98.1,466.4 93.8,470.7 89.5,466.4" fill="#4254d0"/>
<polygon points="97.5,463.0 101.9,458.7 106.2,463.0 106.2,466.4 101.9,470.7 97.5,466.4" fill="#3f6cd3"/>
<polygon points="105.7,463.0 110.0,459.7 114.3,463.0 114.3,466.4 110.0,469.7 105.7,466.4" fill="#4485cb"/>
<polygon points="113.8,463.0 118.1,459.7 122.4,463.0 122.4,466.4 118.1,469.7 113.8,466.4" fill="#489ec3"/>
<polygon points="121.8,463.0 126.2,459.7 130.6,463.0 130.6,466.4 126.2,469.7 121.8,466.4" fill="#59a8b6"/>
<polygon points="138.0,471.6 142.4,468.3 146.8,471.6 146.8,475.0 142.4,478.3 138.0,475.0" fill="#5caab4"/>
<polygon points="146.1,471.6 150.5,468.3 154.9,471.6 154.9,475.0 150.5,478.3 146.1,475.0" fill="#4b9fc1"/>
<polygon points="154.2,471.6 158.6,468.3 163.0,471.6 163.0,475.0 158.6,478.3 154.2,475.0" fill="#4489ca"/>
<polygon points="162.3,471.6 166.7,467.3 171.1,471.6 171.1,475.0 166.7,479.3 162.3,475.0" fill="#4070d1"/>
<polygon points="170.4,471.6 174.8,467.3 179.2,471.6 179.2,475.0 174.8,479.3 170.4,475.0" fill="#4058d2"/>
<polygon points="178.5,471.6 182.9,467.3 187.2,471.6 187.2,475.0 182.9,479.3 178.5,475.0" fill="#4842c4"/>
<polygon points="186.6,471.6 191.0,467.3 195.4,471.6 195.4,475.0 191.0,479.3 186.6,475.0" fill="#512fb7"/>
<polygon points="194.7,471.6 199.1,467.3 203.4,471.6 203.4,475.0 199.1,479.3 194.7,475.0" fill="#5f2ba7"/>
<polygon points="202.8,471.6 207.2,467.3 211.6,471.6 211.6,475.0 207.2,479.3 202.8,475.0" fill="#6c2897"/>
<ellipse cx="212.7" cy="473.3" rx="3.2" ry="4.2" fill="#e0622a" filter="url(#bl1)"/>
<polygon points="212.7,473.3 211.8,470.0 215.3,466.1 218.8,470.0 219.9,470.0 223.4,466.1 226.8,470.0 228.0,470.0 231.5,466.1 235.0,470.0 236.1,470.0 239.6,466.1 243.0,470.0 244.2,470.0 247.7,466.1 251.2,470.0 255.8,473.3 255.8,473.3 251.2,476.6 247.7,480.5 244.2,476.6 243.0,476.6 239.6,480.5 236.1,476.6 235.0,476.6 231.5,480.5 228.0,476.6 226.8,476.6 223.4,480.5 219.9,476.6 218.8,476.6 215.3,480.5 211.8,476.6 212.7,473.3" fill="#fff" stroke="#c8643c" stroke-width="1.0"/>
<polygon points="24.6,496.2 29.0,491.9 33.3,496.2 33.3,499.6 29.0,503.9 24.6,499.6" fill="#4279cf"/>
<polygon points="32.8,496.2 37.1,491.9 41.4,496.2 41.4,499.6 37.1,503.9 32.8,499.6" fill="#3e60d6"/>
<polygon points="40.9,496.2 45.2,491.9 49.5,496.2 49.5,499.6 45.2,503.9 40.9,499.6" fill="#454ac9"/>
<polygon points="49.0,496.2 53.3,491.9 57.6,496.2 57.6,499.6 53.3,503.9 49.0,499.6" fill="#4e35bc"/>
<polygon points="57.0,496.2 61.4,491.9 65.7,496.2 65.7,499.6 61.4,503.9 57.0,499.6" fill="#5a2dad"/>
<polygon points="65.2,496.2 69.5,491.9 73.8,496.2 73.8,499.6 69.5,503.9 65.2,499.6" fill="#67299d"/>
<ellipse cx="78.0" cy="497.9" rx="3.2" ry="4.2" fill="#e0622a" filter="url(#bl1)"/>
<ellipse cx="124.6" cy="497.9" rx="3.2" ry="4.2" fill="#e0622a" filter="url(#bl1)"/>
<polygon points="78.0,497.9 82.2,494.6 85.7,490.7 89.1,494.6 90.3,494.6 93.8,490.7 97.2,494.6 98.4,494.6 101.9,490.7 105.3,494.6 106.5,494.6 110.0,490.7 113.5,494.6 114.6,494.6 118.1,490.7 121.5,494.6 124.6,497.9 124.6,497.9 121.5,501.2 118.1,505.1 114.6,501.2 113.5,501.2 110.0,505.1 106.5,501.2 105.3,501.2 101.9,505.1 98.4,501.2 97.2,501.2 93.8,505.1 90.3,501.2 89.1,501.2 85.7,505.1 82.2,501.2 78.0,497.9" fill="#fff" stroke="#c8643c" stroke-width="1.0"/>
<polygon points="121.8,496.2 126.2,491.9 130.6,496.2 130.6,499.6 126.2,503.9 121.8,499.6" fill="#712792"/>
<polygon points="129.9,496.2 134.3,491.9 138.7,496.2 138.7,499.6 134.3,503.9 129.9,499.6" fill="#632aa2"/>
<polygon points="138.0,496.2 142.4,491.9 146.8,496.2 146.8,499.6 142.4,503.9 138.0,499.6" fill="#562eb1"/>
<polygon points="146.1,496.2 150.5,491.9 154.9,496.2 154.9,499.6 150.5,503.9 146.1,499.6" fill="#4b3cc0"/>
<polygon points="154.2,496.2 158.6,491.9 163.0,496.2 163.0,499.6 158.6,503.9 154.2,499.6" fill="#4351ce"/>
<polygon points="162.3,496.2 166.7,491.9 171.1,496.2 171.1,499.6 166.7,503.9 162.3,499.6" fill="#3f68d4"/>
<polygon points="170.4,496.2 174.8,492.9 179.2,496.2 179.2,499.6 174.8,502.9 170.4,499.6" fill="#4381cc"/>
<polygon points="178.5,496.2 182.9,492.9 187.2,496.2 187.2,499.6 182.9,502.9 178.5,499.6" fill="#479ac5"/>
<polygon points="210.9,503.8 215.3,499.5 219.7,503.8 219.7,507.2 215.3,511.5 210.9,507.2" fill="#3f69d3"/>
<polygon points="219.0,503.8 223.4,499.5 227.8,503.8 227.8,507.2 223.4,511.5 219.0,507.2" fill="#4252ce"/>
<polygon points="227.1,503.8 231.5,499.5 235.9,503.8 235.9,507.2 231.5,511.5 227.1,507.2" fill="#4b3dc1"/>
<polygon points="235.2,503.8 239.6,499.5 243.9,503.8 243.9,507.2 239.6,511.5 235.2,507.2" fill="#552eb2"/>
<polygon points="243.3,503.8 247.7,499.5 252.1,503.8 252.1,507.2 247.7,511.5 243.3,507.2" fill="#622ba3"/>
<polygon points="251.4,503.8 255.8,499.5 260.2,503.8 260.2,507.2 255.8,511.5 251.4,507.2" fill="#702793"/>
<polygon points="24.6,520.3 29.0,516.0 33.3,520.3 33.3,523.7 29.0,528.0 24.6,523.7" fill="#4351cd"/>
<polygon points="32.8,520.3 37.1,516.0 41.4,520.3 41.4,523.7 37.1,528.0 32.8,523.7" fill="#3f67d4"/>
<polygon points="40.9,520.3 45.2,517.0 49.5,520.3 49.5,523.7 45.2,527.0 40.9,523.7" fill="#4380cc"/>
<polygon points="81.3,528.3 85.7,525.0 90.0,528.3 90.0,531.7 85.7,535.0 81.3,531.7" fill="#4694c6"/>
<polygon points="89.5,528.3 93.8,524.0 98.1,528.3 98.1,531.7 93.8,536.0 89.5,531.7" fill="#427bce"/>
<polygon points="97.5,528.3 101.9,524.0 106.2,528.3 106.2,531.7 101.9,536.0 97.5,531.7" fill="#3e62d6"/>
<polygon points="105.7,528.3 110.0,524.0 114.3,528.3 114.3,531.7 110.0,536.0 105.7,531.7" fill="#454cca"/>
<polygon points="113.8,528.3 118.1,524.0 122.4,528.3 122.4,531.7 118.1,536.0 113.8,531.7" fill="#4d36bd"/>
<polygon points="121.8,528.3 126.2,524.0 130.6,528.3 130.6,531.7 126.2,536.0 121.8,531.7" fill="#592dae"/>
<polygon points="129.9,528.3 134.3,524.0 138.7,528.3 138.7,531.7 134.3,536.0 129.9,531.7" fill="#66299e"/>
<ellipse cx="141.8" cy="530.1" rx="3.2" ry="4.2" fill="#e0622a" filter="url(#bl1)"/>
<ellipse cx="187.4" cy="530.1" rx="3.2" ry="4.2" fill="#e0622a" filter="url(#bl1)"/>
<polygon points="141.8,530.1 147.0,526.8 150.5,522.9 154.0,526.8 155.1,526.8 158.6,522.9 162.1,526.8 163.2,526.8 166.7,522.9 170.2,526.8 171.3,526.8 174.8,522.9 178.3,526.8 179.4,526.8 182.9,522.9 186.3,526.8 187.4,530.1 187.4,530.1 186.3,533.4 182.9,537.3 179.4,533.4 178.3,533.4 174.8,537.3 171.3,533.4 170.2,533.4 166.7,537.3 163.2,533.4 162.1,533.4 158.6,537.3 155.1,533.4 154.0,533.4 150.5,537.3 147.0,533.4 141.8,530.1" fill="#fff" stroke="#c8643c" stroke-width="1.0"/>
<polygon points="186.6,528.4 191.0,524.1 195.4,528.4 195.4,531.8 191.0,536.1 186.6,531.8" fill="#6a2899"/>
<polygon points="194.7,528.4 199.1,524.1 203.4,528.4 203.4,531.8 199.1,536.1 194.7,531.8" fill="#5d2ca9"/>
<polygon points="202.8,528.4 207.2,524.1 211.6,528.4 211.6,531.8 207.2,536.1 202.8,531.8" fill="#4f30b9"/>
<polygon points="210.9,528.4 215.3,524.1 219.7,528.4 219.7,531.8 215.3,536.1 210.9,531.8" fill="#4746c6"/>
<polygon points="219.0,528.4 223.4,524.1 227.8,528.4 227.8,531.8 223.4,536.1 219.0,531.8" fill="#3f5bd4"/>
<polygon points="227.1,528.4 231.5,524.1 235.9,528.4 235.9,531.8 231.5,536.1 227.1,531.8" fill="#4174d0"/>
<polygon points="235.2,528.4 239.6,525.1 243.9,528.4 243.9,531.8 239.6,535.1 235.2,531.8" fill="#458dc9"/>
<polygon points="243.3,528.4 247.7,525.1 252.1,528.4 252.1,531.8 247.7,535.1 243.3,531.8" fill="#4da1bf"/>
<polygon points="251.4,528.4 255.8,525.1 260.2,528.4 260.2,531.8 255.8,535.1 251.4,531.8" fill="#5eabb2"/>
<ellipse cx="52.5" cy="554.8" rx="3.2" ry="4.2" fill="#e0622a" filter="url(#bl1)"/>
<polygon points="27.6,554.8 33.6,551.5 37.1,547.6 40.5,551.5 41.8,551.5 45.2,547.6 48.6,551.5 52.5,554.8 52.5,554.8 48.6,558.1 45.2,562.0 41.8,558.1 40.5,558.1 37.1,562.0 33.6,558.1 27.6,554.8" fill="#fff" stroke="#c8643c" stroke-width="1.0"/>
<polygon points="49.0,553.1 53.3,548.8 57.6,553.1 57.6,556.5 53.3,560.8 49.0,556.5" fill="#732690"/>
<polygon points="57.0,553.1 61.4,548.8 65.7,553.1 65.7,556.5 61.4,560.8 57.0,556.5" fill="#652a9f"/>
<polygon points="65.2,553.1 69.5,548.8 73.8,553.1 73.8,556.5 69.5,560.8 65.2,556.5" fill="#582daf"/>
<polygon points="73.2,553.1 77.6,548.8 81.9,553.1 81.9,556.5 77.6,560.8 73.2,556.5" fill="#4c38be"/>
<polygon points="81.3,553.1 85.7,548.8 90.0,553.1 90.0,556.5 85.7,560.8 81.3,556.5" fill="#444ecc"/>
<polygon points="89.5,553.1 93.8,548.8 98.1,553.1 98.1,556.5 93.8,560.8 89.5,556.5" fill="#3e64d5"/>
<polygon points="97.5,553.1 101.9,549.8 106.2,553.1 106.2,556.5 101.9,559.8 97.5,556.5" fill="#427dcd"/>
<polygon points="105.7,553.1 110.0,549.8 114.3,553.1 114.3,556.5 110.0,559.8 105.7,556.5" fill="#4696c6"/>
<polygon points="113.8,553.1 118.1,549.8 122.4,553.1 122.4,556.5 118.1,559.8 113.8,556.5" fill="#54a5ba"/>
<polygon points="121.8,553.1 126.2,549.8 130.6,553.1 130.6,556.5 126.2,559.8 121.8,556.5" fill="#65afad"/>
<polygon points="129.9,553.1 134.3,549.8 138.7,553.1 138.7,556.5 134.3,559.8 129.9,556.5" fill="#76ba9f"/>
<polygon points="138.0,553.1 142.4,549.8 146.8,553.1 146.8,556.5 142.4,559.8 138.0,556.5" fill="#81bc8d"/>
<polygon points="138.0,561.0 142.4,557.7 146.8,561.0 146.8,564.4 142.4,567.7 138.0,564.4" fill="#50a3bd"/>
<polygon points="146.1,561.0 150.5,557.7 154.9,561.0 154.9,564.4 150.5,567.7 146.1,564.4" fill="#4691c7"/>
<polygon points="154.2,561.0 158.6,556.7 163.0,561.0 163.0,564.4 158.6,568.7 154.2,564.4" fill="#4278cf"/>
<polygon points="162.3,561.0 166.7,556.7 171.1,561.0 171.1,564.4 166.7,568.7 162.3,564.4" fill="#3e5fd6"/>
<polygon points="170.4,561.0 174.8,556.7 179.2,561.0 179.2,564.4 174.8,568.7 170.4,564.4" fill="#464ac9"/>
<polygon points="178.5,561.0 182.9,556.7 187.2,561.0 187.2,564.4 182.9,568.7 178.5,564.4" fill="#4e34bb"/>
<polygon points="186.6,561.0 191.0,556.7 195.4,561.0 195.4,564.4 191.0,568.7 186.6,564.4" fill="#5a2dac"/>
<polygon points="194.7,561.0 199.1,556.7 203.4,561.0 203.4,564.4 199.1,568.7 194.7,564.4" fill="#68299c"/>
<ellipse cx="206.3" cy="562.7" rx="3.2" ry="4.2" fill="#e0622a" filter="url(#bl1)"/>
<ellipse cx="249.0" cy="562.7" rx="3.2" ry="4.2" fill="#e0622a" filter="url(#bl1)"/>
<polygon points="206.3,562.7 211.8,559.4 215.3,555.5 218.8,559.4 219.9,559.4 223.4,555.5 226.8,559.4 228.0,559.4 231.5,555.5 235.0,559.4 236.1,559.4 239.6,555.5 243.0,559.4 249.0,562.7 249.0,562.7 243.0,566.0 239.6,569.9 236.1,566.0 235.0,566.0 231.5,569.9 228.0,566.0 226.8,566.0 223.4,569.9 219.9,566.0 218.8,566.0 215.3,569.9 211.8,566.0 206.3,562.7" fill="#fff" stroke="#c8643c" stroke-width="1.0"/>
<polygon points="24.6,386.7 29.0,382.4 33.3,386.7 33.3,390.1 29.0,394.4 24.6,390.1" fill="#4351cd"/>
<polygon points="32.8,386.7 37.1,382.4 41.4,386.7 41.4,390.1 37.1,394.4 32.8,390.1" fill="#3f67d4"/>
<polygon points="40.9,386.7 45.2,383.4 49.5,386.7 49.5,390.1 45.2,393.4 40.9,390.1" fill="#4380cc"/>
<polygon points="24.6,565.2 29.0,560.9 33.3,565.2 33.3,568.6 29.0,572.9 24.6,568.6" fill="#4351cd"/>
<polygon points="32.8,565.2 37.1,560.9 41.4,565.2 41.4,568.6 37.1,572.9 32.8,568.6" fill="#3f67d4"/>
<polygon points="24.6,585.7 29.0,581.4 33.3,585.7 33.3,589.1 29.0,593.4 24.6,589.1" fill="#3e5fd6"/>
<polygon points="32.8,585.7 37.1,581.4 41.4,585.7 41.4,589.1 37.1,593.4 32.8,589.1" fill="#4649c9"/>
<polygon points="40.9,585.7 45.2,581.4 49.5,585.7 49.5,589.1 45.2,593.4 40.9,589.1" fill="#4e34bb"/>
<polygon points="49.0,585.7 53.3,581.4 57.6,585.7 57.6,589.1 53.3,593.4 49.0,589.1" fill="#5a2dac"/>
<polygon points="57.0,585.7 61.4,581.4 65.7,585.7 65.7,589.1 61.4,593.4 57.0,589.1" fill="#68299c"/>
<ellipse cx="71.4" cy="587.4" rx="3.2" ry="4.2" fill="#e0622a" filter="url(#bl1)"/>
<ellipse cx="116.0" cy="587.4" rx="3.2" ry="4.2" fill="#e0622a" filter="url(#bl1)"/>
<polygon points="71.4,587.4 74.1,584.1 77.6,580.2 81.0,584.1 82.2,584.1 85.7,580.2 89.1,584.1 90.3,584.1 93.8,580.2 97.2,584.1 98.4,584.1 101.9,580.2 105.3,584.1 106.5,584.1 110.0,580.2 113.5,584.1 116.0,587.4 116.0,587.4 113.5,590.7 110.0,594.6 106.5,590.7 105.3,590.7 101.9,594.6 98.4,590.7 97.2,590.7 93.8,594.6 90.3,590.7 89.1,590.7 85.7,594.6 82.2,590.7 81.0,590.7 77.6,594.6 74.1,590.7 71.4,587.4" fill="#fff" stroke="#c8643c" stroke-width="1.0"/>
<polygon points="113.8,585.7 118.1,581.4 122.4,585.7 122.4,589.1 118.1,593.4 113.8,589.1" fill="#702792"/>
<polygon points="121.8,585.7 126.2,581.4 130.6,585.7 130.6,589.1 126.2,593.4 121.8,589.1" fill="#632aa2"/>
<polygon points="129.9,585.7 134.3,581.4 138.7,585.7 138.7,589.1 134.3,593.4 129.9,589.1" fill="#552eb2"/>
<polygon points="138.0,585.7 142.4,581.4 146.8,585.7 146.8,589.1 142.4,593.4 138.0,589.1" fill="#4b3cc0"/>
<polygon points="146.1,585.7 150.5,581.4 154.9,585.7 154.9,589.1 150.5,593.4 146.1,589.1" fill="#4351ce"/>
<polygon points="154.2,585.7 158.6,581.4 163.0,585.7 163.0,589.1 158.6,593.4 154.2,589.1" fill="#3f68d4"/>
<polygon points="162.3,585.7 166.7,582.4 171.1,585.7 171.1,589.1 166.7,592.4 162.3,589.1" fill="#4381cc"/>
<polygon points="170.4,585.7 174.8,582.4 179.2,585.7 179.2,589.1 174.8,592.4 170.4,589.1" fill="#479ac4"/>
<polygon points="178.5,585.7 182.9,582.4 187.2,585.7 187.2,589.1 182.9,592.4 178.5,589.1" fill="#56a7b8"/>
<polygon points="210.9,593.3 215.3,589.0 219.7,593.3 219.7,596.7 215.3,601.0 210.9,596.7" fill="#3f69d3"/>
<polygon points="219.0,593.3 223.4,589.0 227.8,593.3 227.8,596.7 223.4,601.0 219.0,596.7" fill="#4252ce"/>
<polygon points="227.1,593.3 231.5,589.0 235.9,593.3 235.9,596.7 231.5,601.0 227.1,596.7" fill="#4b3dc1"/>
<polygon points="235.2,593.3 239.6,589.0 243.9,593.3 243.9,596.7 239.6,601.0 235.2,596.7" fill="#552eb2"/>
<polygon points="243.3,593.3 247.7,589.0 252.1,593.3 252.1,596.7 247.7,601.0 243.3,596.7" fill="#622ba3"/>
<polygon points="251.4,593.3 255.8,589.0 260.2,593.3 260.2,596.7 255.8,601.0 251.4,596.7" fill="#702793"/>
</g>
<rect x="24.4" y="371.4" width="235.99999999999997" height="236.0" fill="none" stroke="#a0a0a0" stroke-width="1.2"/>
<line x1="33.0" y1="371.4" x2="33.0" y2="375.4" stroke="#a0a0a0" stroke-width="0.8"/>
<line x1="33.0" y1="607.4" x2="33.0" y2="603.4" stroke="#a0a0a0" stroke-width="0.8"/>
<line x1="24.4" y1="377.3" x2="28.4" y2="377.3" stroke="#a0a0a0" stroke-width="0.8"/>
<line x1="260.4" y1="377.3" x2="256.4" y2="377.3" stroke="#a0a0a0" stroke-width="0.8"/>
<line x1="44.0" y1="371.4" x2="44.0" y2="373.9" stroke="#a0a0a0" stroke-width="0.8"/>
<line x1="44.0" y1="607.4" x2="44.0" y2="604.9" stroke="#a0a0a0" stroke-width="0.8"/>
<line x1="24.4" y1="388.6" x2="26.9" y2="388.6" stroke="#a0a0a0" stroke-width="0.8"/>
<line x1="260.4" y1="388.6" x2="257.9" y2="388.6" stroke="#a0a0a0" stroke-width="0.8"/>
<line x1="54.9" y1="371.4" x2="54.9" y2="373.9" stroke="#a0a0a0" stroke-width="0.8"/>
<line x1="54.9" y1="607.4" x2="54.9" y2="604.9" stroke="#a0a0a0" stroke-width="0.8"/>
<line x1="24.4" y1="399.9" x2="26.9" y2="399.9" stroke="#a0a0a0" stroke-width="0.8"/>
<line x1="260.4" y1="399.9" x2="257.9" y2="399.9" stroke="#a0a0a0" stroke-width="0.8"/>
<line x1="65.9" y1="371.4" x2="65.9" y2="373.9" stroke="#a0a0a0" stroke-width="0.8"/>
<line x1="65.9" y1="607.4" x2="65.9" y2="604.9" stroke="#a0a0a0" stroke-width="0.8"/>
<line x1="24.4" y1="411.3" x2="26.9" y2="411.3" stroke="#a0a0a0" stroke-width="0.8"/>
<line x1="260.4" y1="411.3" x2="257.9" y2="411.3" stroke="#a0a0a0" stroke-width="0.8"/>
<line x1="76.8" y1="371.4" x2="76.8" y2="373.9" stroke="#a0a0a0" stroke-width="0.8"/>
<line x1="76.8" y1="607.4" x2="76.8" y2="604.9" stroke="#a0a0a0" stroke-width="0.8"/>
<line x1="24.4" y1="422.6" x2="26.9" y2="422.6" stroke="#a0a0a0" stroke-width="0.8"/>
<line x1="260.4" y1="422.6" x2="257.9" y2="422.6" stroke="#a0a0a0" stroke-width="0.8"/>
<line x1="87.8" y1="371.4" x2="87.8" y2="375.4" stroke="#a0a0a0" stroke-width="0.8"/>
<line x1="87.8" y1="607.4" x2="87.8" y2="603.4" stroke="#a0a0a0" stroke-width="0.8"/>
<line x1="24.4" y1="433.9" x2="28.4" y2="433.9" stroke="#a0a0a0" stroke-width="0.8"/>
<line x1="260.4" y1="433.9" x2="256.4" y2="433.9" stroke="#a0a0a0" stroke-width="0.8"/>
<line x1="98.7" y1="371.4" x2="98.7" y2="373.9" stroke="#a0a0a0" stroke-width="0.8"/>
<line x1="98.7" y1="607.4" x2="98.7" y2="604.9" stroke="#a0a0a0" stroke-width="0.8"/>
<line x1="24.4" y1="445.2" x2="26.9" y2="445.2" stroke="#a0a0a0" stroke-width="0.8"/>
<line x1="260.4" y1="445.2" x2="257.9" y2="445.2" stroke="#a0a0a0" stroke-width="0.8"/>
<line x1="109.6" y1="371.4" x2="109.6" y2="373.9" stroke="#a0a0a0" stroke-width="0.8"/>
<line x1="109.6" y1="607.4" x2="109.6" y2="604.9" stroke="#a0a0a0" stroke-width="0.8"/>
<line x1="24.4" y1="456.6" x2="26.9" y2="456.6" stroke="#a0a0a0" stroke-width="0.8"/>
<line x1="260.4" y1="456.6" x2="257.9" y2="456.6" stroke="#a0a0a0" stroke-width="0.8"/>
<line x1="120.6" y1="371.4" x2="120.6" y2="373.9" stroke="#a0a0a0" stroke-width="0.8"/>
<line x1="120.6" y1="607.4" x2="120.6" y2="604.9" stroke="#a0a0a0" stroke-width="0.8"/>
<line x1="24.4" y1="467.9" x2="26.9" y2="467.9" stroke="#a0a0a0" stroke-width="0.8"/>
<line x1="260.4" y1="467.9" x2="257.9" y2="467.9" stroke="#a0a0a0" stroke-width="0.8"/>
<line x1="131.5" y1="371.4" x2="131.5" y2="373.9" stroke="#a0a0a0" stroke-width="0.8"/>
<line x1="131.5" y1="607.4" x2="131.5" y2="604.9" stroke="#a0a0a0" stroke-width="0.8"/>
<line x1="24.4" y1="479.2" x2="26.9" y2="479.2" stroke="#a0a0a0" stroke-width="0.8"/>
<line x1="260.4" y1="479.2" x2="257.9" y2="479.2" stroke="#a0a0a0" stroke-width="0.8"/>
<line x1="142.4" y1="371.4" x2="142.4" y2="375.4" stroke="#a0a0a0" stroke-width="0.8"/>
<line x1="142.4" y1="607.4" x2="142.4" y2="603.4" stroke="#a0a0a0" stroke-width="0.8"/>
<line x1="24.4" y1="490.5" x2="28.4" y2="490.5" stroke="#a0a0a0" stroke-width="0.8"/>
<line x1="260.4" y1="490.5" x2="256.4" y2="490.5" stroke="#a0a0a0" stroke-width="0.8"/>
<line x1="153.4" y1="371.4" x2="153.4" y2="373.9" stroke="#a0a0a0" stroke-width="0.8"/>
<line x1="153.4" y1="607.4" x2="153.4" y2="604.9" stroke="#a0a0a0" stroke-width="0.8"/>
<line x1="24.4" y1="501.9" x2="26.9" y2="501.9" stroke="#a0a0a0" stroke-width="0.8"/>
<line x1="260.4" y1="501.9" x2="257.9" y2="501.9" stroke="#a0a0a0" stroke-width="0.8"/>
<line x1="164.3" y1="371.4" x2="164.3" y2="373.9" stroke="#a0a0a0" stroke-width="0.8"/>
<line x1="164.3" y1="607.4" x2="164.3" y2="604.9" stroke="#a0a0a0" stroke-width="0.8"/>
<line x1="24.4" y1="513.2" x2="26.9" y2="513.2" stroke="#a0a0a0" stroke-width="0.8"/>
<line x1="260.4" y1="513.2" x2="257.9" y2="513.2" stroke="#a0a0a0" stroke-width="0.8"/>
<line x1="175.3" y1="371.4" x2="175.3" y2="373.9" stroke="#a0a0a0" stroke-width="0.8"/>
<line x1="175.3" y1="607.4" x2="175.3" y2="604.9" stroke="#a0a0a0" stroke-width="0.8"/>
<line x1="24.4" y1="524.5" x2="26.9" y2="524.5" stroke="#a0a0a0" stroke-width="0.8"/>
<line x1="260.4" y1="524.5" x2="257.9" y2="524.5" stroke="#a0a0a0" stroke-width="0.8"/>
<line x1="186.2" y1="371.4" x2="186.2" y2="373.9" stroke="#a0a0a0" stroke-width="0.8"/>
<line x1="186.2" y1="607.4" x2="186.2" y2="604.9" stroke="#a0a0a0" stroke-width="0.8"/>
<line x1="24.4" y1="535.8" x2="26.9" y2="535.8" stroke="#a0a0a0" stroke-width="0.8"/>
<line x1="260.4" y1="535.8" x2="257.9" y2="535.8" stroke="#a0a0a0" stroke-width="0.8"/>
<line x1="197.1" y1="371.4" x2="197.1" y2="375.4" stroke="#a0a0a0" stroke-width="0.8"/>
<line x1="197.1" y1="607.4" x2="197.1" y2="603.4" stroke="#a0a0a0" stroke-width="0.8"/>
<line x1="24.4" y1="547.2" x2="28.4" y2="547.2" stroke="#a0a0a0" stroke-width="0.8"/>
<line x1="260.4" y1="547.2" x2="256.4" y2="547.2" stroke="#a0a0a0" stroke-width="0.8"/>
<line x1="208.1" y1="371.4" x2="208.1" y2="373.9" stroke="#a0a0a0" stroke-width="0.8"/>
<line x1="208.1" y1="607.4" x2="208.1" y2="604.9" stroke="#a0a0a0" stroke-width="0.8"/>
<line x1="24.4" y1="558.5" x2="26.9" y2="558.5" stroke="#a0a0a0" stroke-width="0.8"/>
<line x1="260.4" y1="558.5" x2="257.9" y2="558.5" stroke="#a0a0a0" stroke-width="0.8"/>
<line x1="219.0" y1="371.4" x2="219.0" y2="373.9" stroke="#a0a0a0" stroke-width="0.8"/>
<line x1="219.0" y1="607.4" x2="219.0" y2="604.9" stroke="#a0a0a0" stroke-width="0.8"/>
<line x1="24.4" y1="569.8" x2="26.9" y2="569.8" stroke="#a0a0a0" stroke-width="0.8"/>
<line x1="260.4" y1="569.8" x2="257.9" y2="569.8" stroke="#a0a0a0" stroke-width="0.8"/>
<line x1="230.0" y1="371.4" x2="230.0" y2="373.9" stroke="#a0a0a0" stroke-width="0.8"/>
<line x1="230.0" y1="607.4" x2="230.0" y2="604.9" stroke="#a0a0a0" stroke-width="0.8"/>
<line x1="24.4" y1="581.1" x2="26.9" y2="581.1" stroke="#a0a0a0" stroke-width="0.8"/>
<line x1="260.4" y1="581.1" x2="257.9" y2="581.1" stroke="#a0a0a0" stroke-width="0.8"/>
<line x1="240.9" y1="371.4" x2="240.9" y2="373.9" stroke="#a0a0a0" stroke-width="0.8"/>
<line x1="240.9" y1="607.4" x2="240.9" y2="604.9" stroke="#a0a0a0" stroke-width="0.8"/>
<line x1="24.4" y1="592.5" x2="26.9" y2="592.5" stroke="#a0a0a0" stroke-width="0.8"/>
<line x1="260.4" y1="592.5" x2="257.9" y2="592.5" stroke="#a0a0a0" stroke-width="0.8"/>
<line x1="251.9" y1="371.4" x2="251.9" y2="375.4" stroke="#a0a0a0" stroke-width="0.8"/>
<line x1="251.9" y1="607.4" x2="251.9" y2="603.4" stroke="#a0a0a0" stroke-width="0.8"/>
<line x1="24.4" y1="603.8" x2="28.4" y2="603.8" stroke="#a0a0a0" stroke-width="0.8"/>
<line x1="260.4" y1="603.8" x2="256.4" y2="603.8" stroke="#a0a0a0" stroke-width="0.8"/>
<defs><linearGradient id="rb" x1="0" y1="1" x2="0" y2="0">
<stop offset="0.0" stop-color="#781e8c"/>
<stop offset="0.1" stop-color="#4e26a9"/>
<stop offset="0.2" stop-color="#3f46c4"/>
<stop offset="0.3" stop-color="#4171ca"/>
<stop offset="0.4" stop-color="#509bb2"/>
<stop offset="0.5" stop-color="#6eb478"/>
<stop offset="0.6" stop-color="#97bc56"/>
<stop offset="0.7" stop-color="#c1b743"/>
<stop offset="0.8" stop-color="#dd9a37"/>
<stop offset="0.9" stop-color="#e2652e"/>
<stop offset="1.0" stop-color="#d72823"/>
</linearGradient></defs>
<rect x="272.1" y="420.5" width="9.9" height="146.2" fill="url(#rb)"/>
<line x1="279" y1="561.8" x2="282" y2="561.8" stroke="#ddd" stroke-width="0.8"/>
<line x1="280" y1="547.3" x2="282" y2="547.3" stroke="#ddd" stroke-width="0.8"/>
<line x1="279" y1="532.8" x2="282" y2="532.8" stroke="#ddd" stroke-width="0.8"/>
<line x1="280" y1="518.2" x2="282" y2="518.2" stroke="#ddd" stroke-width="0.8"/>
<line x1="279" y1="503.7" x2="282" y2="503.7" stroke="#ddd" stroke-width="0.8"/>
<line x1="280" y1="489.2" x2="282" y2="489.2" stroke="#ddd" stroke-width="0.8"/>
<line x1="279" y1="474.6" x2="282" y2="474.6" stroke="#ddd" stroke-width="0.8"/>
<line x1="280" y1="460.1" x2="282" y2="460.1" stroke="#ddd" stroke-width="0.8"/>
<line x1="279" y1="445.6" x2="282" y2="445.6" stroke="#ddd" stroke-width="0.8"/>
<line x1="280" y1="431.1" x2="282" y2="431.1" stroke="#ddd" stroke-width="0.8"/>
<text x="287" y="450.8" font-family="Liberation Sans" font-weight="bold" font-size="17.5">2.0</text>
<text x="287" y="479.8" font-family="Liberation Sans" font-weight="bold" font-size="17.5">1.5</text>
<text x="287" y="508.9" font-family="Liberation Sans" font-weight="bold" font-size="17.5">1.0</text>
<text x="287" y="538.0" font-family="Liberation Sans" font-weight="bold" font-size="17.5">0.5</text>
<text x="287" y="567.0" font-family="Liberation Sans" font-weight="bold" font-size="17.5">0</text>
<text x="21" y="383.9" font-family="Liberation Sans" font-weight="bold" font-size="18" text-anchor="end">2</text>
<text x="21" y="440.5" font-family="Liberation Sans" font-weight="bold" font-size="18" text-anchor="end">1</text>
<text x="21" y="497.1" font-family="Liberation Sans" font-weight="bold" font-size="18" text-anchor="end">0</text>
<text x="21" y="553.7" font-family="Liberation Sans" font-weight="bold" font-size="18" text-anchor="end">−1</text>
<text x="21" y="610.3" font-family="Liberation Sans" font-weight="bold" font-size="18" text-anchor="end">−2</text>
<text x="28.2" y="626" font-family="Liberation Sans" font-weight="bold" font-size="18" text-anchor="middle">−2</text>
<text x="85.1" y="626" font-family="Liberation Sans" font-weight="bold" font-size="18" text-anchor="middle">−1</text>
<text x="142.0" y="626" font-family="Liberation Sans" font-weight="bold" font-size="18" text-anchor="middle">0</text>
<text x="198.9" y="626" font-family="Liberation Sans" font-weight="bold" font-size="18" text-anchor="middle">1</text>
<text x="255.8" y="626" font-family="Liberation Sans" font-weight="bold" font-size="18" text-anchor="middle">2</text>
<line x1="53" y1="64.3" x2="56" y2="174.3" stroke="#8a8a8a" stroke-width="0.9" stroke-dasharray="1.2,1.8" fill="none"/>
<line x1="83" y1="42.7" x2="86" y2="152.7" stroke="#8a8a8a" stroke-width="0.9" stroke-dasharray="1.2,1.8" fill="none"/>
<line x1="111" y1="22.5" x2="114" y2="132.5" stroke="#8a8a8a" stroke-width="0.9" stroke-dasharray="1.2,1.8" fill="none"/>
<line x1="20.0" y1="116.0" x2="138" y2="28.0" stroke="#8a8a8a" stroke-width="0.9" stroke-dasharray="1.2,1.8" fill="none"/>
<line x1="24.0" y1="141.0" x2="138" y2="53.0" stroke="#8a8a8a" stroke-width="0.9" stroke-dasharray="1.2,1.8" fill="none"/>
<line x1="28.0" y1="166.0" x2="138" y2="78.0" stroke="#8a8a8a" stroke-width="0.9" stroke-dasharray="1.2,1.8" fill="none"/>
<line x1="32.0" y1="191.0" x2="138" y2="103.0" stroke="#8a8a8a" stroke-width="0.9" stroke-dasharray="1.2,1.8" fill="none"/>
<line x1="138" y1="3.0" x2="137" y2="123.0" stroke="#8a8a8a" stroke-width="0.9" stroke-dasharray="1.2,1.8" fill="none"/>
<line x1="180" y1="15.3" x2="179" y2="135.3" stroke="#8a8a8a" stroke-width="0.9" stroke-dasharray="1.2,1.8" fill="none"/>
<line x1="220" y1="27.1" x2="219" y2="147.1" stroke="#8a8a8a" stroke-width="0.9" stroke-dasharray="1.2,1.8" fill="none"/>
<line x1="262" y1="39.4" x2="261" y2="159.4" stroke="#8a8a8a" stroke-width="0.9" stroke-dasharray="1.2,1.8" fill="none"/>
<line x1="138" y1="23.0" x2="303.0" y2="72.0" stroke="#8a8a8a" stroke-width="0.9" stroke-dasharray="1.2,1.8" fill="none"/>
<line x1="138" y1="48.0" x2="300.5" y2="97.0" stroke="#8a8a8a" stroke-width="0.9" stroke-dasharray="1.2,1.8" fill="none"/>
<line x1="138" y1="73.0" x2="298.0" y2="122.0" stroke="#8a8a8a" stroke-width="0.9" stroke-dasharray="1.2,1.8" fill="none"/>
<line x1="138" y1="98.0" x2="295.5" y2="147.0" stroke="#8a8a8a" stroke-width="0.9" stroke-dasharray="1.2,1.8" fill="none"/>
<line x1="305" y1="52" x2="294" y2="166" stroke="#8a8a8a" stroke-width="0.9" stroke-dasharray="1.2,1.8" fill="none"/>
<line x1="56.9" y1="218.6" x2="141.8" y2="101.2" stroke="#8a8a8a" stroke-width="0.9" stroke-dasharray="1.2,1.8" fill="none"/>
<line x1="46.1" y1="193.9" x2="217.9" y2="273.6" stroke="#8a8a8a" stroke-width="0.9" stroke-dasharray="1.2,1.8" fill="none"/>
<line x1="78.4" y1="228.6" x2="163.5" y2="110.5" stroke="#8a8a8a" stroke-width="0.9" stroke-dasharray="1.2,1.8" fill="none"/>
<line x1="56.6" y1="179.4" x2="228.8" y2="258.2" stroke="#8a8a8a" stroke-width="0.9" stroke-dasharray="1.2,1.8" fill="none"/>
<line x1="99.8" y1="238.7" x2="185.2" y2="119.8" stroke="#8a8a8a" stroke-width="0.9" stroke-dasharray="1.2,1.8" fill="none"/>
<line x1="67.2" y1="164.8" x2="239.6" y2="242.9" stroke="#8a8a8a" stroke-width="0.9" stroke-dasharray="1.2,1.8" fill="none"/>
<line x1="121.2" y1="248.8" x2="207.0" y2="129.0" stroke="#8a8a8a" stroke-width="0.9" stroke-dasharray="1.2,1.8" fill="none"/>
<line x1="77.8" y1="150.2" x2="250.5" y2="227.5" stroke="#8a8a8a" stroke-width="0.9" stroke-dasharray="1.2,1.8" fill="none"/>
<line x1="142.7" y1="258.8" x2="228.8" y2="138.2" stroke="#8a8a8a" stroke-width="0.9" stroke-dasharray="1.2,1.8" fill="none"/>
<line x1="88.3" y1="135.7" x2="261.4" y2="212.1" stroke="#8a8a8a" stroke-width="0.9" stroke-dasharray="1.2,1.8" fill="none"/>
<line x1="164.1" y1="268.9" x2="250.5" y2="147.5" stroke="#8a8a8a" stroke-width="0.9" stroke-dasharray="1.2,1.8" fill="none"/>
<line x1="98.9" y1="121.1" x2="272.2" y2="196.8" stroke="#8a8a8a" stroke-width="0.9" stroke-dasharray="1.2,1.8" fill="none"/>
<line x1="185.6" y1="278.9" x2="272.2" y2="156.8" stroke="#8a8a8a" stroke-width="0.9" stroke-dasharray="1.2,1.8" fill="none"/>
<line x1="109.4" y1="106.6" x2="283.1" y2="181.4" stroke="#8a8a8a" stroke-width="0.9" stroke-dasharray="1.2,1.8" fill="none"/>
<clipPath id="massclip"><polygon points="0.0,0.0 0.0,140.0 23.5,139.0 38.5,143.0 210.0,216.0 213.0,225.0 218.0,236.0 224.0,251.0 228.0,240.0 232.0,236.0 237.0,236.0 242.6,232.7 248.0,215.0 254.0,196.0 257.0,168.0 261.6,199.5 265.0,165.0 270.0,148.0 275.0,138.0 280.6,176.0 283.0,140.0 287.0,118.0 290.0,144.0 293.0,108.0 300.0,95.0 304.0,60.0 330.0,0.0 330.0,0.0"/></clipPath>
<clipPath id="mpoly"><polygon points="40.0,143.5 44.0,125.0 58.0,121.0 66.0,112.0 74.0,101.0 79.5,99.0 80.0,62.0 100.0,62.0 138.0,42.0 200.0,60.0 222.0,65.0 246.0,100.0 256.0,100.0 272.0,80.0 300.0,95.0 293.0,108.0 290.0,144.0 287.0,118.0 283.0,140.0 280.6,176.0 275.0,138.0 270.0,148.0 265.0,165.0 261.6,199.5 257.0,168.0 254.0,196.0 248.0,215.0 242.6,232.7 237.0,236.0 232.0,236.0 228.0,240.0 224.0,251.0 218.0,236.0 213.0,225.0 210.0,216.0 38.5,143.0"/></clipPath>
<g clip-path="url(#mpoly)">
<polygon points="40.0,143.5 44.0,125.0 58.0,121.0 66.0,112.0 74.0,101.0 79.5,99.0 80.0,62.0 100.0,62.0 138.0,42.0 200.0,60.0 222.0,65.0 246.0,100.0 256.0,100.0 272.0,80.0 300.0,95.0 293.0,108.0 290.0,144.0 287.0,118.0 283.0,140.0 280.6,176.0 275.0,138.0 270.0,148.0 265.0,165.0 261.6,199.5 257.0,168.0 254.0,196.0 248.0,215.0 242.6,232.7 237.0,236.0 232.0,236.0 228.0,240.0 224.0,251.0 218.0,236.0 213.0,225.0 210.0,216.0 38.5,143.0" fill="#0c0c0c"/>
<rect x="20.0" y="0" width="5.6" height="260" fill="#d01010"/>
<rect x="25.6" y="0" width="6.0" height="260" fill="#d01010"/>
<rect x="31.6" y="0" width="4.4" height="260" fill="#900e0e"/>
<rect x="36.0" y="0" width="4.5" height="260" fill="#900e0e"/>
<rect x="40.4" y="0" width="4.3" height="260" fill="#900e0e"/>
<rect x="44.7" y="0" width="5.1" height="260" fill="#d01010"/>
<rect x="49.8" y="0" width="6.2" height="260" fill="#d01010"/>
<rect x="56.0" y="0" width="5.2" height="260" fill="#900e0e"/>
<rect x="61.2" y="0" width="6.1" height="260" fill="#900e0e"/>
<rect x="67.3" y="0" width="4.6" height="260" fill="#d01010"/>
<rect x="71.9" y="0" width="7.2" height="260" fill="#900e0e"/>
<rect x="79.1" y="0" width="8.7" height="260" fill="#900e0e"/>
<rect x="87.8" y="0" width="6.9" height="260" fill="#d01010"/>
<rect x="94.7" y="0" width="8.9" height="260" fill="#d01010"/>
<rect x="103.6" y="0" width="6.8" height="260" fill="#d01010"/>
<rect x="110.4" y="0" width="5.4" height="260" fill="#d01010"/>
<rect x="115.8" y="0" width="6.7" height="260" fill="#900e0e"/>
<rect x="122.5" y="0" width="5.5" height="260" fill="#d01010"/>
<rect x="128.1" y="0" width="4.9" height="260" fill="#900e0e"/>
<rect x="133.0" y="0" width="6.9" height="260" fill="#d01010"/>
<rect x="139.8" y="0" width="5.9" height="260" fill="#900e0e"/>
<rect x="145.7" y="0" width="7.6" height="260" fill="#900e0e"/>
<rect x="153.3" y="0" width="4.3" height="260" fill="#d01010"/>
<rect x="157.6" y="0" width="6.5" height="260" fill="#900e0e"/>
<rect x="164.0" y="0" width="6.1" height="260" fill="#0a0a0a"/>
<rect x="170.2" y="0" width="6.3" height="260" fill="#0a0a0a"/>
<rect x="176.5" y="0" width="5.8" height="260" fill="#d01010"/>
<rect x="182.3" y="0" width="8.0" height="260" fill="#d01010"/>
<rect x="190.3" y="0" width="7.9" height="260" fill="#d01010"/>
<rect x="198.2" y="0" width="6.9" height="260" fill="#900e0e"/>
<rect x="205.1" y="0" width="6.5" height="260" fill="#0a0a0a"/>
<rect x="211.5" y="0" width="7.6" height="260" fill="#0a0a0a"/>
<rect x="219.2" y="0" width="7.0" height="260" fill="#d01010"/>
<rect x="226.2" y="0" width="4.6" height="260" fill="#0a0a0a"/>
<rect x="230.8" y="0" width="4.8" height="260" fill="#0a0a0a"/>
<rect x="235.6" y="0" width="4.8" height="260" fill="#0a0a0a"/>
<rect x="240.4" y="0" width="6.1" height="260" fill="#0a0a0a"/>
<rect x="246.5" y="0" width="7.8" height="260" fill="#0a0a0a"/>
<rect x="254.3" y="0" width="5.7" height="260" fill="#8a7c12"/>
<rect x="260.0" y="0" width="6.5" height="260" fill="#0a0a0a"/>
<rect x="266.5" y="0" width="8.2" height="260" fill="#0a0a0a"/>
<rect x="274.7" y="0" width="7.5" height="260" fill="#0a0a0a"/>
<rect x="282.2" y="0" width="7.7" height="260" fill="#8a7c12"/>
<rect x="289.9" y="0" width="9.0" height="260" fill="#0a0a0a"/>
<rect x="298.8" y="0" width="7.6" height="260" fill="#0a0a0a"/>
<polygon points="209.0,190.0 240.0,180.0 240.0,262.0 209.0,262.0" fill="#0a0a0a"/>
<polygon points="43.7,113.2 49.6,115.5 49.6,120.5 46.6,121.2 43.7,118.2" fill="#38d838"/>
<polygon points="121.5,159.0 125.8,160.7 125.8,165.7 123.7,167.0 121.5,164.0" fill="#14b814"/>
<polygon points="80.9,132.7 85.1,134.4 85.1,139.4 83.0,140.7 80.9,137.7" fill="#0a0a0a"/>
<polygon points="114.1,138.6 120.6,141.2 120.6,146.2 117.3,146.6 114.1,143.6" fill="#38d838"/>
<polygon points="182.6,181.8 189.5,184.6 189.5,189.6 186.0,189.8 182.6,186.8" fill="#0a0a0a"/>
<polygon points="152.6,163.8 157.1,165.6 157.1,170.6 154.9,171.8 152.6,168.8" fill="#38d838"/>
<polygon points="69.1,136.0 73.1,137.6 73.1,142.6 71.1,144.0 69.1,141.0" fill="#38d838"/>
<polygon points="177.1,184.5 181.1,186.1 181.1,191.1 179.1,192.5 177.1,189.5" fill="#14b814"/>
<polygon points="109.1,145.9 114.1,147.8 114.1,152.8 111.6,153.9 109.1,150.9" fill="#d01010"/>
<polygon points="60.7,99.8 66.7,102.2 66.7,107.2 63.7,107.8 60.7,104.8" fill="#d01010"/>
<polygon points="162.1,163.9 167.2,165.9 167.2,170.9 164.7,171.9 162.1,168.9" fill="#d01010"/>
<polygon points="105.8,158.3 110.0,160.0 110.0,165.0 107.9,166.3 105.8,163.3" fill="#0a0a0a"/>
<polygon points="51.1,129.5 55.4,131.2 55.4,136.2 53.3,137.5 51.1,134.5" fill="#38d838"/>
<polygon points="139.1,172.5 143.6,174.3 143.6,179.3 141.3,180.5 139.1,177.5" fill="#d01010"/>
<polygon points="56.7,123.9 61.0,125.5 61.0,130.5 58.8,131.9 56.7,128.9" fill="#d8cc1c"/>
<polygon points="74.3,130.7 81.2,133.4 81.2,138.4 77.7,138.7 74.3,135.7" fill="#14b814"/>
<polygon points="139.4,153.3 145.9,155.9 145.9,160.9 142.6,161.3 139.4,158.3" fill="#d8cc1c"/>
<polygon points="203.9,181.2 208.8,183.1 208.8,188.1 206.3,189.2 203.9,186.2" fill="#0a0a0a"/>
<polygon points="63.8,106.8 69.2,109.0 69.2,114.0 66.5,114.8 63.8,111.8" fill="#14b814"/>
<polygon points="154.2,157.4 161.0,160.1 161.0,165.1 157.6,165.4 154.2,162.4" fill="#38d838"/>
<polygon points="127.2,165.1 133.9,167.8 133.9,172.8 130.5,173.1 127.2,170.1" fill="#d01010"/>
<polygon points="165.1,173.4 171.2,175.8 171.2,180.8 168.1,181.4 165.1,178.4" fill="#d8cc1c"/>
<polygon points="83.1,134.9 88.2,136.9 88.2,141.9 85.6,142.9 83.1,139.9" fill="#38d838"/>
<polygon points="76.8,123.1 81.7,125.1 81.7,130.1 79.3,131.1 76.8,128.1" fill="#d01010"/>
<polygon points="76.8,109.1 83.2,111.7 83.2,116.7 80.0,117.1 76.8,114.1" fill="#38d838"/>
<polygon points="175.0,154.6 179.6,156.5 179.6,161.5 177.3,162.6 175.0,159.6" fill="#38d838"/>
<polygon points="121.3,132.2 127.7,134.8 127.7,139.8 124.5,140.2 121.3,137.2" fill="#d8cc1c"/>
<polygon points="117.9,158.7 124.8,161.5 124.8,166.5 121.4,166.7 117.9,163.7" fill="#d01010"/>
<polygon points="113.8,118.3 120.7,121.1 120.7,126.1 117.2,126.3 113.8,123.3" fill="#14b814"/>
<polygon points="100.2,149.8 105.6,151.9 105.6,156.9 102.9,157.8 100.2,154.8" fill="#38d838"/>
<polygon points="95.7,134.3 102.2,136.9 102.2,141.9 99.0,142.3 95.7,139.3" fill="#d01010"/>
<polygon points="119.1,135.4 125.6,138.0 125.6,143.0 122.4,143.4 119.1,140.4" fill="#d8cc1c"/>
<polygon points="59.8,123.9 65.2,126.0 65.2,131.0 62.5,131.9 59.8,128.9" fill="#38d838"/>
<polygon points="69.5,107.1 73.7,108.8 73.7,113.8 71.6,115.1 69.5,112.1" fill="#14b814"/>
<polygon points="196.1,164.6 201.3,166.6 201.3,171.6 198.7,172.6 196.1,169.6" fill="#0a0a0a"/>
<polygon points="196.2,164.4 203.2,167.2 203.2,172.2 199.7,172.4 196.2,169.4" fill="#38d838"/>
<polygon points="44.5,106.9 51.0,109.4 51.0,114.4 47.8,114.9 44.5,111.9" fill="#0a0a0a"/>
<polygon points="64.1,102.9 70.1,105.3 70.1,110.3 67.1,110.9 64.1,107.9" fill="#0a0a0a"/>
<polygon points="97.8,131.7 101.9,133.3 101.9,138.3 99.8,139.7 97.8,136.7" fill="#38d838"/>
<polygon points="171.9,154.0 177.5,156.2 177.5,161.2 174.7,162.0 171.9,159.0" fill="#d8cc1c"/>
<polygon points="194.0,178.7 200.5,181.2 200.5,186.2 197.3,186.7 194.0,183.7" fill="#38d838"/>
<polygon points="74.8,137.4 80.3,139.6 80.3,144.6 77.6,145.4 74.8,142.4" fill="#14b814"/>
<polygon points="166.0,172.3 171.3,174.4 171.3,179.4 168.6,180.3 166.0,177.3" fill="#d01010"/>
<polygon points="61.6,97.5 68.3,100.2 68.3,105.2 65.0,105.5 61.6,102.5" fill="#14b814"/>
<polygon points="149.3,139.8 154.6,141.9 154.6,146.9 151.9,147.8 149.3,144.8" fill="#d01010"/>
<polygon points="191.4,174.0 195.9,175.8 195.9,180.8 193.7,182.0 191.4,179.0" fill="#d01010"/>
<polygon points="124.2,126.1 130.1,128.4 130.1,133.4 127.2,134.1 124.2,131.1" fill="#38d838"/>
<polygon points="168.0,182.4 173.5,184.5 173.5,189.5 170.8,190.4 168.0,187.4" fill="#38d838"/>
<polygon points="159.7,157.6 165.7,160.1 165.7,165.1 162.7,165.6 159.7,162.6" fill="#14b814"/>
<polygon points="127.6,147.8 134.2,150.5 134.2,155.5 130.9,155.8 127.6,152.8" fill="#d8cc1c"/>
<polygon points="49.4,129.7 55.7,132.2 55.7,137.2 52.5,137.7 49.4,134.7" fill="#d8cc1c"/>
<polygon points="123.8,142.1 129.1,144.2 129.1,149.2 126.4,150.1 123.8,147.1" fill="#d8cc1c"/>
<polygon points="141.1,152.4 145.7,154.2 145.7,159.2 143.4,160.4 141.1,157.4" fill="#d01010"/>
<polygon points="85.7,128.7 91.3,130.9 91.3,135.9 88.5,136.7 85.7,133.7" fill="#0a0a0a"/>
<polygon points="80.9,125.8 87.6,128.5 87.6,133.5 84.2,133.8 80.9,130.8" fill="#14b814"/>
<polygon points="187.3,187.8 191.7,189.6 191.7,194.6 189.5,195.8 187.3,192.8" fill="#0a0a0a"/>
<polygon points="60.1,121.2 66.1,123.6 66.1,128.6 63.1,129.2 60.1,126.2" fill="#d8cc1c"/>
<polygon points="110.7,154.7 117.0,157.2 117.0,162.2 113.9,162.7 110.7,159.7" fill="#14b814"/>
<polygon points="188.0,190.6 192.4,192.4 192.4,197.4 190.2,198.6 188.0,195.6" fill="#14b814"/>
<polygon points="185.7,147.3 191.9,149.8 191.9,154.8 188.8,155.3 185.7,152.3" fill="#38d838"/>
<rect x="44.0" y="122.0" width="7.0" height="10.0" fill="#38d838"/>
<rect x="50.0" y="126.0" width="6.0" height="9.0" fill="#14b814"/>
<rect x="56.0" y="124.0" width="5.0" height="12.0" fill="#d8cc1c"/>
<rect x="47.0" y="132.0" width="5.0" height="8.0" fill="#d01010"/>
<rect x="52.0" y="134.0" width="4.0" height="6.0" fill="#0a0a0a"/>
<rect x="57.0" y="133.0" width="5.0" height="8.0" fill="#d01010"/>
<rect x="61.0" y="128.0" width="5.0" height="10.0" fill="#d8cc1c"/>
<rect x="44.0" y="135.0" width="4.0" height="8.0" fill="#900e0e"/>
<polygon points="245.2,187.9 248.2,175.5 251.2,187.9" fill="#d8cc1c"/>
<polygon points="285.8,112.0 288.8,95.5 291.8,112.0" fill="#d8cc1c"/>
<polygon points="262.2,139.2 265.2,123.9 268.2,139.2" fill="#d8cc1c"/>
<polygon points="279.7,97.0 282.7,78.7 285.7,97.0" fill="#8a7c12"/>
<polygon points="278.7,135.4 281.7,117.6 284.7,135.4" fill="#8a7c12"/>
<polygon points="268.2,101.8 271.2,77.0 274.2,101.8" fill="#d8cc1c"/>
<polygon points="293.4,106.0 296.4,92.0 299.4,106.0" fill="#d8cc1c"/>
<polygon points="289.8,114.1 292.8,92.7 295.8,114.1" fill="#8a7c12"/>
<polygon points="286.7,166.0 289.7,141.8 292.7,166.0" fill="#8a7c12"/>
<polygon points="248.2,191.5 251.2,173.0 254.2,191.5" fill="#d8cc1c"/>
<polygon points="258.0,124.3 261.0,102.3 264.0,124.3" fill="#d8cc1c"/>
<polygon points="263.4,102.6 266.4,78.5 269.4,102.6" fill="#d8cc1c"/>
<polygon points="244.9,122.4 247.9,103.2 250.9,122.4" fill="#d8cc1c"/>
<polygon points="243.7,185.6 246.7,168.8 249.7,185.6" fill="#8a7c12"/>
<polygon points="294.7,138.9 297.7,115.1 300.7,138.9" fill="#d8cc1c"/>
<polygon points="247.1,150.3 250.1,136.7 253.1,150.3" fill="#d8cc1c"/>
</g>
<g clip-path="url(#massclip)">
<polygon points="96.0,167.5 106.5,171.9 106.5,156.9 96.0,152.5" fill="#d01010"/>
<polygon points="106.5,171.9 118.6,177.1 118.6,162.1 106.5,156.9" fill="#0a0a0a"/>
<polygon points="118.6,177.1 130.5,182.1 130.5,167.1 118.6,162.1" fill="#d01010"/>
<polygon points="130.5,182.1 141.9,187.0 141.9,172.0 130.5,167.1" fill="#0a0a0a"/>
<polygon points="141.9,187.0 152.6,191.5 152.6,176.5 141.9,172.0" fill="#d01010"/>
<polygon points="152.6,191.5 164.9,196.8 164.9,181.8 152.6,176.5" fill="#0a0a0a"/>
<polygon points="164.9,196.8 177.4,202.1 177.4,187.1 164.9,181.8" fill="#d01010"/>
<polygon points="177.4,202.1 188.9,207.0 188.9,192.0 177.4,187.1" fill="#0a0a0a"/>
<polygon points="188.9,207.0 200.4,211.9 200.4,196.9 188.9,192.0" fill="#d01010"/>
<polygon points="200.4,211.9 210.0,216.0 210.0,201.0 200.4,196.9" fill="#0a0a0a"/>
<polygon points="231.0,172.0 240.0,168.0 252.0,176.0 247.0,229.0" fill="#8a7c12"/>
<polygon points="236.0,170.0 241.0,169.0 246.0,175.0 243.0,200.0" fill="#d8cc1c"/>
<polygon points="245.3,101.0 247.5,61.0 249.7,101.0" fill="#d8cc1c"/>
<polygon points="248.8,101.0 251.0,71.0 253.2,101.0" fill="#8a7c12"/>
<polygon points="251.8,100.0 254.0,54.0 256.2,100.0" fill="#d8cc1c"/>
<polygon points="246.8,101.0 249.0,79.0 251.2,101.0" fill="#0a0a0a"/>
<polygon points="217.3,62.0 219.5,37.0 221.7,62.0" fill="#14b814"/>
<polygon points="137.0,6.8 145.1,8.6 148.0,88.2 140.3,86.4" fill="#d01010" stroke="#222" stroke-width="0.4"/>
<polygon points="145.1,8.6 157.2,11.2 159.5,90.8 148.0,88.2" fill="#0a0a0a" stroke="#222" stroke-width="0.4"/>
<polygon points="157.2,11.2 164.0,12.7 165.9,92.3 159.5,90.8" fill="#d01010" stroke="#222" stroke-width="0.4"/>
<line x1="137.0" y1="10.4" x2="140.3" y2="85.4" stroke="#000" stroke-width="1.1"/>
<line x1="164.0" y1="16.3" x2="165.9" y2="91.3" stroke="#000" stroke-width="1.1"/>
<polygon points="137.0,4.6 145.1,4.6 146.0,6.6 154.1,6.6 155.0,8.5 163.1,8.5 164.0,10.7 164.0,16.1 163.1,13.9 155.0,13.9 154.1,12.0 146.0,12.0 145.1,10.0 137.0,10.0" fill="#d6d6d6" stroke="#111" stroke-width="1" stroke-linejoin="miter"/>
<polygon points="119.4,20.9 127.2,22.9 131.0,102.5 123.6,100.5" fill="#14b814" stroke="#222" stroke-width="0.4"/>
<polygon points="127.2,22.9 136.1,25.2 139.4,104.8 131.0,102.5" fill="#d8cc1c" stroke="#222" stroke-width="0.4"/>
<polygon points="136.1,25.2 141.6,26.7 144.7,106.3 139.4,104.8" fill="#14b814" stroke="#222" stroke-width="0.4"/>
<line x1="119.4" y1="24.5" x2="123.6" y2="99.5" stroke="#000" stroke-width="1.1"/>
<line x1="141.6" y1="30.3" x2="144.7" y2="105.3" stroke="#000" stroke-width="1.1"/>
<polygon points="120.2,19.1 126.6,21.0 125.8,26.2 119.4,24.3" fill="#dadada" stroke="#111" stroke-width="1"/>
<polygon points="127.6,21.0 134.0,23.0 133.2,28.2 126.8,26.2" fill="#dadada" stroke="#111" stroke-width="1"/>
<polygon points="135.0,23.0 141.4,24.9 140.6,30.1 134.2,28.2" fill="#dadada" stroke="#111" stroke-width="1"/>
<polygon points="166.0,29.0 173.6,31.2 174.9,110.8 167.8,108.6" fill="#d01010" stroke="#222" stroke-width="0.4"/>
<polygon points="173.6,31.2 182.2,33.6 183.2,113.2 174.9,110.8" fill="#0a0a0a" stroke="#222" stroke-width="0.4"/>
<polygon points="182.2,33.6 194.0,37.0 194.3,116.6 183.2,113.2" fill="#d01010" stroke="#222" stroke-width="0.4"/>
<line x1="166.0" y1="32.6" x2="167.8" y2="107.6" stroke="#000" stroke-width="1.1"/>
<line x1="194.0" y1="40.6" x2="194.3" y2="115.6" stroke="#000" stroke-width="1.1"/>
<polygon points="166.0,26.8 174.4,26.8 175.3,29.5 183.7,29.5 184.7,32.1 193.1,32.1 194.0,35.0 194.0,40.4 193.1,37.5 184.7,37.5 183.7,34.9 175.3,34.9 174.4,32.2 166.0,32.2" fill="#d6d6d6" stroke="#111" stroke-width="1" stroke-linejoin="miter"/>
<polygon points="97.0,36.0 106.5,39.1 111.7,123.8 102.8,120.6" fill="#d01010" stroke="#222" stroke-width="0.4"/>
<polygon points="106.5,39.1 118.0,43.0 122.6,127.6 111.7,123.8" fill="#0a0a0a" stroke="#222" stroke-width="0.4"/>
<line x1="97.0" y1="39.6" x2="102.8" y2="119.6" stroke="#000" stroke-width="1.1"/>
<line x1="118.0" y1="46.6" x2="122.6" y2="126.6" stroke="#000" stroke-width="1.1"/>
<polygon points="97.0,33.8 103.3,33.8 104.0,36.1 110.3,36.1 111.0,38.5 117.3,38.5 118.0,41.0 118.0,46.4 117.3,43.9 111.0,43.9 110.3,41.5 104.0,41.5 103.3,39.2 97.0,39.2" fill="#d6d6d6" stroke="#111" stroke-width="1" stroke-linejoin="miter"/>
<polygon points="221.8,40.0 229.0,41.9 227.5,121.5 220.7,119.6" fill="#d8cc1c" stroke="#222" stroke-width="0.4"/>
<polygon points="229.0,41.9 238.6,44.4 236.6,124.0 227.5,121.5" fill="#14b814" stroke="#222" stroke-width="0.4"/>
<polygon points="238.6,44.4 245.8,46.3 243.4,125.9 236.6,124.0" fill="#d8cc1c" stroke="#222" stroke-width="0.4"/>
<line x1="221.8" y1="43.6" x2="220.7" y2="118.6" stroke="#000" stroke-width="1.1"/>
<line x1="245.8" y1="49.9" x2="243.4" y2="124.9" stroke="#000" stroke-width="1.1"/>
<polygon points="222.6,38.2 227.6,39.8 226.8,45.0 221.8,43.4" fill="#dadada" stroke="#111" stroke-width="1"/>
<polygon points="228.6,39.8 233.6,41.4 232.8,46.5 227.8,45.0" fill="#dadada" stroke="#111" stroke-width="1"/>
<polygon points="234.6,41.4 239.6,42.9 238.8,48.1 233.8,46.5" fill="#dadada" stroke="#111" stroke-width="1"/>
<polygon points="240.6,42.9 245.6,44.5 244.8,49.7 239.8,48.1" fill="#dadada" stroke="#111" stroke-width="1"/>
<polygon points="144.0,45.0 151.2,47.1 154.0,131.8 147.1,129.6" fill="#38d838" stroke="#222" stroke-width="0.4"/>
<polygon points="151.2,47.1 161.4,50.2 163.6,134.8 154.0,131.8" fill="#d8cc1c" stroke="#222" stroke-width="0.4"/>
<polygon points="161.4,50.2 173.0,53.6 174.5,138.2 163.6,134.8" fill="#14b814" stroke="#222" stroke-width="0.4"/>
<line x1="144.0" y1="48.6" x2="147.1" y2="128.6" stroke="#000" stroke-width="1.1"/>
<line x1="173.0" y1="57.2" x2="174.5" y2="137.2" stroke="#000" stroke-width="1.1"/>
<polygon points="144.8,43.2 149.6,44.9 148.8,50.1 144.0,48.4" fill="#dadada" stroke="#111" stroke-width="1"/>
<polygon points="150.6,44.9 155.4,46.6 154.6,51.8 149.8,50.1" fill="#dadada" stroke="#111" stroke-width="1"/>
<polygon points="156.4,46.6 161.2,48.4 160.4,53.6 155.6,51.8" fill="#dadada" stroke="#111" stroke-width="1"/>
<polygon points="162.2,48.4 167.0,50.1 166.2,55.3 161.4,53.6" fill="#dadada" stroke="#111" stroke-width="1"/>
<polygon points="168.0,50.1 172.8,51.8 172.0,57.0 167.2,55.3" fill="#dadada" stroke="#111" stroke-width="1"/>
<polygon points="273.6,50.0 280.9,52.2 278.0,106.8 271.0,104.6" fill="#0a0a0a" stroke="#222" stroke-width="0.4"/>
<polygon points="280.9,52.2 285.2,53.6 282.3,108.2 278.0,106.8" fill="#d01010" stroke="#222" stroke-width="0.4"/>
<polygon points="285.2,53.6 289.6,55.0 286.5,109.5 282.3,108.2" fill="#14b814" stroke="#222" stroke-width="0.4"/>
<polygon points="289.6,55.0 294.0,56.3 290.7,110.9 286.5,109.5" fill="#d8cc1c" stroke="#222" stroke-width="0.4"/>
<polygon points="294.0,56.3 302.7,59.0 299.1,113.6 290.7,110.9" fill="#0a0a0a" stroke="#222" stroke-width="0.4"/>
<line x1="273.6" y1="53.6" x2="271.0" y2="103.6" stroke="#000" stroke-width="1.1"/>
<line x1="302.7" y1="62.6" x2="299.1" y2="112.6" stroke="#000" stroke-width="1.1"/>
<polygon points="273.6,47.8 280.1,47.8 280.9,50.0 287.4,50.0 288.1,52.3 294.7,52.3 295.4,54.5 302.0,54.5 302.7,57.0 302.7,62.4 302.0,59.9 295.4,59.9 294.7,57.7 288.1,57.7 287.4,55.4 280.9,55.4 280.1,53.2 273.6,53.2" fill="#d6d6d6" stroke="#111" stroke-width="1" stroke-linejoin="miter"/>
<polygon points="74.6,54.0 85.3,56.7 90.9,131.3 80.7,128.6" fill="#14b814" stroke="#222" stroke-width="0.4"/>
<polygon points="85.3,56.7 96.0,59.4 101.1,134.0 90.9,131.3" fill="#d8cc1c" stroke="#222" stroke-width="0.4"/>
<line x1="74.6" y1="57.6" x2="80.7" y2="127.6" stroke="#000" stroke-width="1.1"/>
<line x1="96.0" y1="63.0" x2="101.1" y2="133.0" stroke="#000" stroke-width="1.1"/>
<polygon points="75.4,52.2 81.5,54.0 80.7,59.2 74.6,57.4" fill="#dadada" stroke="#111" stroke-width="1"/>
<polygon points="82.5,54.0 88.7,55.8 87.9,61.0 81.7,59.2" fill="#dadada" stroke="#111" stroke-width="1"/>
<polygon points="89.7,55.8 95.8,57.6 95.0,62.8 88.9,61.0" fill="#dadada" stroke="#111" stroke-width="1"/>
<polygon points="199.0,56.4 206.0,58.5 205.7,143.2 199.1,141.0" fill="#0a0a0a" stroke="#222" stroke-width="0.4"/>
<polygon points="206.0,58.5 211.6,60.3 211.0,144.9 205.7,143.2" fill="#d01010" stroke="#222" stroke-width="0.4"/>
<polygon points="211.6,60.3 218.6,62.4 217.6,147.0 211.0,144.9" fill="#0a0a0a" stroke="#222" stroke-width="0.4"/>
<polygon points="218.6,62.4 222.8,63.7 221.5,148.3 217.6,147.0" fill="#d01010" stroke="#222" stroke-width="0.4"/>
<polygon points="222.8,63.7 227.0,65.0 225.5,149.6 221.5,148.3" fill="#0a0a0a" stroke="#222" stroke-width="0.4"/>
<line x1="199.0" y1="60.0" x2="199.1" y2="140.0" stroke="#000" stroke-width="1.1"/>
<line x1="227.0" y1="68.6" x2="225.5" y2="148.6" stroke="#000" stroke-width="1.1"/>
<polygon points="199.0,54.2 207.4,54.2 208.3,57.1 216.7,57.1 217.7,59.9 226.1,59.9 227.0,63.0 227.0,68.4 226.1,65.3 217.7,65.3 216.7,62.5 208.3,62.5 207.4,59.6 199.0,59.6" fill="#d6d6d6" stroke="#111" stroke-width="1" stroke-linejoin="miter"/>
<polygon points="120.4,62.7 126.3,64.8 129.9,139.4 124.3,137.3" fill="#d01010" stroke="#222" stroke-width="0.4"/>
<polygon points="126.3,64.8 130.2,66.1 133.6,140.7 129.9,139.4" fill="#0a0a0a" stroke="#222" stroke-width="0.4"/>
<polygon points="130.2,66.1 134.0,67.4 137.2,142.0 133.6,140.7" fill="#d8cc1c" stroke="#222" stroke-width="0.4"/>
<polygon points="134.0,67.4 137.0,68.5 140.1,143.1 137.2,142.0" fill="#0a0a0a" stroke="#222" stroke-width="0.4"/>
<polygon points="137.0,68.5 139.9,69.5 142.9,144.1 140.1,143.1" fill="#d01010" stroke="#222" stroke-width="0.4"/>
<polygon points="139.9,69.5 142.9,70.5 145.7,145.1 142.9,144.1" fill="#0a0a0a" stroke="#222" stroke-width="0.4"/>
<polygon points="142.9,70.5 150.0,73.0 152.4,147.6 145.7,145.1" fill="#d01010" stroke="#222" stroke-width="0.4"/>
<line x1="120.4" y1="66.3" x2="124.3" y2="136.3" stroke="#000" stroke-width="1.1"/>
<line x1="150.0" y1="76.6" x2="152.4" y2="146.6" stroke="#000" stroke-width="1.1"/>
<polygon points="120.4,60.5 127.1,60.5 127.8,63.1 134.5,63.1 135.2,65.6 141.9,65.6 142.6,68.2 149.3,68.2 150.0,71.0 150.0,76.4 149.3,73.6 142.6,73.6 141.9,71.0 135.2,71.0 134.5,68.5 127.8,68.5 127.1,65.9 120.4,65.9" fill="#d6d6d6" stroke="#111" stroke-width="1" stroke-linejoin="miter"/>
<polygon points="254.7,67.8 261.0,69.8 258.7,129.4 252.6,127.4" fill="#d8cc1c" stroke="#222" stroke-width="0.4"/>
<polygon points="261.0,69.8 272.1,73.4 269.3,133.0 258.7,129.4" fill="#14b814" stroke="#222" stroke-width="0.4"/>
<polygon points="272.1,73.4 286.3,77.9 283.0,137.5 269.3,133.0" fill="#d8cc1c" stroke="#222" stroke-width="0.4"/>
<line x1="254.7" y1="71.4" x2="252.6" y2="126.4" stroke="#000" stroke-width="1.1"/>
<line x1="286.3" y1="81.5" x2="283.0" y2="136.5" stroke="#000" stroke-width="1.1"/>
<polygon points="255.5,66.0 260.8,68.0 260.0,73.2 254.7,71.2" fill="#dadada" stroke="#111" stroke-width="1"/>
<polygon points="261.8,68.0 267.1,70.0 266.3,75.2 261.0,73.2" fill="#dadada" stroke="#111" stroke-width="1"/>
<polygon points="268.1,70.0 273.5,72.1 272.7,77.3 267.3,75.2" fill="#dadada" stroke="#111" stroke-width="1"/>
<polygon points="274.5,72.1 279.8,74.1 279.0,79.3 273.7,77.3" fill="#dadada" stroke="#111" stroke-width="1"/>
<polygon points="280.8,74.1 286.1,76.1 285.3,81.3 280.0,79.3" fill="#dadada" stroke="#111" stroke-width="1"/>
<polygon points="50.5,72.0 60.4,75.6 65.1,128.2 55.5,124.6" fill="#d01010" stroke="#222" stroke-width="0.4"/>
<polygon points="60.4,75.6 67.0,78.0 71.5,130.6 65.1,128.2" fill="#0a0a0a" stroke="#222" stroke-width="0.4"/>
<line x1="50.5" y1="75.6" x2="55.5" y2="123.6" stroke="#000" stroke-width="1.1"/>
<line x1="67.0" y1="81.6" x2="71.5" y2="129.6" stroke="#000" stroke-width="1.1"/>
<polygon points="50.5,69.8 57.9,69.8 58.8,72.8 66.2,72.8 67.0,76.0 67.0,81.4 66.2,78.2 58.8,78.2 57.9,75.2 50.5,75.2" fill="#d6d6d6" stroke="#111" stroke-width="1" stroke-linejoin="miter"/>
<polygon points="177.0,75.5 181.1,76.6 182.1,161.2 178.3,160.1" fill="#14b814" stroke="#222" stroke-width="0.4"/>
<polygon points="181.1,76.6 191.8,79.6 192.3,164.2 182.1,161.2" fill="#d8cc1c" stroke="#222" stroke-width="0.4"/>
<polygon points="191.8,79.6 204.0,83.0 203.8,167.6 192.3,164.2" fill="#14b814" stroke="#222" stroke-width="0.4"/>
<line x1="177.0" y1="79.1" x2="178.3" y2="159.1" stroke="#000" stroke-width="1.1"/>
<line x1="204.0" y1="86.6" x2="203.8" y2="166.6" stroke="#000" stroke-width="1.1"/>
<polygon points="177.8,73.7 183.6,75.6 182.8,80.8 177.0,78.9" fill="#dadada" stroke="#111" stroke-width="1"/>
<polygon points="184.6,75.6 190.3,77.5 189.5,82.6 183.8,80.8" fill="#dadada" stroke="#111" stroke-width="1"/>
<polygon points="191.3,77.5 197.1,79.3 196.2,84.5 190.5,82.6" fill="#dadada" stroke="#111" stroke-width="1"/>
<polygon points="198.1,79.3 203.8,81.2 203.0,86.4 197.2,84.5" fill="#dadada" stroke="#111" stroke-width="1"/>
<polygon points="94.3,81.0 98.8,82.7 101.9,132.3 97.6,130.6" fill="#d8cc1c" stroke="#222" stroke-width="0.4"/>
<polygon points="98.8,82.7 109.2,86.7 112.0,136.2 101.9,132.3" fill="#14b814" stroke="#222" stroke-width="0.4"/>
<polygon points="109.2,86.7 119.5,90.6 122.1,140.2 112.0,136.2" fill="#d8cc1c" stroke="#222" stroke-width="0.4"/>
<polygon points="119.5,90.6 124.0,92.3 126.4,141.9 122.1,140.2" fill="#14b814" stroke="#222" stroke-width="0.4"/>
<line x1="94.3" y1="84.6" x2="97.6" y2="129.6" stroke="#000" stroke-width="1.1"/>
<line x1="124.0" y1="95.9" x2="126.4" y2="140.9" stroke="#000" stroke-width="1.1"/>
<polygon points="95.1,79.2 100.0,81.5 99.2,86.7 94.3,84.4" fill="#dadada" stroke="#111" stroke-width="1"/>
<polygon points="101.0,81.5 106.0,83.7 105.2,88.9 100.2,86.7" fill="#dadada" stroke="#111" stroke-width="1"/>
<polygon points="107.0,83.7 111.9,86.0 111.1,91.2 106.2,88.9" fill="#dadada" stroke="#111" stroke-width="1"/>
<polygon points="112.9,86.0 117.9,88.2 117.1,93.4 112.1,91.2" fill="#dadada" stroke="#111" stroke-width="1"/>
<polygon points="118.9,88.2 123.8,90.5 123.0,95.7 118.1,93.4" fill="#dadada" stroke="#111" stroke-width="1"/>
<polygon points="233.0,88.0 241.5,90.5 239.8,155.1 231.6,152.6" fill="#d8cc1c" stroke="#222" stroke-width="0.4"/>
<polygon points="241.5,90.5 256.8,95.0 254.4,159.6 239.8,155.1" fill="#14b814" stroke="#222" stroke-width="0.4"/>
<polygon points="256.8,95.0 267.0,98.0 264.2,162.6 254.4,159.6" fill="#d8cc1c" stroke="#222" stroke-width="0.4"/>
<line x1="233.0" y1="91.6" x2="231.6" y2="151.6" stroke="#000" stroke-width="1.1"/>
<line x1="267.0" y1="101.6" x2="264.2" y2="161.6" stroke="#000" stroke-width="1.1"/>
<polygon points="233.0,85.8 240.7,85.8 241.5,88.3 249.2,88.3 250.0,90.8 257.6,90.8 258.5,93.3 266.1,93.3 267.0,96.0 267.0,101.4 266.1,98.7 258.5,98.7 257.6,96.2 250.0,96.2 249.2,93.7 241.5,93.7 240.7,91.2 233.0,91.2" fill="#d6d6d6" stroke="#111" stroke-width="1" stroke-linejoin="miter"/>
<polygon points="23.5,93.0 32.5,95.3 39.0,154.9 30.3,152.6" fill="#14b814" stroke="#222" stroke-width="0.4"/>
<polygon points="32.5,95.3 37.4,96.6 43.7,156.2 39.0,154.9" fill="#d8cc1c" stroke="#222" stroke-width="0.4"/>
<line x1="23.5" y1="96.6" x2="30.3" y2="151.6" stroke="#000" stroke-width="1.1"/>
<line x1="37.4" y1="100.2" x2="43.7" y2="155.2" stroke="#000" stroke-width="1.1"/>
<polygon points="24.3,91.2 30.2,93.0 29.4,98.2 23.5,96.4" fill="#dadada" stroke="#111" stroke-width="1"/>
<polygon points="31.2,93.0 37.2,94.8 36.4,100.0 30.4,98.2" fill="#dadada" stroke="#111" stroke-width="1"/>
<polygon points="152.5,94.0 158.8,96.3 160.3,154.9 154.3,152.6" fill="#14b814" stroke="#222" stroke-width="0.4"/>
<polygon points="158.8,96.3 169.7,100.2 170.9,158.8 160.3,154.9" fill="#d8cc1c" stroke="#222" stroke-width="0.4"/>
<polygon points="169.7,100.2 180.7,104.2 181.4,162.8 170.9,158.8" fill="#14b814" stroke="#222" stroke-width="0.4"/>
<polygon points="180.7,104.2 183.8,105.3 184.4,163.9 181.4,162.8" fill="#d8cc1c" stroke="#222" stroke-width="0.4"/>
<line x1="152.5" y1="97.6" x2="154.3" y2="151.6" stroke="#000" stroke-width="1.1"/>
<line x1="183.8" y1="108.9" x2="184.4" y2="162.9" stroke="#000" stroke-width="1.1"/>
<polygon points="152.5,91.8 159.5,91.8 160.3,94.6 167.4,94.6 168.2,97.5 175.2,97.5 176.0,100.3 183.0,100.3 183.8,103.3 183.8,108.7 183.0,105.7 176.0,105.7 175.2,102.8 168.2,102.8 167.4,100.0 160.3,100.0 159.5,97.2 152.5,97.2" fill="#d6d6d6" stroke="#111" stroke-width="1" stroke-linejoin="miter"/>
<polygon points="66.0,101.0 70.6,102.8 76.0,167.4 71.6,165.6" fill="#d8cc1c" stroke="#222" stroke-width="0.4"/>
<polygon points="70.6,102.8 84.2,108.2 89.1,172.8 76.0,167.4" fill="#14b814" stroke="#222" stroke-width="0.4"/>
<polygon points="84.2,108.2 96.4,113.0 100.8,177.6 89.1,172.8" fill="#d8cc1c" stroke="#222" stroke-width="0.4"/>
<line x1="66.0" y1="104.6" x2="71.6" y2="164.6" stroke="#000" stroke-width="1.1"/>
<line x1="96.4" y1="116.6" x2="100.8" y2="176.6" stroke="#000" stroke-width="1.1"/>
<polygon points="66.0,98.8 72.8,98.8 73.6,101.8 80.4,101.8 81.2,104.8 88.0,104.8 88.8,107.8 95.6,107.8 96.4,111.0 96.4,116.4 95.6,113.2 88.8,113.2 88.0,110.2 81.2,110.2 80.4,107.2 73.6,107.2 72.8,104.2 66.0,104.2" fill="#d6d6d6" stroke="#111" stroke-width="1" stroke-linejoin="miter"/>
<polygon points="216.0,108.8 224.3,111.7 223.1,186.3 215.2,183.4" fill="#0a0a0a" stroke="#222" stroke-width="0.4"/>
<polygon points="224.3,111.7 236.0,115.7 234.3,190.3 223.1,186.3" fill="#d01010" stroke="#222" stroke-width="0.4"/>
<polygon points="236.0,115.7 243.8,118.4 241.7,193.0 234.3,190.3" fill="#0a0a0a" stroke="#222" stroke-width="0.4"/>
<line x1="216.0" y1="112.4" x2="215.2" y2="182.4" stroke="#000" stroke-width="1.1"/>
<line x1="243.8" y1="122.0" x2="241.7" y2="192.0" stroke="#000" stroke-width="1.1"/>
<polygon points="216.8,107.0 222.8,109.4 221.9,114.6 216.0,112.2" fill="#dadada" stroke="#111" stroke-width="1"/>
<polygon points="223.8,109.4 229.7,111.8 228.9,117.0 222.9,114.6" fill="#dadada" stroke="#111" stroke-width="1"/>
<polygon points="230.7,111.8 236.7,114.2 235.9,119.4 229.9,117.0" fill="#dadada" stroke="#111" stroke-width="1"/>
<polygon points="237.7,114.2 243.6,116.6 242.8,121.8 236.9,119.4" fill="#dadada" stroke="#111" stroke-width="1"/>
<polygon points="126.5,115.7 134.1,118.8 136.6,176.4 129.2,173.3" fill="#d01010" stroke="#222" stroke-width="0.4"/>
<polygon points="134.1,118.8 141.8,121.8 143.9,179.4 136.6,176.4" fill="#0a0a0a" stroke="#222" stroke-width="0.4"/>
<polygon points="141.8,121.8 144.8,123.1 146.8,180.7 143.9,179.4" fill="#0a0a0a" stroke="#222" stroke-width="0.4"/>
<polygon points="144.8,123.1 152.4,126.2 154.2,183.8 146.8,180.7" fill="#d01010" stroke="#222" stroke-width="0.4"/>
<polygon points="152.4,126.2 153.9,126.8 155.7,184.4 154.2,183.8" fill="#0a0a0a" stroke="#222" stroke-width="0.4"/>
<polygon points="153.9,126.8 157.0,128.0 158.6,185.6 155.7,184.4" fill="#d01010" stroke="#222" stroke-width="0.4"/>
<line x1="126.5" y1="119.3" x2="129.2" y2="172.3" stroke="#000" stroke-width="1.1"/>
<line x1="157.0" y1="131.6" x2="158.6" y2="184.6" stroke="#000" stroke-width="1.1"/>
<polygon points="127.3,113.9 132.4,116.4 131.6,121.6 126.5,119.1" fill="#dadada" stroke="#111" stroke-width="1"/>
<polygon points="133.4,116.4 138.5,118.8 137.7,124.0 132.6,121.6" fill="#dadada" stroke="#111" stroke-width="1"/>
<polygon points="139.5,118.8 144.6,121.3 143.8,126.5 138.7,124.0" fill="#dadada" stroke="#111" stroke-width="1"/>
<polygon points="145.6,121.3 150.7,123.7 149.9,128.9 144.8,126.5" fill="#dadada" stroke="#111" stroke-width="1"/>
<polygon points="151.7,123.7 156.8,126.2 156.0,131.4 150.9,128.9" fill="#dadada" stroke="#111" stroke-width="1"/>
<polygon points="189.0,130.5 198.7,134.2 198.7,201.8 189.5,198.1" fill="#d8cc1c" stroke="#222" stroke-width="0.4"/>
<polygon points="198.7,134.2 205.1,136.6 204.9,204.2 198.7,201.8" fill="#14b814" stroke="#222" stroke-width="0.4"/>
<polygon points="205.1,136.6 208.3,137.8 208.0,205.4 204.9,204.2" fill="#d8cc1c" stroke="#222" stroke-width="0.4"/>
<polygon points="208.3,137.8 218.0,141.5 217.2,209.1 208.0,205.4" fill="#14b814" stroke="#222" stroke-width="0.4"/>
<polygon points="218.0,141.5 221.2,142.7 220.3,210.3 217.2,209.1" fill="#d8cc1c" stroke="#222" stroke-width="0.4"/>
<line x1="189.0" y1="134.1" x2="189.5" y2="197.1" stroke="#000" stroke-width="1.1"/>
<line x1="221.2" y1="146.3" x2="220.3" y2="209.3" stroke="#000" stroke-width="1.1"/>
<polygon points="189.0,128.3 196.2,128.3 197.1,131.4 204.3,131.4 205.1,134.4 212.3,134.4 213.1,137.4 220.4,137.4 221.2,140.7 221.2,146.1 220.4,142.8 213.1,142.8 212.3,139.8 205.1,139.8 204.3,136.8 197.1,136.8 196.2,133.7 189.0,133.7" fill="#d6d6d6" stroke="#111" stroke-width="1" stroke-linejoin="miter"/>
<polygon points="262.0,128.0 276.0,132.0 268.0,165.0" fill="#8a7c12"/>
<polygon points="276.0,104.0 288.0,108.0 281.0,138.0" fill="#d8cc1c"/>
<polygon points="233.0,150.0 240.0,151.0 236.0,178.0" fill="#d8cc1c"/>
<polygon points="222.0,172.0 231.0,173.0 226.0,186.0" fill="#d8cc1c"/>
<polygon points="286.0,98.0 293.0,95.0 289.0,125.0" fill="#8a7c12"/>
<polygon points="240.0,152.0 252.0,160.0 249.0,205.0" fill="#8a7c12"/>
<polygon points="96.3,169.4 99.0,160.3 101.7,168.4" fill="#38d838"/>
<polygon points="103.2,172.3 105.9,163.2 108.6,171.3" fill="#d8cc1c"/>
<polygon points="110.1,175.2 112.8,166.1 115.5,174.2" fill="#d8cc1c"/>
<polygon points="117.0,178.2 119.7,169.1 122.4,177.2" fill="#38d838"/>
<polygon points="123.9,181.1 126.6,172.0 129.3,180.1" fill="#38d838"/>
<polygon points="130.8,184.0 133.5,174.9 136.2,183.0" fill="#d8cc1c"/>
<polygon points="137.7,187.0 140.4,177.9 143.1,186.0" fill="#38d838"/>
<polygon points="144.6,189.9 147.3,180.8 150.0,188.9" fill="#38d838"/>
<polygon points="151.5,192.8 154.2,183.7 156.9,191.8" fill="#d8cc1c"/>
<polygon points="158.4,195.8 161.1,186.7 163.8,194.8" fill="#d8cc1c"/>
<polygon points="165.3,198.7 168.0,189.6 170.7,197.7" fill="#38d838"/>
<polygon points="172.2,201.7 174.9,192.6 177.6,200.7" fill="#d8cc1c"/>
<polygon points="179.1,204.6 181.8,195.5 184.5,203.6" fill="#d8cc1c"/>
<polygon points="186.0,207.5 188.7,198.4 191.4,206.5" fill="#38d838"/>
<polygon points="192.9,210.5 195.6,201.4 198.3,209.5" fill="#d8cc1c"/>
<polygon points="199.8,213.4 202.5,204.3 205.2,212.4" fill="#38d838"/>
<polygon points="206.7,216.3 209.4,207.2 212.1,215.3" fill="#38d838"/>
<polygon points="35.2,99.0 37.4,100.0 40.0,112.0 56.0,141.5 50.0,143.0 41.7,144.8 38.6,144.0" fill="#b8a816" stroke="#222" stroke-width="0.5"/>
</g>
<clipPath id="skirtclip"><polygon points="38.5,143.0 210.0,216.0 208.0,279.0 208.0,279.0 206.6,280.4 202.3,276.0 196.4,267.2 189.1,258.5 181.8,246.8 179.0,239.0 177.5,246.0 176.0,235.1 173.0,229.0 171.5,240.0 170.1,226.4 164.3,217.6 162.0,213.5 160.5,222.0 158.5,210.3 152.6,207.4 146.8,210.3 138.0,216.1 129.3,223.4 123.4,229.3 120.5,230.7 117.6,226.4 113.2,217.6 110.5,212.0 108.8,200.0 105.9,182.6 104.0,186.0 102.5,195.0 100.0,188.4 98.0,197.0 96.0,191.0 92.8,192.8 88.4,189.9 86.0,191.0 84.5,201.0 82.6,192.8 80.0,195.0 78.5,206.0 76.7,198.6 74.0,200.0 72.5,209.0 70.9,203.0 68.5,214.0 66.5,203.0 64.5,213.0 62.6,199.0 61.5,206.0 60.0,196.0 56.3,185.5 47.5,168.0 41.7,147.5"/></clipPath>
<g clip-path="url(#skirtclip)">
<polygon points="38.5,143.0 210.0,216.0 208.0,279.0 208.0,279.0 206.6,280.4 202.3,276.0 196.4,267.2 189.1,258.5 181.8,246.8 179.0,239.0 177.5,246.0 176.0,235.1 173.0,229.0 171.5,240.0 170.1,226.4 164.3,217.6 162.0,213.5 160.5,222.0 158.5,210.3 152.6,207.4 146.8,210.3 138.0,216.1 129.3,223.4 123.4,229.3 120.5,230.7 117.6,226.4 113.2,217.6 110.5,212.0 108.8,200.0 105.9,182.6 104.0,186.0 102.5,195.0 100.0,188.4 98.0,197.0 96.0,191.0 92.8,192.8 88.4,189.9 86.0,191.0 84.5,201.0 82.6,192.8 80.0,195.0 78.5,206.0 76.7,198.6 74.0,200.0 72.5,209.0 70.9,203.0 68.5,214.0 66.5,203.0 64.5,213.0 62.6,199.0 61.5,206.0 60.0,196.0 56.3,185.5 47.5,168.0 41.7,147.5" fill="#168216"/>
<polygon points="38.0,139.8 47.0,143.6 53.0,290.0 44.0,290.0" fill="#900e0e"/>
<polygon points="47.0,143.6 54.0,146.6 60.0,290.0 53.0,290.0" fill="#168216"/>
<polygon points="54.0,146.6 60.0,149.2 66.0,290.0 60.0,290.0" fill="#1f9a1f"/>
<polygon points="60.0,149.2 66.0,151.7 72.0,290.0 66.0,290.0" fill="#8a7c12"/>
<polygon points="66.0,151.7 72.0,154.3 78.0,290.0 72.0,290.0" fill="#168216"/>
<polygon points="72.0,154.3 80.0,157.7 86.0,290.0 78.0,290.0" fill="#8a7c12"/>
<polygon points="80.0,157.7 88.0,161.1 94.0,290.0 86.0,290.0" fill="#1f9a1f"/>
<polygon points="88.0,161.1 94.0,163.6 100.0,290.0 94.0,290.0" fill="#8a7c12"/>
<polygon points="94.0,163.6 101.0,166.6 107.0,290.0 100.0,290.0" fill="#168216"/>
<polygon points="101.0,166.6 106.0,168.7 112.0,290.0 107.0,290.0" fill="#0a0a0a"/>
<polygon points="106.0,168.7 111.0,170.9 117.0,290.0 112.0,290.0" fill="#900e0e"/>
<polygon points="111.0,170.9 125.0,176.8 131.0,290.0 117.0,290.0" fill="#0a0a0a"/>
<polygon points="125.0,176.8 131.0,179.4 133.0,290.0 127.0,290.0" fill="#8a7c12"/>
<polygon points="131.0,179.4 138.0,182.4 140.0,290.0 133.0,290.0" fill="#168216"/>
<polygon points="138.0,182.4 143.0,184.5 145.0,290.0 140.0,290.0" fill="#900e0e"/>
<polygon points="143.0,184.5 150.0,187.5 152.0,290.0 145.0,290.0" fill="#0a0a0a"/>
<polygon points="150.0,187.5 158.0,190.9 160.0,290.0 152.0,290.0" fill="#8a7c12"/>
<polygon points="158.0,190.9 166.0,194.3 168.0,290.0 160.0,290.0" fill="#168216"/>
<polygon points="166.0,194.3 175.0,198.1 177.0,290.0 168.0,290.0" fill="#1f9a1f"/>
<polygon points="175.0,198.1 188.0,203.6 190.0,290.0 177.0,290.0" fill="#8a7c12"/>
<polygon points="188.0,203.6 198.0,207.9 200.0,290.0 190.0,290.0" fill="#168216"/>
<polygon points="198.0,207.9 212.0,213.9 214.0,290.0 200.0,290.0" fill="#8a7c12"/>
<polygon points="111.0,200.0 118.0,205.0 124.0,208.0 127.0,212.0 126.0,232.0 118.0,230.0 112.0,214.0" fill="#0c0c0c"/>
</g>
<line x1="38.5" y1="143.0" x2="210.0" y2="216.0" stroke="#000" stroke-width="1.3"/>
<line x1="210" y1="214.3" x2="208" y2="279" stroke="#222" stroke-width="0.8"/>
<line x1="16.2" y1="91.0" x2="36.3" y2="209.3" stroke="#858585" stroke-width="3.9" stroke-linecap="square"/>
<line x1="17.3" y1="95.9" x2="18.6" y2="95.7" stroke="#e8e8e8" stroke-width="1.3"/>
<line x1="18.2" y1="100.8" x2="19.5" y2="100.6" stroke="#e8e8e8" stroke-width="1.3"/>
<line x1="19.0" y1="105.7" x2="20.3" y2="105.5" stroke="#e8e8e8" stroke-width="1.3"/>
<line x1="19.8" y1="110.7" x2="21.1" y2="110.4" stroke="#e8e8e8" stroke-width="1.3"/>
<line x1="20.7" y1="115.6" x2="22.0" y2="115.4" stroke="#e8e8e8" stroke-width="1.3"/>
<line x1="21.5" y1="120.5" x2="22.8" y2="120.3" stroke="#e8e8e8" stroke-width="1.3"/>
<line x1="22.4" y1="125.5" x2="23.6" y2="125.2" stroke="#e8e8e8" stroke-width="1.3"/>
<line x1="23.2" y1="130.4" x2="24.5" y2="130.2" stroke="#e8e8e8" stroke-width="1.3"/>
<line x1="24.0" y1="135.3" x2="25.3" y2="135.1" stroke="#e8e8e8" stroke-width="1.3"/>
<line x1="24.9" y1="140.2" x2="26.2" y2="140.0" stroke="#e8e8e8" stroke-width="1.3"/>
<line x1="25.7" y1="145.2" x2="27.0" y2="145.0" stroke="#e8e8e8" stroke-width="1.3"/>
<line x1="26.5" y1="150.1" x2="27.8" y2="149.9" stroke="#e8e8e8" stroke-width="1.3"/>
<line x1="27.4" y1="155.0" x2="28.7" y2="154.8" stroke="#e8e8e8" stroke-width="1.3"/>
<line x1="28.2" y1="160.0" x2="29.5" y2="159.7" stroke="#e8e8e8" stroke-width="1.3"/>
<line x1="29.1" y1="164.9" x2="30.3" y2="164.7" stroke="#e8e8e8" stroke-width="1.3"/>
<line x1="29.9" y1="169.8" x2="31.2" y2="169.6" stroke="#e8e8e8" stroke-width="1.3"/>
<line x1="30.7" y1="174.7" x2="32.0" y2="174.5" stroke="#e8e8e8" stroke-width="1.3"/>
<line x1="31.6" y1="179.7" x2="32.9" y2="179.5" stroke="#e8e8e8" stroke-width="1.3"/>
<line x1="32.4" y1="184.6" x2="33.7" y2="184.4" stroke="#e8e8e8" stroke-width="1.3"/>
<line x1="33.2" y1="189.5" x2="34.5" y2="189.3" stroke="#e8e8e8" stroke-width="1.3"/>
<line x1="34.1" y1="194.5" x2="35.4" y2="194.2" stroke="#e8e8e8" stroke-width="1.3"/>
<line x1="34.9" y1="199.4" x2="36.2" y2="199.2" stroke="#e8e8e8" stroke-width="1.3"/>
<line x1="35.8" y1="204.3" x2="37.0" y2="204.1" stroke="#e8e8e8" stroke-width="1.3"/>
<line x1="36.3" y1="209.3" x2="207.2" y2="290.0" stroke="#858585" stroke-width="3.9" stroke-linecap="square"/>
<line x1="40.7" y1="211.0" x2="41.3" y2="209.9" stroke="#e8e8e8" stroke-width="1.3"/>
<line x1="45.0" y1="213.1" x2="45.5" y2="211.9" stroke="#e8e8e8" stroke-width="1.3"/>
<line x1="49.2" y1="215.1" x2="49.8" y2="213.9" stroke="#e8e8e8" stroke-width="1.3"/>
<line x1="53.5" y1="217.1" x2="54.1" y2="215.9" stroke="#e8e8e8" stroke-width="1.3"/>
<line x1="57.8" y1="219.1" x2="58.3" y2="217.9" stroke="#e8e8e8" stroke-width="1.3"/>
<line x1="62.1" y1="221.1" x2="62.6" y2="220.0" stroke="#e8e8e8" stroke-width="1.3"/>
<line x1="66.3" y1="223.2" x2="66.9" y2="222.0" stroke="#e8e8e8" stroke-width="1.3"/>
<line x1="70.6" y1="225.2" x2="71.2" y2="224.0" stroke="#e8e8e8" stroke-width="1.3"/>
<line x1="74.9" y1="227.2" x2="75.4" y2="226.0" stroke="#e8e8e8" stroke-width="1.3"/>
<line x1="79.2" y1="229.2" x2="79.7" y2="228.0" stroke="#e8e8e8" stroke-width="1.3"/>
<line x1="83.4" y1="231.2" x2="84.0" y2="230.0" stroke="#e8e8e8" stroke-width="1.3"/>
<line x1="87.7" y1="233.2" x2="88.3" y2="232.1" stroke="#e8e8e8" stroke-width="1.3"/>
<line x1="92.0" y1="235.3" x2="92.5" y2="234.1" stroke="#e8e8e8" stroke-width="1.3"/>
<line x1="96.2" y1="237.3" x2="96.8" y2="236.1" stroke="#e8e8e8" stroke-width="1.3"/>
<line x1="100.5" y1="239.3" x2="101.1" y2="238.1" stroke="#e8e8e8" stroke-width="1.3"/>
<line x1="104.8" y1="241.3" x2="105.3" y2="240.1" stroke="#e8e8e8" stroke-width="1.3"/>
<line x1="109.1" y1="243.3" x2="109.6" y2="242.2" stroke="#e8e8e8" stroke-width="1.3"/>
<line x1="113.3" y1="245.3" x2="113.9" y2="244.2" stroke="#e8e8e8" stroke-width="1.3"/>
<line x1="117.6" y1="247.4" x2="118.2" y2="246.2" stroke="#e8e8e8" stroke-width="1.3"/>
<line x1="121.9" y1="249.4" x2="122.4" y2="248.2" stroke="#e8e8e8" stroke-width="1.3"/>
<line x1="126.2" y1="251.4" x2="126.7" y2="250.2" stroke="#e8e8e8" stroke-width="1.3"/>
<line x1="130.4" y1="253.4" x2="131.0" y2="252.2" stroke="#e8e8e8" stroke-width="1.3"/>
<line x1="134.7" y1="255.4" x2="135.3" y2="254.3" stroke="#e8e8e8" stroke-width="1.3"/>
<line x1="139.0" y1="257.4" x2="139.5" y2="256.3" stroke="#e8e8e8" stroke-width="1.3"/>
<line x1="143.2" y1="259.5" x2="143.8" y2="258.3" stroke="#e8e8e8" stroke-width="1.3"/>
<line x1="147.5" y1="261.5" x2="148.1" y2="260.3" stroke="#e8e8e8" stroke-width="1.3"/>
<line x1="151.8" y1="263.5" x2="152.3" y2="262.3" stroke="#e8e8e8" stroke-width="1.3"/>
<line x1="156.1" y1="265.5" x2="156.6" y2="264.3" stroke="#e8e8e8" stroke-width="1.3"/>
<line x1="160.3" y1="267.5" x2="160.9" y2="266.4" stroke="#e8e8e8" stroke-width="1.3"/>
<line x1="164.6" y1="269.6" x2="165.2" y2="268.4" stroke="#e8e8e8" stroke-width="1.3"/>
<line x1="168.9" y1="271.6" x2="169.4" y2="270.4" stroke="#e8e8e8" stroke-width="1.3"/>
<line x1="173.1" y1="273.6" x2="173.7" y2="272.4" stroke="#e8e8e8" stroke-width="1.3"/>
<line x1="177.4" y1="275.6" x2="178.0" y2="274.4" stroke="#e8e8e8" stroke-width="1.3"/>
<line x1="181.7" y1="277.6" x2="182.2" y2="276.4" stroke="#e8e8e8" stroke-width="1.3"/>
<line x1="186.0" y1="279.6" x2="186.5" y2="278.5" stroke="#e8e8e8" stroke-width="1.3"/>
<line x1="190.2" y1="281.7" x2="190.8" y2="280.5" stroke="#e8e8e8" stroke-width="1.3"/>
<line x1="194.5" y1="283.7" x2="195.1" y2="282.5" stroke="#e8e8e8" stroke-width="1.3"/>
<line x1="198.8" y1="285.7" x2="199.3" y2="284.5" stroke="#e8e8e8" stroke-width="1.3"/>
<line x1="203.1" y1="287.7" x2="203.6" y2="286.5" stroke="#e8e8e8" stroke-width="1.3"/>
<line x1="207.2" y1="290.0" x2="294.5" y2="165.5" stroke="#858585" stroke-width="3.9" stroke-linecap="square"/>
<line x1="209.1" y1="286.7" x2="208.1" y2="286.0" stroke="#e8e8e8" stroke-width="1.3"/>
<line x1="211.3" y1="283.6" x2="210.3" y2="282.9" stroke="#e8e8e8" stroke-width="1.3"/>
<line x1="213.5" y1="280.5" x2="212.4" y2="279.7" stroke="#e8e8e8" stroke-width="1.3"/>
<line x1="215.7" y1="277.4" x2="214.6" y2="276.6" stroke="#e8e8e8" stroke-width="1.3"/>
<line x1="217.9" y1="274.3" x2="216.8" y2="273.5" stroke="#e8e8e8" stroke-width="1.3"/>
<line x1="220.0" y1="271.2" x2="219.0" y2="270.4" stroke="#e8e8e8" stroke-width="1.3"/>
<line x1="222.2" y1="268.0" x2="221.2" y2="267.3" stroke="#e8e8e8" stroke-width="1.3"/>
<line x1="224.4" y1="264.9" x2="223.3" y2="264.2" stroke="#e8e8e8" stroke-width="1.3"/>
<line x1="226.6" y1="261.8" x2="225.5" y2="261.1" stroke="#e8e8e8" stroke-width="1.3"/>
<line x1="228.8" y1="258.7" x2="227.7" y2="258.0" stroke="#e8e8e8" stroke-width="1.3"/>
<line x1="231.0" y1="255.6" x2="229.9" y2="254.8" stroke="#e8e8e8" stroke-width="1.3"/>
<line x1="233.1" y1="252.5" x2="232.1" y2="251.7" stroke="#e8e8e8" stroke-width="1.3"/>
<line x1="235.3" y1="249.4" x2="234.3" y2="248.6" stroke="#e8e8e8" stroke-width="1.3"/>
<line x1="237.5" y1="246.3" x2="236.4" y2="245.5" stroke="#e8e8e8" stroke-width="1.3"/>
<line x1="239.7" y1="243.1" x2="238.6" y2="242.4" stroke="#e8e8e8" stroke-width="1.3"/>
<line x1="241.9" y1="240.0" x2="240.8" y2="239.3" stroke="#e8e8e8" stroke-width="1.3"/>
<line x1="244.1" y1="236.9" x2="243.0" y2="236.2" stroke="#e8e8e8" stroke-width="1.3"/>
<line x1="246.2" y1="233.8" x2="245.2" y2="233.1" stroke="#e8e8e8" stroke-width="1.3"/>
<line x1="248.4" y1="230.7" x2="247.4" y2="229.9" stroke="#e8e8e8" stroke-width="1.3"/>
<line x1="250.6" y1="227.6" x2="249.5" y2="226.8" stroke="#e8e8e8" stroke-width="1.3"/>
<line x1="252.8" y1="224.5" x2="251.7" y2="223.7" stroke="#e8e8e8" stroke-width="1.3"/>
<line x1="255.0" y1="221.4" x2="253.9" y2="220.6" stroke="#e8e8e8" stroke-width="1.3"/>
<line x1="257.2" y1="218.2" x2="256.1" y2="217.5" stroke="#e8e8e8" stroke-width="1.3"/>
<line x1="259.3" y1="215.1" x2="258.3" y2="214.4" stroke="#e8e8e8" stroke-width="1.3"/>
<line x1="261.5" y1="212.0" x2="260.5" y2="211.3" stroke="#e8e8e8" stroke-width="1.3"/>
<line x1="263.7" y1="208.9" x2="262.6" y2="208.2" stroke="#e8e8e8" stroke-width="1.3"/>
<line x1="265.9" y1="205.8" x2="264.8" y2="205.0" stroke="#e8e8e8" stroke-width="1.3"/>
<line x1="268.1" y1="202.7" x2="267.0" y2="201.9" stroke="#e8e8e8" stroke-width="1.3"/>
<line x1="270.2" y1="199.6" x2="269.2" y2="198.8" stroke="#e8e8e8" stroke-width="1.3"/>
<line x1="272.4" y1="196.5" x2="271.4" y2="195.7" stroke="#e8e8e8" stroke-width="1.3"/>
<line x1="274.6" y1="193.3" x2="273.5" y2="192.6" stroke="#e8e8e8" stroke-width="1.3"/>
<line x1="276.8" y1="190.2" x2="275.7" y2="189.5" stroke="#e8e8e8" stroke-width="1.3"/>
<line x1="279.0" y1="187.1" x2="277.9" y2="186.4" stroke="#e8e8e8" stroke-width="1.3"/>
<line x1="281.2" y1="184.0" x2="280.1" y2="183.3" stroke="#e8e8e8" stroke-width="1.3"/>
<line x1="283.3" y1="180.9" x2="282.3" y2="180.1" stroke="#e8e8e8" stroke-width="1.3"/>
<line x1="285.5" y1="177.8" x2="284.5" y2="177.0" stroke="#e8e8e8" stroke-width="1.3"/>
<line x1="287.7" y1="174.7" x2="286.6" y2="173.9" stroke="#e8e8e8" stroke-width="1.3"/>
<line x1="289.9" y1="171.6" x2="288.8" y2="170.8" stroke="#e8e8e8" stroke-width="1.3"/>
<line x1="292.1" y1="168.4" x2="291.0" y2="167.7" stroke="#e8e8e8" stroke-width="1.3"/>
<text x="10.0" y="119.6" font-family="Liberation Sans" font-weight="bold" font-size="21" text-anchor="middle">2</text>
<text x="18.5" y="164.1" font-family="Liberation Sans" font-weight="bold" font-size="21" text-anchor="middle">1</text>
<text x="26.5" y="205.6" font-family="Liberation Sans" font-weight="bold" font-size="21" text-anchor="middle">0</text>
<text x="43.5" y="235.1" font-family="Liberation Sans" font-weight="bold" font-size="21" text-anchor="middle">−2</text>
<text x="78.5" y="253.1" font-family="Liberation Sans" font-weight="bold" font-size="21" text-anchor="middle">−1</text>
<text x="119.0" y="272.1" font-family="Liberation Sans" font-weight="bold" font-size="21" text-anchor="middle">0</text>
<text x="159.0" y="291.6" font-family="Liberation Sans" font-weight="bold" font-size="21" text-anchor="middle">1</text>
<text x="202.3" y="313.1" font-family="Liberation Sans" font-weight="bold" font-size="21" text-anchor="middle">2</text>
<text x="110" y="305.5" font-family="Liberation Sans" font-weight="bold" font-size="30" text-anchor="middle">x</text>
<text x="301.0" y="181.6" font-family="Liberation Sans" font-weight="bold" font-size="21" text-anchor="middle">2</text>
<text x="283.0" y="208.6" font-family="Liberation Sans" font-weight="bold" font-size="21" text-anchor="middle">1</text>
<text x="263.5" y="237.1" font-family="Liberation Sans" font-weight="bold" font-size="21" text-anchor="middle">0</text>
<text x="247.6" y="269.6" font-family="Liberation Sans" font-weight="bold" font-size="21" text-anchor="middle">−1</text>
<text x="224.2" y="304.1" font-family="Liberation Sans" font-weight="bold" font-size="21" text-anchor="middle">−2</text>
<text x="276.0" y="247.3" font-family="Liberation Sans" font-weight="bold" font-size="30" text-anchor="middle">t</text>
</svg></body></html>
